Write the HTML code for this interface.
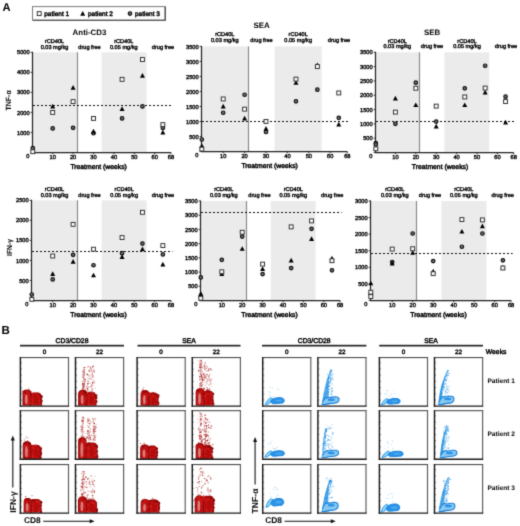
<!DOCTYPE html><html><head><meta charset="utf-8"><style>html,body{margin:0;padding:0;background:#fff;}svg{display:block;}#w{width:520px;height:526px;}text{font-family:"Liberation Sans",sans-serif;text-rendering:geometricPrecision;}</style></head><body><div id="w"><svg width="520" height="526" viewBox="0 0 520 526" font-family="Liberation Sans, sans-serif">
<defs><filter id="sb" x="0" y="0" width="520" height="526" filterUnits="userSpaceOnUse" color-interpolation-filters="sRGB"><feConvolveMatrix order="3" kernelMatrix="0.0196 0.1008 0.0196 0.1008 0.5184 0.1008 0.0196 0.1008 0.0196" divisor="1" edgeMode="duplicate" preserveAlpha="true"/></filter></defs>
<g filter="url(#sb)">
<rect width="520" height="526" fill="#fff"/>
<text x="2.4" y="11.3" font-size="11.2" text-anchor="start" font-weight="bold" fill="#000" >A</text>
<text x="1.5" y="333.8" font-size="11.5" text-anchor="start" font-weight="bold" fill="#000" >B</text>
<rect x="32.5" y="6.6" width="132.5" height="13.6" fill="#fff" stroke="#7a7a7a" stroke-width="1"/>
<path d="M33 20.3H165.3V6.6" fill="none" stroke="#444" stroke-width="1.1"/>
<rect x="37.25" y="11.65" width="3.9" height="3.9" fill="#fff" stroke="#2a2a2a" stroke-width="0.95"/>
<text x="44.2" y="15.9" font-size="6.5" text-anchor="start" fill="#000" stroke="#000" stroke-width="0.42" >patient 1</text>
<path d="M82.7 11L85.2 15.7L80.2 15.7Z" fill="#000"/>
<text x="88" y="15.9" font-size="6.5" text-anchor="start" fill="#000" stroke="#000" stroke-width="0.42" >patient 2</text>
<circle cx="130" cy="13.6" r="1.75" fill="#767676" stroke="#111" stroke-width="1.2"/>
<text x="135" y="15.9" font-size="6.5" text-anchor="start" fill="#000" stroke="#000" stroke-width="0.42" >patient 3</text>
<rect x="33.1" y="52.3" width="44.08" height="100.2" fill="#ebebeb"/>
<rect x="101.66" y="52.3" width="44.88" height="100.2" fill="#ebebeb"/>
<line x1="77.5" y1="52.3" x2="77.5" y2="152.5" stroke="#8a8a8a" stroke-width="1.2"/>
<line x1="33" y1="105.5" x2="172.52" y2="105.5" stroke="#111" stroke-width="1.2" stroke-dasharray="2 2"/>
<line x1="32.5" y1="51.8" x2="32.5" y2="153" stroke="#222" stroke-width="1.25"/>
<line x1="32" y1="152.5" x2="171.02" y2="152.5" stroke="#222" stroke-width="1.25"/>
<line x1="30.7" y1="152.5" x2="32.5" y2="152.5" stroke="#222" stroke-width="0.9"/>
<line x1="30.7" y1="132.46" x2="32.5" y2="132.46" stroke="#222" stroke-width="0.9"/>
<text x="29.7" y="134.56" font-size="5.7" text-anchor="end" fill="#000" stroke="#000" stroke-width="0.37" >1000</text>
<line x1="30.7" y1="112.42" x2="32.5" y2="112.42" stroke="#222" stroke-width="0.9"/>
<text x="29.7" y="114.52" font-size="5.7" text-anchor="end" fill="#000" stroke="#000" stroke-width="0.37" >2000</text>
<line x1="30.7" y1="92.38" x2="32.5" y2="92.38" stroke="#222" stroke-width="0.9"/>
<text x="29.7" y="94.48" font-size="5.7" text-anchor="end" fill="#000" stroke="#000" stroke-width="0.37" >3000</text>
<line x1="30.7" y1="72.34" x2="32.5" y2="72.34" stroke="#222" stroke-width="0.9"/>
<text x="29.7" y="74.44" font-size="5.7" text-anchor="end" fill="#000" stroke="#000" stroke-width="0.37" >4000</text>
<line x1="30.7" y1="52.3" x2="32.5" y2="52.3" stroke="#222" stroke-width="0.9"/>
<text x="29.7" y="54.4" font-size="5.7" text-anchor="end" fill="#000" stroke="#000" stroke-width="0.37" >5000</text>
<text x="29.3" y="157.9" font-size="5.7" text-anchor="end" fill="#000" stroke="#000" stroke-width="0.37" >0</text>
<line x1="52.7" y1="152.5" x2="52.7" y2="154.3" stroke="#222" stroke-width="0.9"/>
<text x="52.7" y="159.2" font-size="5.7" text-anchor="middle" fill="#000" stroke="#000" stroke-width="0.37" >10</text>
<line x1="73.1" y1="152.5" x2="73.1" y2="154.3" stroke="#222" stroke-width="0.9"/>
<text x="73.1" y="159.2" font-size="5.7" text-anchor="middle" fill="#000" stroke="#000" stroke-width="0.37" >20</text>
<line x1="93.5" y1="152.5" x2="93.5" y2="154.3" stroke="#222" stroke-width="0.9"/>
<text x="93.5" y="159.2" font-size="5.7" text-anchor="middle" fill="#000" stroke="#000" stroke-width="0.37" >30</text>
<line x1="113.9" y1="152.5" x2="113.9" y2="154.3" stroke="#222" stroke-width="0.9"/>
<text x="113.9" y="159.2" font-size="5.7" text-anchor="middle" fill="#000" stroke="#000" stroke-width="0.37" >40</text>
<line x1="134.3" y1="152.5" x2="134.3" y2="154.3" stroke="#222" stroke-width="0.9"/>
<text x="134.3" y="159.2" font-size="5.7" text-anchor="middle" fill="#000" stroke="#000" stroke-width="0.37" >50</text>
<line x1="154.7" y1="152.5" x2="154.7" y2="154.3" stroke="#222" stroke-width="0.9"/>
<text x="154.7" y="159.2" font-size="5.7" text-anchor="middle" fill="#000" stroke="#000" stroke-width="0.37" >60</text>
<line x1="171.02" y1="152.5" x2="171.02" y2="154.3" stroke="#222" stroke-width="0.9"/>
<text x="171.02" y="159.2" font-size="5.7" text-anchor="middle" fill="#000" stroke="#000" stroke-width="0.37" >68</text>
<text x="98.6" y="168.5" font-size="6.8" text-anchor="middle" fill="#000" stroke="#000" stroke-width="0.44" >Treatment (weeks)</text>
<text x="54.5" y="42.7" font-size="5.6" text-anchor="middle" fill="#000" stroke="#000" stroke-width="0.36" >rCD40L</text>
<text x="54.5" y="48.8" font-size="5.6" text-anchor="middle" fill="#000" stroke="#000" stroke-width="0.36" >0.03 mg/kg</text>
<text x="89.5" y="48.8" font-size="5.6" text-anchor="middle" fill="#000" stroke="#000" stroke-width="0.36" >drug free</text>
<text x="123.8" y="42.7" font-size="5.6" text-anchor="middle" fill="#000" stroke="#000" stroke-width="0.36" >rCD40L</text>
<text x="123.8" y="48.8" font-size="5.6" text-anchor="middle" fill="#000" stroke="#000" stroke-width="0.36" >0.05 mg/kg</text>
<text x="163" y="48.8" font-size="5.6" text-anchor="middle" fill="#000" stroke="#000" stroke-width="0.36" >drug free</text>
<text x="89.5" y="34.5" font-size="7.9" text-anchor="middle" font-weight="bold" fill="#000" >Anti-CD3</text>
<circle cx="32.8" cy="148.09" r="1.75" fill="#767676" stroke="#111" stroke-width="1.2"/>
<circle cx="52.7" cy="128.45" r="1.75" fill="#767676" stroke="#111" stroke-width="1.2"/>
<circle cx="73.1" cy="127.85" r="1.75" fill="#767676" stroke="#111" stroke-width="1.2"/>
<circle cx="93.5" cy="133.26" r="1.75" fill="#767676" stroke="#111" stroke-width="1.2"/>
<circle cx="122.06" cy="118.43" r="1.75" fill="#767676" stroke="#111" stroke-width="1.2"/>
<circle cx="142.46" cy="106.41" r="1.75" fill="#767676" stroke="#111" stroke-width="1.2"/>
<circle cx="162.86" cy="127.95" r="1.75" fill="#767676" stroke="#111" stroke-width="1.2"/>
<path d="M52.7 103.81L55.2 108.51L50.2 108.51Z" fill="#000"/>
<path d="M73.1 84.97L75.6 89.67L70.6 89.67Z" fill="#000"/>
<path d="M93.5 128.86L96 133.56L91 133.56Z" fill="#000"/>
<path d="M122.06 106.21L124.56 110.91L119.56 110.91Z" fill="#000"/>
<path d="M142.46 72.95L144.96 77.65L139.96 77.65Z" fill="#000"/>
<path d="M162.86 129.86L165.36 134.56L160.36 134.56Z" fill="#000"/>
<rect x="30.85" y="149.75" width="3.9" height="3.9" fill="#fff" stroke="#2a2a2a" stroke-width="0.95"/>
<rect x="50.75" y="110.47" width="3.9" height="3.9" fill="#fff" stroke="#2a2a2a" stroke-width="0.95"/>
<rect x="71.15" y="99.65" width="3.9" height="3.9" fill="#fff" stroke="#2a2a2a" stroke-width="0.95"/>
<rect x="91.55" y="116.48" width="3.9" height="3.9" fill="#fff" stroke="#2a2a2a" stroke-width="0.95"/>
<rect x="120.11" y="77.4" width="3.9" height="3.9" fill="#fff" stroke="#2a2a2a" stroke-width="0.95"/>
<rect x="140.51" y="57.56" width="3.9" height="3.9" fill="#fff" stroke="#2a2a2a" stroke-width="0.95"/>
<rect x="160.91" y="122.69" width="3.9" height="3.9" fill="#fff" stroke="#2a2a2a" stroke-width="0.95"/>
<rect x="202.1" y="46.4" width="46.78" height="105.1" fill="#ebebeb"/>
<rect x="274.56" y="46.4" width="47.08" height="105.1" fill="#ebebeb"/>
<line x1="248.5" y1="46.4" x2="248.5" y2="151.5" stroke="#8a8a8a" stroke-width="1.2"/>
<line x1="202" y1="121.5" x2="348.82" y2="121.5" stroke="#111" stroke-width="1.2" stroke-dasharray="2 2"/>
<line x1="201.5" y1="45.9" x2="201.5" y2="152" stroke="#222" stroke-width="1.25"/>
<line x1="201" y1="151.5" x2="347.32" y2="151.5" stroke="#222" stroke-width="1.25"/>
<line x1="199.7" y1="151.5" x2="201.5" y2="151.5" stroke="#222" stroke-width="0.9"/>
<line x1="199.7" y1="136.49" x2="201.5" y2="136.49" stroke="#222" stroke-width="0.9"/>
<text x="198.7" y="138.59" font-size="5.7" text-anchor="end" fill="#000" stroke="#000" stroke-width="0.37" >500</text>
<line x1="199.7" y1="121.47" x2="201.5" y2="121.47" stroke="#222" stroke-width="0.9"/>
<text x="198.7" y="123.57" font-size="5.7" text-anchor="end" fill="#000" stroke="#000" stroke-width="0.37" >1000</text>
<line x1="199.7" y1="106.46" x2="201.5" y2="106.46" stroke="#222" stroke-width="0.9"/>
<text x="198.7" y="108.56" font-size="5.7" text-anchor="end" fill="#000" stroke="#000" stroke-width="0.37" >1500</text>
<line x1="199.7" y1="91.44" x2="201.5" y2="91.44" stroke="#222" stroke-width="0.9"/>
<text x="198.7" y="93.54" font-size="5.7" text-anchor="end" fill="#000" stroke="#000" stroke-width="0.37" >2000</text>
<line x1="199.7" y1="76.43" x2="201.5" y2="76.43" stroke="#222" stroke-width="0.9"/>
<text x="198.7" y="78.53" font-size="5.7" text-anchor="end" fill="#000" stroke="#000" stroke-width="0.37" >2500</text>
<line x1="199.7" y1="61.41" x2="201.5" y2="61.41" stroke="#222" stroke-width="0.9"/>
<text x="198.7" y="63.51" font-size="5.7" text-anchor="end" fill="#000" stroke="#000" stroke-width="0.37" >3000</text>
<line x1="199.7" y1="46.4" x2="201.5" y2="46.4" stroke="#222" stroke-width="0.9"/>
<text x="198.7" y="48.5" font-size="5.7" text-anchor="end" fill="#000" stroke="#000" stroke-width="0.37" >3500</text>
<text x="198.3" y="156.9" font-size="5.7" text-anchor="end" fill="#000" stroke="#000" stroke-width="0.37" >0</text>
<line x1="223.2" y1="151.5" x2="223.2" y2="153.3" stroke="#222" stroke-width="0.9"/>
<text x="223.2" y="158.2" font-size="5.7" text-anchor="middle" fill="#000" stroke="#000" stroke-width="0.37" >10</text>
<line x1="244.6" y1="151.5" x2="244.6" y2="153.3" stroke="#222" stroke-width="0.9"/>
<text x="244.6" y="158.2" font-size="5.7" text-anchor="middle" fill="#000" stroke="#000" stroke-width="0.37" >20</text>
<line x1="266" y1="151.5" x2="266" y2="153.3" stroke="#222" stroke-width="0.9"/>
<text x="266" y="158.2" font-size="5.7" text-anchor="middle" fill="#000" stroke="#000" stroke-width="0.37" >30</text>
<line x1="287.4" y1="151.5" x2="287.4" y2="153.3" stroke="#222" stroke-width="0.9"/>
<text x="287.4" y="158.2" font-size="5.7" text-anchor="middle" fill="#000" stroke="#000" stroke-width="0.37" >40</text>
<line x1="308.8" y1="151.5" x2="308.8" y2="153.3" stroke="#222" stroke-width="0.9"/>
<text x="308.8" y="158.2" font-size="5.7" text-anchor="middle" fill="#000" stroke="#000" stroke-width="0.37" >50</text>
<line x1="330.2" y1="151.5" x2="330.2" y2="153.3" stroke="#222" stroke-width="0.9"/>
<text x="330.2" y="158.2" font-size="5.7" text-anchor="middle" fill="#000" stroke="#000" stroke-width="0.37" >60</text>
<line x1="347.32" y1="151.5" x2="347.32" y2="153.3" stroke="#222" stroke-width="0.9"/>
<text x="347.32" y="158.2" font-size="5.7" text-anchor="middle" fill="#000" stroke="#000" stroke-width="0.37" >68</text>
<text x="269.6" y="167.5" font-size="6.8" text-anchor="middle" fill="#000" stroke="#000" stroke-width="0.44" >Treatment (weeks)</text>
<text x="224.8" y="35.9" font-size="5.6" text-anchor="middle" fill="#000" stroke="#000" stroke-width="0.36" >rCD40L</text>
<text x="224.8" y="42.3" font-size="5.6" text-anchor="middle" fill="#000" stroke="#000" stroke-width="0.36" >0.03 mg/kg</text>
<text x="261.5" y="42.3" font-size="5.6" text-anchor="middle" fill="#000" stroke="#000" stroke-width="0.36" >drug free</text>
<text x="298.2" y="35.9" font-size="5.6" text-anchor="middle" fill="#000" stroke="#000" stroke-width="0.36" >rCD40L</text>
<text x="298.2" y="42.3" font-size="5.6" text-anchor="middle" fill="#000" stroke="#000" stroke-width="0.36" >0.05 mg/kg</text>
<text x="339" y="42.3" font-size="5.6" text-anchor="middle" fill="#000" stroke="#000" stroke-width="0.36" >drug free</text>
<text x="261.5" y="28.2" font-size="7.9" text-anchor="middle" font-weight="bold" fill="#000" >SEA</text>
<circle cx="201.8" cy="139.49" r="1.75" fill="#767676" stroke="#111" stroke-width="1.2"/>
<circle cx="223.2" cy="112.76" r="1.75" fill="#767676" stroke="#111" stroke-width="1.2"/>
<circle cx="244.6" cy="94.75" r="1.75" fill="#767676" stroke="#111" stroke-width="1.2"/>
<circle cx="266" cy="131.98" r="1.75" fill="#767676" stroke="#111" stroke-width="1.2"/>
<circle cx="295.96" cy="101.35" r="1.75" fill="#767676" stroke="#111" stroke-width="1.2"/>
<circle cx="317.36" cy="89.64" r="1.75" fill="#767676" stroke="#111" stroke-width="1.2"/>
<circle cx="338.76" cy="117.87" r="1.75" fill="#767676" stroke="#111" stroke-width="1.2"/>
<path d="M201.8 143.19L204.3 147.89L199.3 147.89Z" fill="#000"/>
<path d="M223.2 103.86L225.7 108.56L220.7 108.56Z" fill="#000"/>
<path d="M244.6 115.87L247.1 120.57L242.1 120.57Z" fill="#000"/>
<path d="M266 126.08L268.5 130.78L263.5 130.78Z" fill="#000"/>
<path d="M295.96 80.13L298.46 84.83L293.46 84.83Z" fill="#000"/>
<path d="M317.36 62.42L319.86 67.12L314.86 67.12Z" fill="#000"/>
<path d="M338.76 121.87L341.26 126.57L336.26 126.57Z" fill="#000"/>
<rect x="199.85" y="147.15" width="3.9" height="3.9" fill="#fff" stroke="#2a2a2a" stroke-width="0.95"/>
<rect x="221.25" y="97" width="3.9" height="3.9" fill="#fff" stroke="#2a2a2a" stroke-width="0.95"/>
<rect x="242.65" y="107.21" width="3.9" height="3.9" fill="#fff" stroke="#2a2a2a" stroke-width="0.95"/>
<rect x="264.05" y="119.52" width="3.9" height="3.9" fill="#fff" stroke="#2a2a2a" stroke-width="0.95"/>
<rect x="294.01" y="77.18" width="3.9" height="3.9" fill="#fff" stroke="#2a2a2a" stroke-width="0.95"/>
<rect x="315.41" y="64.57" width="3.9" height="3.9" fill="#fff" stroke="#2a2a2a" stroke-width="0.95"/>
<rect x="336.81" y="90.99" width="3.9" height="3.9" fill="#fff" stroke="#2a2a2a" stroke-width="0.95"/>
<rect x="376.1" y="52.3" width="43.78" height="100.2" fill="#ebebeb"/>
<rect x="444.36" y="52.3" width="44.88" height="100.2" fill="#ebebeb"/>
<line x1="419.5" y1="52.3" x2="419.5" y2="152.5" stroke="#8a8a8a" stroke-width="1.2"/>
<line x1="376" y1="121.5" x2="515.22" y2="121.5" stroke="#111" stroke-width="1.2" stroke-dasharray="2 2"/>
<line x1="375.5" y1="51.8" x2="375.5" y2="153" stroke="#222" stroke-width="1.25"/>
<line x1="375" y1="152.5" x2="513.72" y2="152.5" stroke="#222" stroke-width="1.25"/>
<line x1="373.7" y1="152.5" x2="375.5" y2="152.5" stroke="#222" stroke-width="0.9"/>
<line x1="373.7" y1="138.19" x2="375.5" y2="138.19" stroke="#222" stroke-width="0.9"/>
<text x="372.7" y="140.29" font-size="5.7" text-anchor="end" fill="#000" stroke="#000" stroke-width="0.37" >500</text>
<line x1="373.7" y1="123.87" x2="375.5" y2="123.87" stroke="#222" stroke-width="0.9"/>
<text x="372.7" y="125.97" font-size="5.7" text-anchor="end" fill="#000" stroke="#000" stroke-width="0.37" >1000</text>
<line x1="373.7" y1="109.56" x2="375.5" y2="109.56" stroke="#222" stroke-width="0.9"/>
<text x="372.7" y="111.66" font-size="5.7" text-anchor="end" fill="#000" stroke="#000" stroke-width="0.37" >1500</text>
<line x1="373.7" y1="95.24" x2="375.5" y2="95.24" stroke="#222" stroke-width="0.9"/>
<text x="372.7" y="97.34" font-size="5.7" text-anchor="end" fill="#000" stroke="#000" stroke-width="0.37" >2000</text>
<line x1="373.7" y1="80.93" x2="375.5" y2="80.93" stroke="#222" stroke-width="0.9"/>
<text x="372.7" y="83.03" font-size="5.7" text-anchor="end" fill="#000" stroke="#000" stroke-width="0.37" >2500</text>
<line x1="373.7" y1="66.61" x2="375.5" y2="66.61" stroke="#222" stroke-width="0.9"/>
<text x="372.7" y="68.71" font-size="5.7" text-anchor="end" fill="#000" stroke="#000" stroke-width="0.37" >3000</text>
<line x1="373.7" y1="52.3" x2="375.5" y2="52.3" stroke="#222" stroke-width="0.9"/>
<text x="372.7" y="54.4" font-size="5.7" text-anchor="end" fill="#000" stroke="#000" stroke-width="0.37" >3500</text>
<text x="372.3" y="157.9" font-size="5.7" text-anchor="end" fill="#000" stroke="#000" stroke-width="0.37" >0</text>
<line x1="395.4" y1="152.5" x2="395.4" y2="154.3" stroke="#222" stroke-width="0.9"/>
<text x="395.4" y="159.2" font-size="5.7" text-anchor="middle" fill="#000" stroke="#000" stroke-width="0.37" >10</text>
<line x1="415.8" y1="152.5" x2="415.8" y2="154.3" stroke="#222" stroke-width="0.9"/>
<text x="415.8" y="159.2" font-size="5.7" text-anchor="middle" fill="#000" stroke="#000" stroke-width="0.37" >20</text>
<line x1="436.2" y1="152.5" x2="436.2" y2="154.3" stroke="#222" stroke-width="0.9"/>
<text x="436.2" y="159.2" font-size="5.7" text-anchor="middle" fill="#000" stroke="#000" stroke-width="0.37" >30</text>
<line x1="456.6" y1="152.5" x2="456.6" y2="154.3" stroke="#222" stroke-width="0.9"/>
<text x="456.6" y="159.2" font-size="5.7" text-anchor="middle" fill="#000" stroke="#000" stroke-width="0.37" >40</text>
<line x1="477" y1="152.5" x2="477" y2="154.3" stroke="#222" stroke-width="0.9"/>
<text x="477" y="159.2" font-size="5.7" text-anchor="middle" fill="#000" stroke="#000" stroke-width="0.37" >50</text>
<line x1="497.4" y1="152.5" x2="497.4" y2="154.3" stroke="#222" stroke-width="0.9"/>
<text x="497.4" y="159.2" font-size="5.7" text-anchor="middle" fill="#000" stroke="#000" stroke-width="0.37" >60</text>
<line x1="513.72" y1="152.5" x2="513.72" y2="154.3" stroke="#222" stroke-width="0.9"/>
<text x="513.72" y="159.2" font-size="5.7" text-anchor="middle" fill="#000" stroke="#000" stroke-width="0.37" >68</text>
<text x="440" y="168.5" font-size="6.8" text-anchor="middle" fill="#000" stroke="#000" stroke-width="0.44" >Treatment (weeks)</text>
<text x="397.3" y="42.6" font-size="5.6" text-anchor="middle" fill="#000" stroke="#000" stroke-width="0.36" >rCD40L</text>
<text x="397.3" y="48.3" font-size="5.6" text-anchor="middle" fill="#000" stroke="#000" stroke-width="0.36" >0.03 mg/kg</text>
<text x="432" y="48.3" font-size="5.6" text-anchor="middle" fill="#000" stroke="#000" stroke-width="0.36" >drug free</text>
<text x="467" y="42.6" font-size="5.6" text-anchor="middle" fill="#000" stroke="#000" stroke-width="0.36" >rCD40L</text>
<text x="467" y="48.3" font-size="5.6" text-anchor="middle" fill="#000" stroke="#000" stroke-width="0.36" >0.05 mg/kg</text>
<text x="506" y="48.3" font-size="5.6" text-anchor="middle" fill="#000" stroke="#000" stroke-width="0.36" >drug free</text>
<text x="432" y="35" font-size="7.9" text-anchor="middle" font-weight="bold" fill="#000" >SEB</text>
<circle cx="375.8" cy="143.05" r="1.75" fill="#767676" stroke="#111" stroke-width="1.2"/>
<circle cx="375.8" cy="144.48" r="1.75" fill="#767676" stroke="#111" stroke-width="1.2"/>
<circle cx="395.4" cy="123.87" r="1.75" fill="#767676" stroke="#111" stroke-width="1.2"/>
<circle cx="415.8" cy="82.65" r="1.75" fill="#767676" stroke="#111" stroke-width="1.2"/>
<circle cx="436.2" cy="121.58" r="1.75" fill="#767676" stroke="#111" stroke-width="1.2"/>
<circle cx="464.76" cy="88.37" r="1.75" fill="#767676" stroke="#111" stroke-width="1.2"/>
<circle cx="485.16" cy="65.76" r="1.75" fill="#767676" stroke="#111" stroke-width="1.2"/>
<circle cx="505.56" cy="96.67" r="1.75" fill="#767676" stroke="#111" stroke-width="1.2"/>
<path d="M395.4 95.79L397.9 100.49L392.9 100.49Z" fill="#000"/>
<path d="M415.8 102.38L418.3 107.08L413.3 107.08Z" fill="#000"/>
<path d="M436.2 123.85L438.7 128.55L433.7 128.55Z" fill="#000"/>
<path d="M464.76 102.38L467.26 107.08L462.26 107.08Z" fill="#000"/>
<path d="M485.16 89.78L487.66 94.48L482.66 94.48Z" fill="#000"/>
<path d="M505.56 119.84L508.06 124.54L503.06 124.54Z" fill="#000"/>
<rect x="373.85" y="146.83" width="3.9" height="3.9" fill="#fff" stroke="#2a2a2a" stroke-width="0.95"/>
<rect x="393.45" y="110.18" width="3.9" height="3.9" fill="#fff" stroke="#2a2a2a" stroke-width="0.95"/>
<rect x="413.85" y="86.28" width="3.9" height="3.9" fill="#fff" stroke="#2a2a2a" stroke-width="0.95"/>
<rect x="434.25" y="104.17" width="3.9" height="3.9" fill="#fff" stroke="#2a2a2a" stroke-width="0.95"/>
<rect x="462.81" y="95.01" width="3.9" height="3.9" fill="#fff" stroke="#2a2a2a" stroke-width="0.95"/>
<rect x="483.21" y="86.14" width="3.9" height="3.9" fill="#fff" stroke="#2a2a2a" stroke-width="0.95"/>
<rect x="503.61" y="99.59" width="3.9" height="3.9" fill="#fff" stroke="#2a2a2a" stroke-width="0.95"/>
<rect x="32.1" y="200.3" width="45.08" height="100.2" fill="#ebebeb"/>
<rect x="101.66" y="200.3" width="44.88" height="100.2" fill="#ebebeb"/>
<line x1="77.5" y1="200.3" x2="77.5" y2="300.5" stroke="#8a8a8a" stroke-width="1.2"/>
<line x1="32" y1="251.5" x2="172.52" y2="251.5" stroke="#111" stroke-width="1.2" stroke-dasharray="2 2"/>
<line x1="31.5" y1="199.8" x2="31.5" y2="301" stroke="#222" stroke-width="1.25"/>
<line x1="31" y1="300.5" x2="171.02" y2="300.5" stroke="#222" stroke-width="1.25"/>
<line x1="29.7" y1="300.5" x2="31.5" y2="300.5" stroke="#222" stroke-width="0.9"/>
<line x1="29.7" y1="280.46" x2="31.5" y2="280.46" stroke="#222" stroke-width="0.9"/>
<text x="28.7" y="282.56" font-size="5.7" text-anchor="end" fill="#000" stroke="#000" stroke-width="0.37" >500</text>
<line x1="29.7" y1="260.42" x2="31.5" y2="260.42" stroke="#222" stroke-width="0.9"/>
<text x="28.7" y="262.52" font-size="5.7" text-anchor="end" fill="#000" stroke="#000" stroke-width="0.37" >1000</text>
<line x1="29.7" y1="240.38" x2="31.5" y2="240.38" stroke="#222" stroke-width="0.9"/>
<text x="28.7" y="242.48" font-size="5.7" text-anchor="end" fill="#000" stroke="#000" stroke-width="0.37" >1500</text>
<line x1="29.7" y1="220.34" x2="31.5" y2="220.34" stroke="#222" stroke-width="0.9"/>
<text x="28.7" y="222.44" font-size="5.7" text-anchor="end" fill="#000" stroke="#000" stroke-width="0.37" >2000</text>
<line x1="29.7" y1="200.3" x2="31.5" y2="200.3" stroke="#222" stroke-width="0.9"/>
<text x="28.7" y="202.4" font-size="5.7" text-anchor="end" fill="#000" stroke="#000" stroke-width="0.37" >2500</text>
<text x="28.3" y="305.9" font-size="5.7" text-anchor="end" fill="#000" stroke="#000" stroke-width="0.37" >0</text>
<line x1="52.7" y1="300.5" x2="52.7" y2="302.3" stroke="#222" stroke-width="0.9"/>
<text x="52.7" y="307.2" font-size="5.7" text-anchor="middle" fill="#000" stroke="#000" stroke-width="0.37" >10</text>
<line x1="73.1" y1="300.5" x2="73.1" y2="302.3" stroke="#222" stroke-width="0.9"/>
<text x="73.1" y="307.2" font-size="5.7" text-anchor="middle" fill="#000" stroke="#000" stroke-width="0.37" >20</text>
<line x1="93.5" y1="300.5" x2="93.5" y2="302.3" stroke="#222" stroke-width="0.9"/>
<text x="93.5" y="307.2" font-size="5.7" text-anchor="middle" fill="#000" stroke="#000" stroke-width="0.37" >30</text>
<line x1="113.9" y1="300.5" x2="113.9" y2="302.3" stroke="#222" stroke-width="0.9"/>
<text x="113.9" y="307.2" font-size="5.7" text-anchor="middle" fill="#000" stroke="#000" stroke-width="0.37" >40</text>
<line x1="134.3" y1="300.5" x2="134.3" y2="302.3" stroke="#222" stroke-width="0.9"/>
<text x="134.3" y="307.2" font-size="5.7" text-anchor="middle" fill="#000" stroke="#000" stroke-width="0.37" >50</text>
<line x1="154.7" y1="300.5" x2="154.7" y2="302.3" stroke="#222" stroke-width="0.9"/>
<text x="154.7" y="307.2" font-size="5.7" text-anchor="middle" fill="#000" stroke="#000" stroke-width="0.37" >60</text>
<line x1="171.02" y1="300.5" x2="171.02" y2="302.3" stroke="#222" stroke-width="0.9"/>
<text x="171.02" y="307.2" font-size="5.7" text-anchor="middle" fill="#000" stroke="#000" stroke-width="0.37" >68</text>
<text x="98.5" y="316.5" font-size="6.8" text-anchor="middle" fill="#000" stroke="#000" stroke-width="0.44" >Treatment (weeks)</text>
<text x="54.5" y="190.7" font-size="5.6" text-anchor="middle" fill="#000" stroke="#000" stroke-width="0.36" >rCD40L</text>
<text x="54.5" y="196.9" font-size="5.6" text-anchor="middle" fill="#000" stroke="#000" stroke-width="0.36" >0.03 mg/kg</text>
<text x="89.5" y="196.9" font-size="5.6" text-anchor="middle" fill="#000" stroke="#000" stroke-width="0.36" >drug free</text>
<text x="124.2" y="190.7" font-size="5.6" text-anchor="middle" fill="#000" stroke="#000" stroke-width="0.36" >rCD40L</text>
<text x="124.2" y="196.9" font-size="5.6" text-anchor="middle" fill="#000" stroke="#000" stroke-width="0.36" >0.05 mg/kg</text>
<text x="163" y="196.9" font-size="5.6" text-anchor="middle" fill="#000" stroke="#000" stroke-width="0.36" >drug free</text>
<circle cx="31.8" cy="294.49" r="1.75" fill="#767676" stroke="#111" stroke-width="1.2"/>
<circle cx="52.7" cy="279.46" r="1.75" fill="#767676" stroke="#111" stroke-width="1.2"/>
<circle cx="73.1" cy="254.81" r="1.75" fill="#767676" stroke="#111" stroke-width="1.2"/>
<circle cx="93.5" cy="265.23" r="1.75" fill="#767676" stroke="#111" stroke-width="1.2"/>
<circle cx="122.06" cy="253.21" r="1.75" fill="#767676" stroke="#111" stroke-width="1.2"/>
<circle cx="142.46" cy="243.59" r="1.75" fill="#767676" stroke="#111" stroke-width="1.2"/>
<circle cx="162.86" cy="254.41" r="1.75" fill="#767676" stroke="#111" stroke-width="1.2"/>
<path d="M52.7 271.25L55.2 275.95L50.2 275.95Z" fill="#000"/>
<path d="M73.1 259.02L75.6 263.72L70.6 263.72Z" fill="#000"/>
<path d="M93.5 272.65L96 277.35L91 277.35Z" fill="#000"/>
<path d="M122.06 254.21L124.56 258.91L119.56 258.91Z" fill="#000"/>
<path d="M142.46 246.6L144.96 251.3L139.96 251.3Z" fill="#000"/>
<path d="M162.86 261.83L165.36 266.53L160.36 266.53Z" fill="#000"/>
<rect x="29.85" y="297.35" width="3.9" height="3.9" fill="#fff" stroke="#2a2a2a" stroke-width="0.95"/>
<rect x="50.75" y="254.06" width="3.9" height="3.9" fill="#fff" stroke="#2a2a2a" stroke-width="0.95"/>
<rect x="71.15" y="222.4" width="3.9" height="3.9" fill="#fff" stroke="#2a2a2a" stroke-width="0.95"/>
<rect x="91.55" y="247.25" width="3.9" height="3.9" fill="#fff" stroke="#2a2a2a" stroke-width="0.95"/>
<rect x="120.11" y="235.62" width="3.9" height="3.9" fill="#fff" stroke="#2a2a2a" stroke-width="0.95"/>
<rect x="140.51" y="210.37" width="3.9" height="3.9" fill="#fff" stroke="#2a2a2a" stroke-width="0.95"/>
<rect x="160.91" y="243.64" width="3.9" height="3.9" fill="#fff" stroke="#2a2a2a" stroke-width="0.95"/>
<rect x="201.1" y="201" width="45.18" height="99.5" fill="#ebebeb"/>
<rect x="270.76" y="201" width="44.88" height="99.5" fill="#ebebeb"/>
<line x1="246.5" y1="201" x2="246.5" y2="300.5" stroke="#8a8a8a" stroke-width="1.2"/>
<line x1="201" y1="212.5" x2="341.62" y2="212.5" stroke="#111" stroke-width="1.2" stroke-dasharray="2 2"/>
<line x1="200.5" y1="200.5" x2="200.5" y2="301" stroke="#222" stroke-width="1.25"/>
<line x1="200" y1="300.5" x2="340.12" y2="300.5" stroke="#222" stroke-width="1.25"/>
<line x1="198.7" y1="300.5" x2="200.5" y2="300.5" stroke="#222" stroke-width="0.9"/>
<line x1="198.7" y1="286.29" x2="200.5" y2="286.29" stroke="#222" stroke-width="0.9"/>
<text x="197.7" y="288.39" font-size="5.7" text-anchor="end" fill="#000" stroke="#000" stroke-width="0.37" >500</text>
<line x1="198.7" y1="272.07" x2="200.5" y2="272.07" stroke="#222" stroke-width="0.9"/>
<text x="197.7" y="274.17" font-size="5.7" text-anchor="end" fill="#000" stroke="#000" stroke-width="0.37" >1000</text>
<line x1="198.7" y1="257.86" x2="200.5" y2="257.86" stroke="#222" stroke-width="0.9"/>
<text x="197.7" y="259.96" font-size="5.7" text-anchor="end" fill="#000" stroke="#000" stroke-width="0.37" >1500</text>
<line x1="198.7" y1="243.64" x2="200.5" y2="243.64" stroke="#222" stroke-width="0.9"/>
<text x="197.7" y="245.74" font-size="5.7" text-anchor="end" fill="#000" stroke="#000" stroke-width="0.37" >2000</text>
<line x1="198.7" y1="229.43" x2="200.5" y2="229.43" stroke="#222" stroke-width="0.9"/>
<text x="197.7" y="231.53" font-size="5.7" text-anchor="end" fill="#000" stroke="#000" stroke-width="0.37" >2500</text>
<line x1="198.7" y1="215.21" x2="200.5" y2="215.21" stroke="#222" stroke-width="0.9"/>
<text x="197.7" y="217.31" font-size="5.7" text-anchor="end" fill="#000" stroke="#000" stroke-width="0.37" >3000</text>
<line x1="198.7" y1="201" x2="200.5" y2="201" stroke="#222" stroke-width="0.9"/>
<text x="197.7" y="203.1" font-size="5.7" text-anchor="end" fill="#000" stroke="#000" stroke-width="0.37" >3500</text>
<text x="197.3" y="305.9" font-size="5.7" text-anchor="end" fill="#000" stroke="#000" stroke-width="0.37" >0</text>
<line x1="221.8" y1="300.5" x2="221.8" y2="302.3" stroke="#222" stroke-width="0.9"/>
<text x="221.8" y="307.2" font-size="5.7" text-anchor="middle" fill="#000" stroke="#000" stroke-width="0.37" >10</text>
<line x1="242.2" y1="300.5" x2="242.2" y2="302.3" stroke="#222" stroke-width="0.9"/>
<text x="242.2" y="307.2" font-size="5.7" text-anchor="middle" fill="#000" stroke="#000" stroke-width="0.37" >20</text>
<line x1="262.6" y1="300.5" x2="262.6" y2="302.3" stroke="#222" stroke-width="0.9"/>
<text x="262.6" y="307.2" font-size="5.7" text-anchor="middle" fill="#000" stroke="#000" stroke-width="0.37" >30</text>
<line x1="283" y1="300.5" x2="283" y2="302.3" stroke="#222" stroke-width="0.9"/>
<text x="283" y="307.2" font-size="5.7" text-anchor="middle" fill="#000" stroke="#000" stroke-width="0.37" >40</text>
<line x1="303.4" y1="300.5" x2="303.4" y2="302.3" stroke="#222" stroke-width="0.9"/>
<text x="303.4" y="307.2" font-size="5.7" text-anchor="middle" fill="#000" stroke="#000" stroke-width="0.37" >50</text>
<line x1="323.8" y1="300.5" x2="323.8" y2="302.3" stroke="#222" stroke-width="0.9"/>
<text x="323.8" y="307.2" font-size="5.7" text-anchor="middle" fill="#000" stroke="#000" stroke-width="0.37" >60</text>
<line x1="340.12" y1="300.5" x2="340.12" y2="302.3" stroke="#222" stroke-width="0.9"/>
<text x="340.12" y="307.2" font-size="5.7" text-anchor="middle" fill="#000" stroke="#000" stroke-width="0.37" >68</text>
<text x="269.5" y="316.5" font-size="6.8" text-anchor="middle" fill="#000" stroke="#000" stroke-width="0.44" >Treatment (weeks)</text>
<text x="223.8" y="190.8" font-size="5.6" text-anchor="middle" fill="#000" stroke="#000" stroke-width="0.36" >rCD40L</text>
<text x="223.8" y="197" font-size="5.6" text-anchor="middle" fill="#000" stroke="#000" stroke-width="0.36" >0.03 mg/kg</text>
<text x="259.5" y="197" font-size="5.6" text-anchor="middle" fill="#000" stroke="#000" stroke-width="0.36" >drug free</text>
<text x="293.3" y="190.8" font-size="5.6" text-anchor="middle" fill="#000" stroke="#000" stroke-width="0.36" >rCD40L</text>
<text x="293.3" y="197" font-size="5.6" text-anchor="middle" fill="#000" stroke="#000" stroke-width="0.36" >0.05 mg/kg</text>
<text x="332.3" y="197" font-size="5.6" text-anchor="middle" fill="#000" stroke="#000" stroke-width="0.36" >drug free</text>
<circle cx="200.8" cy="277.47" r="1.75" fill="#767676" stroke="#111" stroke-width="1.2"/>
<circle cx="200.8" cy="296.8" r="1.75" fill="#767676" stroke="#111" stroke-width="1.2"/>
<circle cx="221.8" cy="259.85" r="1.75" fill="#767676" stroke="#111" stroke-width="1.2"/>
<circle cx="242.2" cy="236.54" r="1.75" fill="#767676" stroke="#111" stroke-width="1.2"/>
<circle cx="262.6" cy="274.06" r="1.75" fill="#767676" stroke="#111" stroke-width="1.2"/>
<circle cx="291.16" cy="268.09" r="1.75" fill="#767676" stroke="#111" stroke-width="1.2"/>
<circle cx="311.56" cy="228.86" r="1.75" fill="#767676" stroke="#111" stroke-width="1.2"/>
<circle cx="331.96" cy="270.37" r="1.75" fill="#767676" stroke="#111" stroke-width="1.2"/>
<path d="M200.8 291.08L203.3 295.78L198.3 295.78Z" fill="#000"/>
<path d="M221.8 271.18L224.3 275.88L219.3 275.88Z" fill="#000"/>
<path d="M242.2 246.16L244.7 250.86L239.7 250.86Z" fill="#000"/>
<path d="M262.6 266.34L265.1 271.04L260.1 271.04Z" fill="#000"/>
<path d="M291.16 257.82L293.66 262.52L288.66 262.52Z" fill="#000"/>
<path d="M311.56 236.21L314.06 240.91L309.06 240.91Z" fill="#000"/>
<path d="M331.96 255.83L334.46 260.53L329.46 260.53Z" fill="#000"/>
<rect x="198.85" y="296.28" width="3.9" height="3.9" fill="#fff" stroke="#2a2a2a" stroke-width="0.95"/>
<rect x="219.85" y="269.84" width="3.9" height="3.9" fill="#fff" stroke="#2a2a2a" stroke-width="0.95"/>
<rect x="240.25" y="230.32" width="3.9" height="3.9" fill="#fff" stroke="#2a2a2a" stroke-width="0.95"/>
<rect x="260.65" y="262.16" width="3.9" height="3.9" fill="#fff" stroke="#2a2a2a" stroke-width="0.95"/>
<rect x="289.21" y="224.92" width="3.9" height="3.9" fill="#fff" stroke="#2a2a2a" stroke-width="0.95"/>
<rect x="309.61" y="218.95" width="3.9" height="3.9" fill="#fff" stroke="#2a2a2a" stroke-width="0.95"/>
<rect x="330.01" y="258.75" width="3.9" height="3.9" fill="#fff" stroke="#2a2a2a" stroke-width="0.95"/>
<rect x="371.1" y="201" width="45.7" height="99.5" fill="#ebebeb"/>
<rect x="441.4" y="201" width="45.1" height="99.5" fill="#ebebeb"/>
<line x1="416.5" y1="201" x2="416.5" y2="300.5" stroke="#8a8a8a" stroke-width="1.2"/>
<line x1="371" y1="253.5" x2="512.6" y2="253.5" stroke="#111" stroke-width="1.2" stroke-dasharray="2 2"/>
<line x1="370.5" y1="200.5" x2="370.5" y2="301" stroke="#222" stroke-width="1.25"/>
<line x1="370" y1="300.5" x2="511.1" y2="300.5" stroke="#222" stroke-width="1.25"/>
<line x1="368.7" y1="300.5" x2="370.5" y2="300.5" stroke="#222" stroke-width="0.9"/>
<line x1="368.7" y1="283.92" x2="370.5" y2="283.92" stroke="#222" stroke-width="0.9"/>
<text x="367.7" y="286.02" font-size="5.7" text-anchor="end" fill="#000" stroke="#000" stroke-width="0.37" >500</text>
<line x1="368.7" y1="267.33" x2="370.5" y2="267.33" stroke="#222" stroke-width="0.9"/>
<text x="367.7" y="269.43" font-size="5.7" text-anchor="end" fill="#000" stroke="#000" stroke-width="0.37" >1000</text>
<line x1="368.7" y1="250.75" x2="370.5" y2="250.75" stroke="#222" stroke-width="0.9"/>
<text x="367.7" y="252.85" font-size="5.7" text-anchor="end" fill="#000" stroke="#000" stroke-width="0.37" >1500</text>
<line x1="368.7" y1="234.17" x2="370.5" y2="234.17" stroke="#222" stroke-width="0.9"/>
<text x="367.7" y="236.27" font-size="5.7" text-anchor="end" fill="#000" stroke="#000" stroke-width="0.37" >2000</text>
<line x1="368.7" y1="217.58" x2="370.5" y2="217.58" stroke="#222" stroke-width="0.9"/>
<text x="367.7" y="219.68" font-size="5.7" text-anchor="end" fill="#000" stroke="#000" stroke-width="0.37" >2500</text>
<line x1="368.7" y1="201" x2="370.5" y2="201" stroke="#222" stroke-width="0.9"/>
<text x="367.7" y="203.1" font-size="5.7" text-anchor="end" fill="#000" stroke="#000" stroke-width="0.37" >3000</text>
<text x="367.3" y="305.9" font-size="5.7" text-anchor="end" fill="#000" stroke="#000" stroke-width="0.37" >0</text>
<line x1="392.2" y1="300.5" x2="392.2" y2="302.3" stroke="#222" stroke-width="0.9"/>
<text x="392.2" y="307.2" font-size="5.7" text-anchor="middle" fill="#000" stroke="#000" stroke-width="0.37" >10</text>
<line x1="412.7" y1="300.5" x2="412.7" y2="302.3" stroke="#222" stroke-width="0.9"/>
<text x="412.7" y="307.2" font-size="5.7" text-anchor="middle" fill="#000" stroke="#000" stroke-width="0.37" >20</text>
<line x1="433.2" y1="300.5" x2="433.2" y2="302.3" stroke="#222" stroke-width="0.9"/>
<text x="433.2" y="307.2" font-size="5.7" text-anchor="middle" fill="#000" stroke="#000" stroke-width="0.37" >30</text>
<line x1="453.7" y1="300.5" x2="453.7" y2="302.3" stroke="#222" stroke-width="0.9"/>
<text x="453.7" y="307.2" font-size="5.7" text-anchor="middle" fill="#000" stroke="#000" stroke-width="0.37" >40</text>
<line x1="474.2" y1="300.5" x2="474.2" y2="302.3" stroke="#222" stroke-width="0.9"/>
<text x="474.2" y="307.2" font-size="5.7" text-anchor="middle" fill="#000" stroke="#000" stroke-width="0.37" >50</text>
<line x1="494.7" y1="300.5" x2="494.7" y2="302.3" stroke="#222" stroke-width="0.9"/>
<text x="494.7" y="307.2" font-size="5.7" text-anchor="middle" fill="#000" stroke="#000" stroke-width="0.37" >60</text>
<line x1="511.1" y1="300.5" x2="511.1" y2="302.3" stroke="#222" stroke-width="0.9"/>
<text x="511.1" y="307.2" font-size="5.7" text-anchor="middle" fill="#000" stroke="#000" stroke-width="0.37" >68</text>
<text x="438.5" y="316.5" font-size="6.8" text-anchor="middle" fill="#000" stroke="#000" stroke-width="0.44" >Treatment (weeks)</text>
<text x="394.8" y="191" font-size="5.6" text-anchor="middle" fill="#000" stroke="#000" stroke-width="0.36" >rCD40L</text>
<text x="394.8" y="197.2" font-size="5.6" text-anchor="middle" fill="#000" stroke="#000" stroke-width="0.36" >0.03 mg/kg</text>
<text x="430" y="197.2" font-size="5.6" text-anchor="middle" fill="#000" stroke="#000" stroke-width="0.36" >drug free</text>
<text x="463.8" y="191" font-size="5.6" text-anchor="middle" fill="#000" stroke="#000" stroke-width="0.36" >rCD40L</text>
<text x="463.8" y="197.2" font-size="5.6" text-anchor="middle" fill="#000" stroke="#000" stroke-width="0.36" >0.05 mg/kg</text>
<text x="502.7" y="197.2" font-size="5.6" text-anchor="middle" fill="#000" stroke="#000" stroke-width="0.36" >drug free</text>
<circle cx="370.8" cy="294.86" r="1.75" fill="#767676" stroke="#111" stroke-width="1.2"/>
<circle cx="392.2" cy="262.03" r="1.75" fill="#767676" stroke="#111" stroke-width="1.2"/>
<circle cx="412.7" cy="233.5" r="1.75" fill="#767676" stroke="#111" stroke-width="1.2"/>
<circle cx="433.2" cy="261.03" r="1.75" fill="#767676" stroke="#111" stroke-width="1.2"/>
<circle cx="461.9" cy="246.77" r="1.75" fill="#767676" stroke="#111" stroke-width="1.2"/>
<circle cx="482.4" cy="233.5" r="1.75" fill="#767676" stroke="#111" stroke-width="1.2"/>
<circle cx="502.9" cy="260.37" r="1.75" fill="#767676" stroke="#111" stroke-width="1.2"/>
<path d="M370.8 280.65L373.3 285.35L368.3 285.35Z" fill="#000"/>
<path d="M392.2 260.75L394.7 265.45L389.7 265.45Z" fill="#000"/>
<path d="M412.7 250.14L415.2 254.84L410.2 254.84Z" fill="#000"/>
<path d="M433.2 268.71L435.7 273.41L430.7 273.41Z" fill="#000"/>
<path d="M461.9 228.91L464.4 233.61L459.4 233.61Z" fill="#000"/>
<path d="M482.4 223.61L484.9 228.31L479.9 228.31Z" fill="#000"/>
<path d="M502.9 264.73L505.4 269.43L500.4 269.43Z" fill="#000"/>
<rect x="368.85" y="290.26" width="3.9" height="3.9" fill="#fff" stroke="#2a2a2a" stroke-width="0.95"/>
<rect x="368.85" y="294.57" width="3.9" height="3.9" fill="#fff" stroke="#2a2a2a" stroke-width="0.95"/>
<rect x="390.25" y="247.14" width="3.9" height="3.9" fill="#fff" stroke="#2a2a2a" stroke-width="0.95"/>
<rect x="410.75" y="246.81" width="3.9" height="3.9" fill="#fff" stroke="#2a2a2a" stroke-width="0.95"/>
<rect x="431.25" y="271.69" width="3.9" height="3.9" fill="#fff" stroke="#2a2a2a" stroke-width="0.95"/>
<rect x="459.95" y="217.62" width="3.9" height="3.9" fill="#fff" stroke="#2a2a2a" stroke-width="0.95"/>
<rect x="480.45" y="217.96" width="3.9" height="3.9" fill="#fff" stroke="#2a2a2a" stroke-width="0.95"/>
<rect x="500.95" y="266.05" width="3.9" height="3.9" fill="#fff" stroke="#2a2a2a" stroke-width="0.95"/>
<text x="0" y="0" font-size="7.6" text-anchor="middle" font-weight="bold" fill="#000" transform="translate(11.0 100.4) rotate(-90) scale(0.92 1)">TNF-α</text>
<text x="0" y="0" font-size="7.4" text-anchor="middle" font-weight="bold" fill="#000" transform="translate(12.3 247.5) rotate(-90) scale(0.92 1)">IFN-γ</text>
<rect x="20" y="344.8" width="104" height="1.7" fill="#222"/>
<text x="72" y="342.5" font-size="6.8" text-anchor="middle" fill="#000" stroke="#000" stroke-width="0.44" >CD3/CD28</text>
<rect x="137.5" y="344.8" width="103.0" height="1.7" fill="#222"/>
<text x="189" y="342.5" font-size="6.8" text-anchor="middle" fill="#000" stroke="#000" stroke-width="0.44" >SEA</text>
<rect x="262" y="344.8" width="104.39999999999998" height="1.7" fill="#222"/>
<text x="314.2" y="342.5" font-size="6.8" text-anchor="middle" fill="#000" stroke="#000" stroke-width="0.44" >CD3/CD28</text>
<rect x="379.2" y="344.8" width="103.80000000000001" height="1.7" fill="#222"/>
<text x="431.1" y="342.5" font-size="6.8" text-anchor="middle" fill="#000" stroke="#000" stroke-width="0.44" >SEA</text>
<text x="44.4" y="354.3" font-size="6.3" text-anchor="middle" fill="#000" stroke="#000" stroke-width="0.41" >0</text>
<text x="99.5" y="354.3" font-size="6.3" text-anchor="middle" fill="#000" stroke="#000" stroke-width="0.41" >22</text>
<text x="161.1" y="354.3" font-size="6.3" text-anchor="middle" fill="#000" stroke="#000" stroke-width="0.41" >0</text>
<text x="216.3" y="354.3" font-size="6.3" text-anchor="middle" fill="#000" stroke="#000" stroke-width="0.41" >22</text>
<text x="286.7" y="354.3" font-size="6.3" text-anchor="middle" fill="#000" stroke="#000" stroke-width="0.41" >0</text>
<text x="341.9" y="354.3" font-size="6.3" text-anchor="middle" fill="#000" stroke="#000" stroke-width="0.41" >22</text>
<text x="403.4" y="354.3" font-size="6.3" text-anchor="middle" fill="#000" stroke="#000" stroke-width="0.41" >0</text>
<text x="458.5" y="354.3" font-size="6.3" text-anchor="middle" fill="#000" stroke="#000" stroke-width="0.41" >22</text>
<text x="485.8" y="354.3" font-size="6.8" text-anchor="start" fill="#000" stroke="#000" stroke-width="0.44" >Weeks</text>
<text x="487.5" y="383.1" font-size="6.55" text-anchor="start" font-weight="bold" fill="#000" >Patient 1</text>
<text x="487.5" y="436.2" font-size="6.55" text-anchor="start" font-weight="bold" fill="#000" >Patient 2</text>
<text x="487.5" y="490.1" font-size="6.55" text-anchor="start" font-weight="bold" fill="#000" >Patient 3</text>
<clipPath id="c00"><rect x="21.2" y="358" width="46.9" height="47.6"/></clipPath>
<g clip-path="url(#c00)">
<rect x="28.53" y="389.36" width="1.2" height="1.2" fill="#d89a9a"/>
<rect x="21.51" y="388.84" width="1.0" height="1.0" fill="#d89a9a"/>
<rect x="21.73" y="390.84" width="1.0" height="1.0" fill="#c04848"/>
<rect x="30.62" y="391.33" width="1.2" height="1.2" fill="#b02525"/>
<rect x="28.41" y="388.45" width="1.0" height="1.0" fill="#c04848"/>
<rect x="17.26" y="391.57" width="1.2" height="1.2" fill="#b02525"/>
<path d="M29.5 405.8 L29.5 397.2 Q29.5 393 33.7 393 L37.1 393 Q41.3 393 41.3 397.2 L41.3 405.8 Z" fill="#c81414" stroke="#8e0909" stroke-width="1.1"/>
<path d="M23 405.8 L23 393.85 Q23 390 26.85 390 L26.85 390 Q30.7 390 30.7 393.85 L30.7 405.8 Z" fill="#c81414" stroke="#8e0909" stroke-width="1.1"/>
<circle cx="29.14" cy="391.44" r="0.95" fill="#c81414"/>
<circle cx="34.11" cy="394.17" r="1.23" fill="#c81414"/>
<circle cx="31.14" cy="394.32" r="0.92" fill="#a80c0c"/>
<circle cx="39.51" cy="394.83" r="0.57" fill="#a80c0c"/>
<circle cx="37.9" cy="393.48" r="1.03" fill="#c81414"/>
<circle cx="37.96" cy="394.07" r="0.77" fill="#a80c0c"/>
<circle cx="38.71" cy="394.17" r="0.65" fill="#8e0909"/>
<circle cx="37.52" cy="393.86" r="0.61" fill="#8e0909"/>
<circle cx="24.72" cy="391.45" r="0.76" fill="#c81414"/>
<circle cx="25.23" cy="391.32" r="0.94" fill="#a80c0c"/>
<circle cx="29.19" cy="391.36" r="1.24" fill="#a80c0c"/>
<circle cx="32.99" cy="393.53" r="0.73" fill="#c81414"/>
<circle cx="28.91" cy="391.15" r="0.69" fill="#8e0909"/>
<circle cx="23.88" cy="392" r="1.29" fill="#8e0909"/>
<circle cx="24.89" cy="391.64" r="1.11" fill="#8e0909"/>
<circle cx="38.21" cy="394.29" r="1.22" fill="#a80c0c"/>
<circle cx="35.4" cy="393.82" r="1.17" fill="#a80c0c"/>
<circle cx="37.67" cy="394.15" r="1.18" fill="#a80c0c"/>
<circle cx="37.91" cy="393.7" r="0.84" fill="#c81414"/>
<circle cx="34.99" cy="394.13" r="1.3" fill="#c81414"/>
<circle cx="24.76" cy="391.41" r="0.99" fill="#a80c0c"/>
<circle cx="29.23" cy="391.24" r="0.65" fill="#c81414"/>
<circle cx="25.37" cy="391.33" r="0.68" fill="#c81414"/>
<circle cx="30.84" cy="395.15" r="0.55" fill="#a80c0c"/>
<circle cx="41.79" cy="397.36" r="0.94" fill="#8e0909"/>
<circle cx="41.66" cy="405.11" r="0.55" fill="#8e0909"/>
<circle cx="41.41" cy="396.34" r="1.08" fill="#8e0909"/>
<circle cx="41.35" cy="396.29" r="1.08" fill="#8e0909"/>
<circle cx="41.66" cy="396.25" r="0.64" fill="#8e0909"/>
<circle cx="41.73" cy="405.48" r="0.84" fill="#8e0909"/>
<circle cx="41.34" cy="402.85" r="0.98" fill="#8e0909"/>
<circle cx="41.67" cy="400.88" r="1.09" fill="#8e0909"/>
<circle cx="41.34" cy="395.76" r="0.71" fill="#8e0909"/>
<circle cx="41.34" cy="399.71" r="0.83" fill="#8e0909"/>
<rect x="33.92" y="402.25" width="0.9" height="0.9" fill="#8a0808"/>
<rect x="26.65" y="396.31" width="0.9" height="0.9" fill="#8a0808"/>
<rect x="38.34" y="404.84" width="0.9" height="0.9" fill="#a80c0c"/>
<rect x="35.77" y="396.4" width="0.9" height="0.9" fill="#9a0a0a"/>
<rect x="37.43" y="395.87" width="0.9" height="0.9" fill="#a80c0c"/>
<rect x="29.26" y="394.71" width="0.9" height="0.9" fill="#8a0808"/>
<rect x="35.18" y="394.16" width="0.9" height="0.9" fill="#8a0808"/>
<rect x="39.47" y="404.32" width="0.9" height="0.9" fill="#e03030"/>
<rect x="34.88" y="398.59" width="0.9" height="0.9" fill="#e03030"/>
<rect x="25.81" y="401.22" width="0.9" height="0.9" fill="#8a0808"/>
<rect x="36.57" y="397.96" width="0.9" height="0.9" fill="#9a0a0a"/>
<rect x="32.96" y="395.59" width="0.9" height="0.9" fill="#8a0808"/>
<rect x="29.45" y="395.26" width="0.9" height="0.9" fill="#e03030"/>
<rect x="33.8" y="404.52" width="0.9" height="0.9" fill="#a80c0c"/>
<rect x="36.1" y="398.58" width="0.9" height="0.9" fill="#8a0808"/>
<rect x="38.17" y="394.95" width="0.9" height="0.9" fill="#a80c0c"/>
<rect x="35.78" y="395.89" width="0.9" height="0.9" fill="#a80c0c"/>
<rect x="34.66" y="398.47" width="0.9" height="0.9" fill="#8a0808"/>
<rect x="23.58" y="403.9" width="0.9" height="0.9" fill="#8a0808"/>
<rect x="37.13" y="402.37" width="0.9" height="0.9" fill="#a80c0c"/>
<rect x="31.15" y="397.06" width="0.9" height="0.9" fill="#a80c0c"/>
<rect x="31.17" y="404.44" width="0.9" height="0.9" fill="#9a0a0a"/>
<rect x="39.17" y="399.84" width="0.9" height="0.9" fill="#e03030"/>
<rect x="38.33" y="394.59" width="0.9" height="0.9" fill="#8a0808"/>
<rect x="26.44" y="405.79" width="0.9" height="0.9" fill="#9a0a0a"/>
<rect x="38.33" y="395.54" width="0.9" height="0.9" fill="#9a0a0a"/>
<rect x="30.35" y="402.01" width="0.9" height="0.9" fill="#e03030"/>
<rect x="23.06" y="391.21" width="0.9" height="0.9" fill="#9a0a0a"/>
<rect x="40.94" y="401.97" width="0.9" height="0.9" fill="#9a0a0a"/>
<rect x="26.49" y="400" width="0.9" height="0.9" fill="#a80c0c"/>
<rect x="38.99" y="397.3" width="0.9" height="0.9" fill="#a80c0c"/>
<rect x="24.83" y="403.64" width="0.9" height="0.9" fill="#8a0808"/>
<rect x="34.49" y="394.26" width="0.9" height="0.9" fill="#8a0808"/>
<rect x="37.64" y="395.37" width="0.9" height="0.9" fill="#e03030"/>
<rect x="25.44" y="398.71" width="0.9" height="0.9" fill="#e03030"/>
<rect x="25.11" y="393.29" width="0.9" height="0.9" fill="#9a0a0a"/>
<rect x="23.77" y="394.04" width="0.9" height="0.9" fill="#e03030"/>
<rect x="33.22" y="405.17" width="0.9" height="0.9" fill="#9a0a0a"/>
<rect x="38.49" y="405.34" width="0.9" height="0.9" fill="#8a0808"/>
<rect x="36.04" y="404.65" width="0.9" height="0.9" fill="#8a0808"/>
<rect x="29.82" y="398.96" width="0.9" height="0.9" fill="#a80c0c"/>
<rect x="29.87" y="395.31" width="0.9" height="0.9" fill="#a80c0c"/>
<rect x="25.76" y="395.93" width="0.9" height="0.9" fill="#e03030"/>
<rect x="36.15" y="397.99" width="0.9" height="0.9" fill="#9a0a0a"/>
<rect x="23.75" y="393.43" width="0.9" height="0.9" fill="#e03030"/>
<rect x="29.6" y="405.64" width="0.9" height="0.9" fill="#a80c0c"/>
<rect x="28.37" y="398.08" width="0.9" height="0.9" fill="#a80c0c"/>
<rect x="40.09" y="397.63" width="0.9" height="0.9" fill="#9a0a0a"/>
<rect x="28.54" y="403.37" width="0.9" height="0.9" fill="#e03030"/>
<rect x="30.59" y="395.17" width="0.9" height="0.9" fill="#8a0808"/>
<rect x="31.67" y="403.92" width="0.9" height="0.9" fill="#e03030"/>
<rect x="25.28" y="392.72" width="0.9" height="0.9" fill="#8a0808"/>
<rect x="30.81" y="397.56" width="0.9" height="0.9" fill="#a80c0c"/>
<rect x="39.83" y="401.4" width="0.9" height="0.9" fill="#8a0808"/>
<rect x="37.75" y="405.7" width="0.9" height="0.9" fill="#9a0a0a"/>
<rect x="24.2" y="392.25" width="0.9" height="0.9" fill="#a80c0c"/>
<rect x="24.12" y="391.12" width="0.9" height="0.9" fill="#8a0808"/>
<rect x="33.18" y="397.42" width="0.9" height="0.9" fill="#8a0808"/>
<rect x="37.43" y="402.43" width="0.9" height="0.9" fill="#a80c0c"/>
<rect x="30.74" y="398.35" width="0.9" height="0.9" fill="#e03030"/>
<rect x="33.71" y="395.97" width="0.9" height="0.9" fill="#a80c0c"/>
<rect x="29.56" y="391.95" width="0.9" height="0.9" fill="#9a0a0a"/>
<rect x="39.53" y="399.33" width="0.9" height="0.9" fill="#a80c0c"/>
<rect x="25.18" y="396.89" width="0.9" height="0.9" fill="#a80c0c"/>
<rect x="34.73" y="405.77" width="0.9" height="0.9" fill="#a80c0c"/>
<rect x="34.41" y="395.23" width="0.9" height="0.9" fill="#8a0808"/>
<rect x="29.92" y="399.09" width="0.9" height="0.9" fill="#a80c0c"/>
<rect x="24.92" y="399.82" width="0.9" height="0.9" fill="#8a0808"/>
<rect x="25.72" y="397.01" width="0.9" height="0.9" fill="#8a0808"/>
<rect x="39.06" y="399.85" width="0.9" height="0.9" fill="#e03030"/>
<ellipse cx="26.29" cy="399.4" rx="1.4" ry="4.9" fill="#d88a86" opacity="0.9"/>
<ellipse cx="36.3" cy="400.4" rx="2.4" ry="3.9" fill="#b30c0c"/>
</g>
<line x1="19.7" y1="357.6" x2="69.1" y2="357.6" stroke="#3a3a3a" stroke-width="1"/>
<line x1="68.5" y1="357.2" x2="68.5" y2="406.2" stroke="#5a5a5a" stroke-width="1.15"/>
<line x1="20.4" y1="357.2" x2="20.4" y2="406.8" stroke="#151515" stroke-width="1.45"/>
<line x1="19.7" y1="406.1" x2="69.1" y2="406.1" stroke="#1a1a1a" stroke-width="1.35"/>
<line x1="20.9" y1="400" x2="21.9" y2="400" stroke="#333" stroke-width="0.6"/>
<line x1="20.9" y1="393.8" x2="21.9" y2="393.8" stroke="#333" stroke-width="0.6"/>
<line x1="20.9" y1="387.6" x2="21.9" y2="387.6" stroke="#333" stroke-width="0.6"/>
<line x1="20.9" y1="381.4" x2="21.9" y2="381.4" stroke="#333" stroke-width="0.6"/>
<line x1="20.9" y1="375.2" x2="21.9" y2="375.2" stroke="#333" stroke-width="0.6"/>
<line x1="20.9" y1="369" x2="21.9" y2="369" stroke="#333" stroke-width="0.6"/>
<line x1="20.9" y1="362.8" x2="21.9" y2="362.8" stroke="#333" stroke-width="0.6"/>
<clipPath id="c01"><rect x="76.3" y="358" width="46.9" height="47.6"/></clipPath>
<g clip-path="url(#c01)">
<rect x="84.07" y="373.69" width="0.9" height="0.9" fill="#d89a9a"/>
<rect x="84.17" y="381.51" width="1.0" height="1.0" fill="#e8c0c0"/>
<rect x="82.69" y="391.04" width="1.0" height="1.0" fill="#a01818"/>
<rect x="82.44" y="383.2" width="1.2" height="1.2" fill="#a01818"/>
<rect x="82.4" y="388.25" width="1.0" height="1.0" fill="#b02525"/>
<rect x="83.62" y="392.06" width="1.2" height="1.2" fill="#a01818"/>
<rect x="81.93" y="384.55" width="1.0" height="1.0" fill="#c86868"/>
<rect x="82.93" y="374.85" width="0.9" height="0.9" fill="#d8a8a8"/>
<rect x="83.42" y="379.91" width="0.9" height="0.9" fill="#e0b0b0"/>
<rect x="81.89" y="376.32" width="1.0" height="1.0" fill="#e8c0c0"/>
<rect x="83.86" y="368.91" width="0.9" height="0.9" fill="#b02525"/>
<rect x="83.02" y="377.71" width="0.9" height="0.9" fill="#d89a9a"/>
<rect x="83.25" y="367.07" width="1.0" height="1.0" fill="#d8a8a8"/>
<rect x="82.03" y="381.17" width="1.0" height="1.0" fill="#c86868"/>
<rect x="82.96" y="381.4" width="1.0" height="1.0" fill="#d8a8a8"/>
<rect x="84.88" y="378.88" width="1.0" height="1.0" fill="#a01818"/>
<rect x="83.35" y="383.69" width="1.0" height="1.0" fill="#c04848"/>
<rect x="84.37" y="380.02" width="0.9" height="0.9" fill="#e0b0b0"/>
<rect x="82.64" y="373.24" width="1.0" height="1.0" fill="#d8a8a8"/>
<rect x="83.57" y="384.83" width="1.0" height="1.0" fill="#a01818"/>
<rect x="84.2" y="366.75" width="1.2" height="1.2" fill="#cc8080"/>
<rect x="83.55" y="389.53" width="0.9" height="0.9" fill="#d8a8a8"/>
<rect x="84.32" y="380.28" width="0.9" height="0.9" fill="#d8a8a8"/>
<rect x="83.18" y="383.95" width="1.2" height="1.2" fill="#e0b0b0"/>
<rect x="82.5" y="376.84" width="1.0" height="1.0" fill="#a01818"/>
<rect x="84.35" y="373.08" width="0.9" height="0.9" fill="#d8a8a8"/>
<rect x="82.54" y="383.38" width="1.0" height="1.0" fill="#a01818"/>
<rect x="83.21" y="370.39" width="0.9" height="0.9" fill="#d8a8a8"/>
<rect x="83.88" y="372.16" width="1.0" height="1.0" fill="#cc8080"/>
<rect x="83.08" y="392.39" width="1.2" height="1.2" fill="#d8a8a8"/>
<rect x="83.42" y="378.57" width="1.2" height="1.2" fill="#c86868"/>
<rect x="82.78" y="389.39" width="0.9" height="0.9" fill="#c04848"/>
<rect x="83.62" y="372.07" width="0.9" height="0.9" fill="#d89a9a"/>
<rect x="82.28" y="371.28" width="0.9" height="0.9" fill="#b02525"/>
<rect x="83.75" y="373.99" width="0.9" height="0.9" fill="#d89a9a"/>
<rect x="82.81" y="387.33" width="1.0" height="1.0" fill="#c04848"/>
<rect x="83.21" y="387.65" width="1.2" height="1.2" fill="#c04848"/>
<rect x="83.65" y="387.23" width="1.0" height="1.0" fill="#d89a9a"/>
<rect x="83.09" y="390.66" width="1.0" height="1.0" fill="#d89a9a"/>
<rect x="82.63" y="385.51" width="1.0" height="1.0" fill="#c86868"/>
<rect x="84.3" y="381.1" width="1.2" height="1.2" fill="#c86868"/>
<rect x="84.11" y="383.23" width="0.9" height="0.9" fill="#a01818"/>
<rect x="83.64" y="375.06" width="1.0" height="1.0" fill="#c04848"/>
<rect x="83.34" y="375.49" width="1.2" height="1.2" fill="#cc8080"/>
<rect x="84.11" y="377.67" width="1.0" height="1.0" fill="#d8a8a8"/>
<rect x="81.87" y="388.38" width="1.0" height="1.0" fill="#a01818"/>
<rect x="82.81" y="376.82" width="0.9" height="0.9" fill="#cc8080"/>
<rect x="82.34" y="374.5" width="0.9" height="0.9" fill="#c04848"/>
<rect x="83.66" y="370.75" width="1.0" height="1.0" fill="#d89a9a"/>
<rect x="82.94" y="374.3" width="1.2" height="1.2" fill="#cc8080"/>
<rect x="83.3" y="370.11" width="1.2" height="1.2" fill="#a01818"/>
<rect x="83.38" y="371.97" width="0.9" height="0.9" fill="#e8c0c0"/>
<rect x="83.87" y="373.19" width="0.9" height="0.9" fill="#d8a8a8"/>
<rect x="82.23" y="384.64" width="0.9" height="0.9" fill="#e0b0b0"/>
<rect x="83.55" y="383.2" width="1.0" height="1.0" fill="#c86868"/>
<rect x="84.16" y="390.84" width="1.0" height="1.0" fill="#cc8080"/>
<rect x="83.19" y="378.21" width="1.0" height="1.0" fill="#cc8080"/>
<rect x="83.3" y="392.23" width="1.0" height="1.0" fill="#c86868"/>
<rect x="83.59" y="390.25" width="0.9" height="0.9" fill="#cc8080"/>
<rect x="82.58" y="387.38" width="1.0" height="1.0" fill="#b02525"/>
<rect x="83.8" y="369.99" width="1.0" height="1.0" fill="#d8a8a8"/>
<rect x="83.07" y="373.56" width="0.9" height="0.9" fill="#d8a8a8"/>
<rect x="83.46" y="390.3" width="1.2" height="1.2" fill="#c04848"/>
<rect x="83.37" y="388.61" width="1.2" height="1.2" fill="#e0b0b0"/>
<rect x="82.84" y="385.63" width="1.0" height="1.0" fill="#b02525"/>
<rect x="83.28" y="388.11" width="0.9" height="0.9" fill="#e8c0c0"/>
<rect x="82.4" y="386.08" width="0.9" height="0.9" fill="#cc8080"/>
<rect x="82.8" y="384.58" width="0.9" height="0.9" fill="#c04848"/>
<rect x="82.85" y="373.14" width="0.9" height="0.9" fill="#cc8080"/>
<rect x="84" y="379.4" width="1.2" height="1.2" fill="#c86868"/>
<rect x="83.71" y="369.73" width="0.9" height="0.9" fill="#d8a8a8"/>
<rect x="83.53" y="382.53" width="0.9" height="0.9" fill="#d89a9a"/>
<rect x="83.56" y="392.29" width="0.9" height="0.9" fill="#a01818"/>
<rect x="82.2" y="383.71" width="0.9" height="0.9" fill="#a01818"/>
<rect x="83.42" y="383.51" width="1.0" height="1.0" fill="#b02525"/>
<rect x="85.08" y="389.59" width="0.9" height="0.9" fill="#c86868"/>
<rect x="83.29" y="369.09" width="1.2" height="1.2" fill="#cc8080"/>
<rect x="83.02" y="369.14" width="1.2" height="1.2" fill="#d89a9a"/>
<rect x="83.29" y="390.92" width="0.9" height="0.9" fill="#e0b0b0"/>
<rect x="83.98" y="392.11" width="1.2" height="1.2" fill="#d89a9a"/>
<rect x="82.76" y="386.26" width="0.9" height="0.9" fill="#b02525"/>
<rect x="82.93" y="369.01" width="0.9" height="0.9" fill="#e8c0c0"/>
<rect x="83.3" y="373.26" width="1.2" height="1.2" fill="#d8a8a8"/>
<rect x="84.35" y="382.23" width="1.0" height="1.0" fill="#e0b0b0"/>
<rect x="83.47" y="388.91" width="0.9" height="0.9" fill="#e0b0b0"/>
<rect x="83.67" y="371.96" width="1.0" height="1.0" fill="#b02525"/>
<rect x="83.96" y="385.63" width="1.0" height="1.0" fill="#c86868"/>
<rect x="83.72" y="367.29" width="1.0" height="1.0" fill="#a01818"/>
<rect x="83.71" y="379.17" width="0.9" height="0.9" fill="#d89a9a"/>
<rect x="84.28" y="385.74" width="1.2" height="1.2" fill="#d8a8a8"/>
<rect x="86.38" y="387.71" width="0.9" height="0.9" fill="#a01818"/>
<rect x="87.03" y="383.7" width="1.2" height="1.2" fill="#d89a9a"/>
<rect x="89.11" y="392.18" width="1.0" height="1.0" fill="#a01818"/>
<rect x="86.37" y="373.39" width="1.0" height="1.0" fill="#e0b0b0"/>
<rect x="85.47" y="390.85" width="0.9" height="0.9" fill="#e0b0b0"/>
<rect x="88.26" y="380.7" width="0.9" height="0.9" fill="#c04848"/>
<rect x="88.37" y="371.13" width="1.0" height="1.0" fill="#e0b0b0"/>
<rect x="84.37" y="390.74" width="1.2" height="1.2" fill="#d8a8a8"/>
<rect x="87.11" y="390.04" width="1.0" height="1.0" fill="#a01818"/>
<rect x="90.25" y="371.14" width="1.2" height="1.2" fill="#d8a8a8"/>
<rect x="88.61" y="386.39" width="0.9" height="0.9" fill="#d8a8a8"/>
<rect x="87.73" y="391.78" width="1.0" height="1.0" fill="#c86868"/>
<rect x="88.12" y="382.47" width="1.2" height="1.2" fill="#cc8080"/>
<rect x="86.01" y="387.59" width="1.2" height="1.2" fill="#e8c0c0"/>
<rect x="86.65" y="385.37" width="1.0" height="1.0" fill="#d89a9a"/>
<rect x="88.15" y="392.14" width="1.2" height="1.2" fill="#cc8080"/>
<rect x="89.63" y="378.63" width="0.9" height="0.9" fill="#c04848"/>
<rect x="88.02" y="387.37" width="1.0" height="1.0" fill="#d89a9a"/>
<rect x="87.12" y="391.07" width="0.9" height="0.9" fill="#e8c0c0"/>
<rect x="87.51" y="389.26" width="1.2" height="1.2" fill="#e0b0b0"/>
<rect x="89.91" y="367.56" width="0.9" height="0.9" fill="#c86868"/>
<rect x="86.12" y="386.03" width="0.9" height="0.9" fill="#e8c0c0"/>
<rect x="87.55" y="377.7" width="1.2" height="1.2" fill="#d89a9a"/>
<rect x="86.74" y="388.31" width="1.2" height="1.2" fill="#b02525"/>
<rect x="87.1" y="380.63" width="1.0" height="1.0" fill="#c86868"/>
<rect x="86.89" y="386.39" width="1.2" height="1.2" fill="#d89a9a"/>
<rect x="86.51" y="373.84" width="0.9" height="0.9" fill="#b02525"/>
<rect x="89.15" y="368.67" width="1.2" height="1.2" fill="#d8a8a8"/>
<rect x="87.3" y="383.02" width="1.0" height="1.0" fill="#a01818"/>
<rect x="88.29" y="375.55" width="1.0" height="1.0" fill="#e0b0b0"/>
<rect x="87.08" y="374.05" width="1.2" height="1.2" fill="#a01818"/>
<rect x="87.73" y="365.84" width="1.2" height="1.2" fill="#d89a9a"/>
<rect x="89.38" y="391.18" width="1.2" height="1.2" fill="#c04848"/>
<rect x="88.96" y="370.46" width="1.0" height="1.0" fill="#b02525"/>
<rect x="88.33" y="370.17" width="1.0" height="1.0" fill="#cc8080"/>
<rect x="87.08" y="389.54" width="1.0" height="1.0" fill="#e0b0b0"/>
<rect x="89.64" y="366.57" width="1.0" height="1.0" fill="#b02525"/>
<rect x="89.67" y="378.02" width="0.9" height="0.9" fill="#cc8080"/>
<rect x="87.28" y="384.32" width="0.9" height="0.9" fill="#d8a8a8"/>
<rect x="86.98" y="366.56" width="1.0" height="1.0" fill="#d8a8a8"/>
<rect x="92.04" y="366.11" width="1.0" height="1.0" fill="#c86868"/>
<rect x="92.16" y="388.61" width="0.9" height="0.9" fill="#d89a9a"/>
<rect x="91.38" y="378.46" width="1.2" height="1.2" fill="#d89a9a"/>
<rect x="92.05" y="382.48" width="1.2" height="1.2" fill="#c04848"/>
<rect x="91.52" y="390.44" width="1.2" height="1.2" fill="#c86868"/>
<rect x="93.28" y="369.25" width="1.0" height="1.0" fill="#c86868"/>
<rect x="93.26" y="392.14" width="1.2" height="1.2" fill="#a01818"/>
<rect x="89.89" y="386.45" width="0.9" height="0.9" fill="#c04848"/>
<rect x="90.74" y="386.08" width="1.2" height="1.2" fill="#d8a8a8"/>
<rect x="92.3" y="384.9" width="1.0" height="1.0" fill="#d8a8a8"/>
<rect x="93.6" y="382.39" width="1.2" height="1.2" fill="#d89a9a"/>
<rect x="92.31" y="383.76" width="0.9" height="0.9" fill="#e8c0c0"/>
<rect x="91.6" y="388.67" width="1.0" height="1.0" fill="#a01818"/>
<rect x="91.36" y="376.97" width="0.9" height="0.9" fill="#d8a8a8"/>
<rect x="93.63" y="370.7" width="1.2" height="1.2" fill="#cc8080"/>
<rect x="92.19" y="374.61" width="1.2" height="1.2" fill="#d89a9a"/>
<rect x="93.1" y="380.07" width="1.2" height="1.2" fill="#e0b0b0"/>
<rect x="93.76" y="392.38" width="1.2" height="1.2" fill="#cc8080"/>
<rect x="91.21" y="369.83" width="1.0" height="1.0" fill="#b02525"/>
<rect x="92.85" y="365.62" width="1.2" height="1.2" fill="#c86868"/>
<rect x="93.27" y="392.19" width="1.2" height="1.2" fill="#c04848"/>
<rect x="92.1" y="372.5" width="1.0" height="1.0" fill="#cc8080"/>
<rect x="93.47" y="371.33" width="1.0" height="1.0" fill="#a01818"/>
<rect x="90.61" y="368.14" width="1.2" height="1.2" fill="#cc8080"/>
<rect x="91.64" y="370.75" width="0.9" height="0.9" fill="#e8c0c0"/>
<rect x="92.11" y="381.9" width="1.0" height="1.0" fill="#a01818"/>
<rect x="90.32" y="383.13" width="0.9" height="0.9" fill="#e0b0b0"/>
<rect x="92.17" y="376.32" width="0.9" height="0.9" fill="#a01818"/>
<rect x="89.4" y="375.28" width="1.2" height="1.2" fill="#cc8080"/>
<rect x="92.17" y="375.33" width="0.9" height="0.9" fill="#d89a9a"/>
<rect x="91.43" y="385.5" width="0.9" height="0.9" fill="#b02525"/>
<rect x="92.14" y="375.01" width="1.2" height="1.2" fill="#d8a8a8"/>
<rect x="91.33" y="373.83" width="1.0" height="1.0" fill="#c04848"/>
<rect x="93.36" y="376.43" width="1.0" height="1.0" fill="#d8a8a8"/>
<rect x="91.08" y="383.95" width="0.9" height="0.9" fill="#cc8080"/>
<rect x="93.85" y="381.43" width="1.2" height="1.2" fill="#d89a9a"/>
<rect x="91.89" y="366.43" width="1.2" height="1.2" fill="#c86868"/>
<rect x="93.05" y="392.05" width="1.0" height="1.0" fill="#cc8080"/>
<rect x="94.81" y="387.63" width="0.9" height="0.9" fill="#d89a9a"/>
<rect x="91.08" y="391.38" width="1.2" height="1.2" fill="#c04848"/>
<path d="M85.6 405.8 L85.6 397 Q85.6 392.8 89.8 392.8 L91.7 392.8 Q95.9 392.8 95.9 397 L95.9 405.8 Z" fill="#c81414" stroke="#8e0909" stroke-width="1.1"/>
<path d="M78.7 405.8 L78.7 394.45 Q78.7 390.4 82.75 390.4 L82.75 390.4 Q86.8 390.4 86.8 394.45 L86.8 405.8 Z" fill="#c81414" stroke="#8e0909" stroke-width="1.1"/>
<circle cx="86.36" cy="393.6" r="1.23" fill="#a80c0c"/>
<circle cx="94.69" cy="394.59" r="0.87" fill="#8e0909"/>
<circle cx="93.84" cy="394.03" r="0.85" fill="#c81414"/>
<circle cx="82.99" cy="391.38" r="1.07" fill="#c81414"/>
<circle cx="80.13" cy="392.02" r="0.68" fill="#8e0909"/>
<circle cx="94.86" cy="395.28" r="0.54" fill="#8e0909"/>
<circle cx="93.76" cy="393.77" r="0.67" fill="#a80c0c"/>
<circle cx="87.77" cy="394.43" r="1.08" fill="#c81414"/>
<circle cx="84.68" cy="391.39" r="1.17" fill="#a80c0c"/>
<circle cx="81.87" cy="391.08" r="0.68" fill="#c81414"/>
<circle cx="85.27" cy="391.87" r="0.63" fill="#c81414"/>
<circle cx="86.68" cy="394.76" r="0.96" fill="#a80c0c"/>
<circle cx="83.28" cy="390.92" r="0.9" fill="#8e0909"/>
<circle cx="95.51" cy="396.26" r="0.54" fill="#c81414"/>
<circle cx="84.3" cy="391.57" r="0.81" fill="#8e0909"/>
<circle cx="85.64" cy="392.62" r="1.2" fill="#8e0909"/>
<circle cx="92.18" cy="393.54" r="0.52" fill="#a80c0c"/>
<circle cx="88.01" cy="393.81" r="0.95" fill="#8e0909"/>
<circle cx="86.68" cy="395.31" r="1.17" fill="#8e0909"/>
<circle cx="87.91" cy="393.75" r="0.92" fill="#c81414"/>
<circle cx="91.96" cy="393.36" r="0.85" fill="#c81414"/>
<circle cx="89.58" cy="393.76" r="1.1" fill="#8e0909"/>
<circle cx="90.01" cy="393.7" r="0.81" fill="#c81414"/>
<circle cx="89.65" cy="393.25" r="0.69" fill="#a80c0c"/>
<circle cx="96.16" cy="396.73" r="0.99" fill="#8e0909"/>
<circle cx="96.48" cy="401.82" r="1.13" fill="#8e0909"/>
<circle cx="96.22" cy="400.82" r="1" fill="#8e0909"/>
<circle cx="96.45" cy="400.7" r="0.55" fill="#8e0909"/>
<circle cx="96.27" cy="397.74" r="1.18" fill="#8e0909"/>
<circle cx="96.01" cy="395.6" r="0.57" fill="#8e0909"/>
<circle cx="96.02" cy="395.45" r="0.8" fill="#8e0909"/>
<circle cx="96.28" cy="395.29" r="1.14" fill="#8e0909"/>
<circle cx="96.2" cy="400.44" r="0.57" fill="#8e0909"/>
<circle cx="95.98" cy="398.24" r="0.52" fill="#8e0909"/>
<rect x="90.13" y="404.54" width="0.9" height="0.9" fill="#8a0808"/>
<rect x="79.12" y="398.95" width="0.9" height="0.9" fill="#9a0a0a"/>
<rect x="83" y="396.09" width="0.9" height="0.9" fill="#e03030"/>
<rect x="79.29" y="396.93" width="0.9" height="0.9" fill="#e03030"/>
<rect x="84.09" y="393.27" width="0.9" height="0.9" fill="#8a0808"/>
<rect x="92.58" y="404.07" width="0.9" height="0.9" fill="#e03030"/>
<rect x="80.32" y="403.52" width="0.9" height="0.9" fill="#a80c0c"/>
<rect x="84.38" y="396.28" width="0.9" height="0.9" fill="#8a0808"/>
<rect x="95.15" y="400.81" width="0.9" height="0.9" fill="#9a0a0a"/>
<rect x="80.93" y="403.13" width="0.9" height="0.9" fill="#9a0a0a"/>
<rect x="94.13" y="403.78" width="0.9" height="0.9" fill="#e03030"/>
<rect x="91.48" y="396.2" width="0.9" height="0.9" fill="#8a0808"/>
<rect x="87.66" y="394.97" width="0.9" height="0.9" fill="#e03030"/>
<rect x="80.87" y="392.33" width="0.9" height="0.9" fill="#e03030"/>
<rect x="92.72" y="401.61" width="0.9" height="0.9" fill="#e03030"/>
<rect x="85.88" y="395.99" width="0.9" height="0.9" fill="#e03030"/>
<rect x="84.29" y="402.18" width="0.9" height="0.9" fill="#9a0a0a"/>
<rect x="87.75" y="395.59" width="0.9" height="0.9" fill="#e03030"/>
<rect x="92.2" y="400.68" width="0.9" height="0.9" fill="#8a0808"/>
<rect x="95.55" y="399.56" width="0.9" height="0.9" fill="#e03030"/>
<rect x="94.66" y="405.44" width="0.9" height="0.9" fill="#9a0a0a"/>
<rect x="94.56" y="403.42" width="0.9" height="0.9" fill="#a80c0c"/>
<rect x="79.54" y="398.49" width="0.9" height="0.9" fill="#e03030"/>
<rect x="92.18" y="402.23" width="0.9" height="0.9" fill="#e03030"/>
<rect x="84.92" y="404.97" width="0.9" height="0.9" fill="#e03030"/>
<rect x="85.62" y="398.09" width="0.9" height="0.9" fill="#e03030"/>
<rect x="87.85" y="395.81" width="0.9" height="0.9" fill="#a80c0c"/>
<rect x="83" y="394.58" width="0.9" height="0.9" fill="#a80c0c"/>
<rect x="94.3" y="396.02" width="0.9" height="0.9" fill="#8a0808"/>
<rect x="94.85" y="401.24" width="0.9" height="0.9" fill="#9a0a0a"/>
<rect x="95.53" y="401.98" width="0.9" height="0.9" fill="#9a0a0a"/>
<rect x="82.21" y="392.36" width="0.9" height="0.9" fill="#9a0a0a"/>
<rect x="93.41" y="403.33" width="0.9" height="0.9" fill="#a80c0c"/>
<rect x="89.76" y="395.88" width="0.9" height="0.9" fill="#8a0808"/>
<rect x="79.08" y="396.7" width="0.9" height="0.9" fill="#8a0808"/>
<rect x="90.92" y="397.21" width="0.9" height="0.9" fill="#a80c0c"/>
<rect x="88.99" y="404.19" width="0.9" height="0.9" fill="#a80c0c"/>
<rect x="86.02" y="401.13" width="0.9" height="0.9" fill="#a80c0c"/>
<rect x="92.43" y="402.51" width="0.9" height="0.9" fill="#e03030"/>
<rect x="85.71" y="391.52" width="0.9" height="0.9" fill="#8a0808"/>
<rect x="87.55" y="399.64" width="0.9" height="0.9" fill="#8a0808"/>
<rect x="89.29" y="399.92" width="0.9" height="0.9" fill="#8a0808"/>
<rect x="79.39" y="403.66" width="0.9" height="0.9" fill="#8a0808"/>
<rect x="78.81" y="405.23" width="0.9" height="0.9" fill="#9a0a0a"/>
<rect x="88" y="403.66" width="0.9" height="0.9" fill="#e03030"/>
<rect x="95.4" y="400.32" width="0.9" height="0.9" fill="#e03030"/>
<rect x="87.74" y="400.3" width="0.9" height="0.9" fill="#8a0808"/>
<rect x="89.07" y="400.77" width="0.9" height="0.9" fill="#8a0808"/>
<rect x="83.89" y="398.69" width="0.9" height="0.9" fill="#a80c0c"/>
<rect x="88.16" y="405.52" width="0.9" height="0.9" fill="#a80c0c"/>
<rect x="83.05" y="391.54" width="0.9" height="0.9" fill="#8a0808"/>
<rect x="91.36" y="400.59" width="0.9" height="0.9" fill="#e03030"/>
<rect x="85.94" y="395.45" width="0.9" height="0.9" fill="#9a0a0a"/>
<rect x="94.16" y="404.9" width="0.9" height="0.9" fill="#9a0a0a"/>
<rect x="85.29" y="398.09" width="0.9" height="0.9" fill="#e03030"/>
<rect x="89.64" y="404.03" width="0.9" height="0.9" fill="#e03030"/>
<rect x="85.38" y="402.97" width="0.9" height="0.9" fill="#8a0808"/>
<rect x="84.8" y="397.38" width="0.9" height="0.9" fill="#9a0a0a"/>
<rect x="95.81" y="403.57" width="0.9" height="0.9" fill="#e03030"/>
<rect x="93.46" y="400.87" width="0.9" height="0.9" fill="#e03030"/>
<rect x="95.03" y="398.75" width="0.9" height="0.9" fill="#e03030"/>
<rect x="91.42" y="402.1" width="0.9" height="0.9" fill="#8a0808"/>
<rect x="84.48" y="404.56" width="0.9" height="0.9" fill="#a80c0c"/>
<rect x="91.01" y="399.7" width="0.9" height="0.9" fill="#8a0808"/>
<rect x="91.02" y="394.9" width="0.9" height="0.9" fill="#a80c0c"/>
<rect x="82.25" y="393.55" width="0.9" height="0.9" fill="#9a0a0a"/>
<rect x="80.48" y="393.64" width="0.9" height="0.9" fill="#9a0a0a"/>
<rect x="85.57" y="401.82" width="0.9" height="0.9" fill="#9a0a0a"/>
<rect x="80.23" y="400.21" width="0.9" height="0.9" fill="#9a0a0a"/>
<rect x="88.15" y="400.21" width="0.9" height="0.9" fill="#e03030"/>
<ellipse cx="82.17" cy="399.6" rx="1.4" ry="4.7" fill="#d88a86" opacity="0.9"/>
<ellipse cx="91.65" cy="400.3" rx="2.4" ry="4" fill="#b30c0c"/>
</g>
<line x1="74.8" y1="357.6" x2="124.2" y2="357.6" stroke="#3a3a3a" stroke-width="1"/>
<line x1="123.6" y1="357.2" x2="123.6" y2="406.2" stroke="#5a5a5a" stroke-width="1.15"/>
<line x1="75.5" y1="357.2" x2="75.5" y2="406.8" stroke="#151515" stroke-width="1.45"/>
<line x1="74.8" y1="406.1" x2="124.2" y2="406.1" stroke="#1a1a1a" stroke-width="1.35"/>
<line x1="76" y1="400" x2="77" y2="400" stroke="#333" stroke-width="0.6"/>
<line x1="76" y1="393.8" x2="77" y2="393.8" stroke="#333" stroke-width="0.6"/>
<line x1="76" y1="387.6" x2="77" y2="387.6" stroke="#333" stroke-width="0.6"/>
<line x1="76" y1="381.4" x2="77" y2="381.4" stroke="#333" stroke-width="0.6"/>
<line x1="76" y1="375.2" x2="77" y2="375.2" stroke="#333" stroke-width="0.6"/>
<line x1="76" y1="369" x2="77" y2="369" stroke="#333" stroke-width="0.6"/>
<line x1="76" y1="362.8" x2="77" y2="362.8" stroke="#333" stroke-width="0.6"/>
<clipPath id="c02"><rect x="137.9" y="358" width="46.9" height="47.6"/></clipPath>
<g clip-path="url(#c02)">
<rect x="149.08" y="392.4" width="1.0" height="1.0" fill="#b02525"/>
<rect x="143.07" y="386.69" width="1.0" height="1.0" fill="#d89a9a"/>
<rect x="142.25" y="388.84" width="1.0" height="1.0" fill="#c04848"/>
<rect x="142.71" y="388.38" width="1.0" height="1.0" fill="#d8a8a8"/>
<rect x="142.31" y="391.17" width="0.9" height="0.9" fill="#a01818"/>
<rect x="143.81" y="390.51" width="1.0" height="1.0" fill="#e0b0b0"/>
<path d="M147.6 405.8 L147.6 397.2 Q147.6 393 151.8 393 L153.8 393 Q158 393 158 397.2 L158 405.8 Z" fill="#c81414" stroke="#8e0909" stroke-width="1.1"/>
<path d="M141.1 405.8 L141.1 394.45 Q141.1 390.6 144.95 390.6 L144.95 390.6 Q148.8 390.6 148.8 394.45 L148.8 405.8 Z" fill="#c81414" stroke="#8e0909" stroke-width="1.1"/>
<circle cx="148.3" cy="393.09" r="1.21" fill="#8e0909"/>
<circle cx="145.25" cy="391.27" r="0.52" fill="#8e0909"/>
<circle cx="149.72" cy="394.36" r="0.79" fill="#a80c0c"/>
<circle cx="144.36" cy="391.68" r="1.21" fill="#a80c0c"/>
<circle cx="149.96" cy="394.11" r="1.23" fill="#a80c0c"/>
<circle cx="147.17" cy="392.47" r="1.28" fill="#8e0909"/>
<circle cx="156.97" cy="395.43" r="0.82" fill="#a80c0c"/>
<circle cx="150.04" cy="394.52" r="0.89" fill="#a80c0c"/>
<circle cx="149.8" cy="394.44" r="1.14" fill="#c81414"/>
<circle cx="156.07" cy="394.52" r="0.87" fill="#a80c0c"/>
<circle cx="153.2" cy="393.58" r="0.89" fill="#c81414"/>
<circle cx="154.68" cy="394.19" r="1.17" fill="#a80c0c"/>
<circle cx="145.77" cy="391.34" r="1.23" fill="#a80c0c"/>
<circle cx="154.95" cy="393.97" r="0.95" fill="#a80c0c"/>
<circle cx="150.98" cy="393.65" r="0.75" fill="#a80c0c"/>
<circle cx="147.38" cy="392.57" r="1.05" fill="#c81414"/>
<circle cx="153.23" cy="393.55" r="1.23" fill="#a80c0c"/>
<circle cx="143.13" cy="391.5" r="0.96" fill="#a80c0c"/>
<circle cx="145.09" cy="391.09" r="1.2" fill="#a80c0c"/>
<circle cx="143.62" cy="391.9" r="0.71" fill="#8e0909"/>
<circle cx="148.29" cy="392.97" r="1.07" fill="#c81414"/>
<circle cx="147.27" cy="391.8" r="0.7" fill="#8e0909"/>
<circle cx="156.96" cy="395.42" r="0.52" fill="#8e0909"/>
<circle cx="147.48" cy="392.7" r="0.6" fill="#a80c0c"/>
<circle cx="158.41" cy="396.98" r="0.77" fill="#8e0909"/>
<circle cx="158.59" cy="395.47" r="0.61" fill="#8e0909"/>
<circle cx="158.21" cy="395.39" r="0.93" fill="#8e0909"/>
<circle cx="158.07" cy="403.02" r="0.74" fill="#8e0909"/>
<circle cx="158.27" cy="395.33" r="1.04" fill="#8e0909"/>
<circle cx="158.54" cy="402.99" r="1.03" fill="#8e0909"/>
<circle cx="158.42" cy="404.31" r="0.83" fill="#8e0909"/>
<circle cx="158.4" cy="397.44" r="0.72" fill="#8e0909"/>
<circle cx="158.27" cy="396.1" r="1.11" fill="#8e0909"/>
<circle cx="158.35" cy="396.38" r="0.78" fill="#8e0909"/>
<rect x="149.8" y="395.7" width="0.9" height="0.9" fill="#e03030"/>
<rect x="145.48" y="400.21" width="0.9" height="0.9" fill="#8a0808"/>
<rect x="152.14" y="402.25" width="0.9" height="0.9" fill="#a80c0c"/>
<rect x="152.43" y="396.99" width="0.9" height="0.9" fill="#a80c0c"/>
<rect x="143.82" y="392.96" width="0.9" height="0.9" fill="#a80c0c"/>
<rect x="149.69" y="405.6" width="0.9" height="0.9" fill="#9a0a0a"/>
<rect x="157.91" y="396.74" width="0.9" height="0.9" fill="#8a0808"/>
<rect x="142.34" y="392.74" width="0.9" height="0.9" fill="#a80c0c"/>
<rect x="151.65" y="403.44" width="0.9" height="0.9" fill="#e03030"/>
<rect x="145.44" y="397.61" width="0.9" height="0.9" fill="#9a0a0a"/>
<rect x="143.65" y="397.06" width="0.9" height="0.9" fill="#a80c0c"/>
<rect x="142.98" y="401.88" width="0.9" height="0.9" fill="#a80c0c"/>
<rect x="142.82" y="391.88" width="0.9" height="0.9" fill="#a80c0c"/>
<rect x="142.88" y="391.95" width="0.9" height="0.9" fill="#8a0808"/>
<rect x="148.77" y="400.32" width="0.9" height="0.9" fill="#8a0808"/>
<rect x="144.69" y="404.47" width="0.9" height="0.9" fill="#a80c0c"/>
<rect x="153.42" y="399.12" width="0.9" height="0.9" fill="#9a0a0a"/>
<rect x="150.92" y="394.6" width="0.9" height="0.9" fill="#8a0808"/>
<rect x="156.8" y="400.86" width="0.9" height="0.9" fill="#9a0a0a"/>
<rect x="152.31" y="399.66" width="0.9" height="0.9" fill="#9a0a0a"/>
<rect x="149.87" y="404.87" width="0.9" height="0.9" fill="#e03030"/>
<rect x="145.99" y="405.57" width="0.9" height="0.9" fill="#e03030"/>
<rect x="146.31" y="404.02" width="0.9" height="0.9" fill="#8a0808"/>
<rect x="142.81" y="395.94" width="0.9" height="0.9" fill="#9a0a0a"/>
<rect x="154.82" y="394.71" width="0.9" height="0.9" fill="#8a0808"/>
<rect x="148.93" y="404.5" width="0.9" height="0.9" fill="#9a0a0a"/>
<rect x="141.19" y="391.94" width="0.9" height="0.9" fill="#e03030"/>
<rect x="156.91" y="394.9" width="0.9" height="0.9" fill="#8a0808"/>
<rect x="144.35" y="399.72" width="0.9" height="0.9" fill="#8a0808"/>
<rect x="153.2" y="395.65" width="0.9" height="0.9" fill="#e03030"/>
<rect x="147.78" y="393.33" width="0.9" height="0.9" fill="#9a0a0a"/>
<rect x="143.18" y="400.35" width="0.9" height="0.9" fill="#e03030"/>
<rect x="151.93" y="405.32" width="0.9" height="0.9" fill="#9a0a0a"/>
<rect x="141.52" y="400.96" width="0.9" height="0.9" fill="#9a0a0a"/>
<rect x="153.33" y="399.88" width="0.9" height="0.9" fill="#e03030"/>
<rect x="157.32" y="395.67" width="0.9" height="0.9" fill="#e03030"/>
<rect x="145.65" y="399.07" width="0.9" height="0.9" fill="#8a0808"/>
<rect x="153.26" y="402.59" width="0.9" height="0.9" fill="#8a0808"/>
<rect x="156.85" y="403.86" width="0.9" height="0.9" fill="#e03030"/>
<rect x="147.77" y="393.82" width="0.9" height="0.9" fill="#e03030"/>
<rect x="150.37" y="402.21" width="0.9" height="0.9" fill="#9a0a0a"/>
<rect x="151" y="403.65" width="0.9" height="0.9" fill="#9a0a0a"/>
<rect x="142.3" y="394.1" width="0.9" height="0.9" fill="#a80c0c"/>
<rect x="154.73" y="404.6" width="0.9" height="0.9" fill="#9a0a0a"/>
<rect x="156.5" y="402.04" width="0.9" height="0.9" fill="#9a0a0a"/>
<rect x="143.27" y="395.81" width="0.9" height="0.9" fill="#a80c0c"/>
<rect x="153.07" y="404.44" width="0.9" height="0.9" fill="#e03030"/>
<rect x="148.52" y="400.18" width="0.9" height="0.9" fill="#9a0a0a"/>
<rect x="143.74" y="405.61" width="0.9" height="0.9" fill="#8a0808"/>
<rect x="142.73" y="398.93" width="0.9" height="0.9" fill="#e03030"/>
<rect x="143.97" y="393.84" width="0.9" height="0.9" fill="#a80c0c"/>
<rect x="147.93" y="405.73" width="0.9" height="0.9" fill="#a80c0c"/>
<rect x="148.99" y="402.48" width="0.9" height="0.9" fill="#8a0808"/>
<rect x="156" y="396.13" width="0.9" height="0.9" fill="#9a0a0a"/>
<rect x="149.25" y="398.78" width="0.9" height="0.9" fill="#8a0808"/>
<rect x="153.02" y="399.58" width="0.9" height="0.9" fill="#e03030"/>
<rect x="153.15" y="404.76" width="0.9" height="0.9" fill="#9a0a0a"/>
<rect x="153.97" y="404.05" width="0.9" height="0.9" fill="#a80c0c"/>
<rect x="150.11" y="396.22" width="0.9" height="0.9" fill="#8a0808"/>
<rect x="157.62" y="401.49" width="0.9" height="0.9" fill="#9a0a0a"/>
<rect x="146.39" y="399.03" width="0.9" height="0.9" fill="#8a0808"/>
<rect x="152.09" y="403.63" width="0.9" height="0.9" fill="#9a0a0a"/>
<rect x="147.91" y="394.67" width="0.9" height="0.9" fill="#8a0808"/>
<rect x="156.4" y="404.44" width="0.9" height="0.9" fill="#9a0a0a"/>
<rect x="147.69" y="399.52" width="0.9" height="0.9" fill="#a80c0c"/>
<rect x="145.74" y="404.68" width="0.9" height="0.9" fill="#a80c0c"/>
<rect x="149.38" y="401.22" width="0.9" height="0.9" fill="#9a0a0a"/>
<rect x="151.45" y="399.13" width="0.9" height="0.9" fill="#e03030"/>
<rect x="149.78" y="396.05" width="0.9" height="0.9" fill="#a80c0c"/>
<rect x="157.53" y="402.97" width="0.9" height="0.9" fill="#e03030"/>
<ellipse cx="144.38" cy="399.7" rx="1.4" ry="4.6" fill="#d88a86" opacity="0.9"/>
<ellipse cx="153.7" cy="400.4" rx="2.4" ry="3.9" fill="#b30c0c"/>
</g>
<line x1="136.4" y1="357.6" x2="185.8" y2="357.6" stroke="#3a3a3a" stroke-width="1"/>
<line x1="185.2" y1="357.2" x2="185.2" y2="406.2" stroke="#5a5a5a" stroke-width="1.15"/>
<line x1="137.1" y1="357.2" x2="137.1" y2="406.8" stroke="#151515" stroke-width="1.45"/>
<line x1="136.4" y1="406.1" x2="185.8" y2="406.1" stroke="#1a1a1a" stroke-width="1.35"/>
<line x1="137.6" y1="400" x2="138.6" y2="400" stroke="#333" stroke-width="0.6"/>
<line x1="137.6" y1="393.8" x2="138.6" y2="393.8" stroke="#333" stroke-width="0.6"/>
<line x1="137.6" y1="387.6" x2="138.6" y2="387.6" stroke="#333" stroke-width="0.6"/>
<line x1="137.6" y1="381.4" x2="138.6" y2="381.4" stroke="#333" stroke-width="0.6"/>
<line x1="137.6" y1="375.2" x2="138.6" y2="375.2" stroke="#333" stroke-width="0.6"/>
<line x1="137.6" y1="369" x2="138.6" y2="369" stroke="#333" stroke-width="0.6"/>
<line x1="137.6" y1="362.8" x2="138.6" y2="362.8" stroke="#333" stroke-width="0.6"/>
<clipPath id="c03"><rect x="193.1" y="358" width="46.9" height="47.6"/></clipPath>
<g clip-path="url(#c03)">
<rect x="200.38" y="381.61" width="1.2" height="1.2" fill="#e8c0c0"/>
<rect x="201.3" y="374.73" width="1.0" height="1.0" fill="#a01818"/>
<rect x="200.27" y="359.37" width="1.2" height="1.2" fill="#e8c0c0"/>
<rect x="200.88" y="365.5" width="1.0" height="1.0" fill="#e8c0c0"/>
<rect x="200.01" y="372.85" width="1.0" height="1.0" fill="#d8a8a8"/>
<rect x="199.95" y="369.03" width="0.9" height="0.9" fill="#b02525"/>
<rect x="200.36" y="383.67" width="1.0" height="1.0" fill="#a01818"/>
<rect x="199.23" y="378.35" width="1.2" height="1.2" fill="#cc8080"/>
<rect x="200.5" y="369.51" width="0.9" height="0.9" fill="#e8c0c0"/>
<rect x="199.48" y="363.9" width="0.9" height="0.9" fill="#b02525"/>
<rect x="200.67" y="360.55" width="1.2" height="1.2" fill="#cc8080"/>
<rect x="200.72" y="364.79" width="1.2" height="1.2" fill="#cc8080"/>
<rect x="200.82" y="376.32" width="1.2" height="1.2" fill="#cc8080"/>
<rect x="199.4" y="385.62" width="1.2" height="1.2" fill="#e0b0b0"/>
<rect x="200.47" y="384.29" width="1.2" height="1.2" fill="#c04848"/>
<rect x="200.2" y="364.59" width="1.2" height="1.2" fill="#d8a8a8"/>
<rect x="199.15" y="386.19" width="1.0" height="1.0" fill="#d89a9a"/>
<rect x="199.77" y="388.37" width="1.2" height="1.2" fill="#e8c0c0"/>
<rect x="200.64" y="366.85" width="0.9" height="0.9" fill="#cc8080"/>
<rect x="200.28" y="390.46" width="1.0" height="1.0" fill="#cc8080"/>
<rect x="200.47" y="373.56" width="1.0" height="1.0" fill="#a01818"/>
<rect x="200.13" y="369.86" width="1.2" height="1.2" fill="#e0b0b0"/>
<rect x="201.95" y="377.28" width="1.0" height="1.0" fill="#a01818"/>
<rect x="198.77" y="390.63" width="1.2" height="1.2" fill="#b02525"/>
<rect x="198.4" y="360.32" width="1.2" height="1.2" fill="#d89a9a"/>
<rect x="199.87" y="384.76" width="1.0" height="1.0" fill="#a01818"/>
<rect x="199.51" y="363.22" width="1.0" height="1.0" fill="#cc8080"/>
<rect x="202.16" y="378.75" width="1.0" height="1.0" fill="#d8a8a8"/>
<rect x="199.63" y="375.47" width="1.0" height="1.0" fill="#d8a8a8"/>
<rect x="199.45" y="379.69" width="1.0" height="1.0" fill="#c86868"/>
<rect x="199.73" y="383.62" width="0.9" height="0.9" fill="#e0b0b0"/>
<rect x="200.54" y="367.3" width="0.9" height="0.9" fill="#e0b0b0"/>
<rect x="199.54" y="388.16" width="1.0" height="1.0" fill="#e0b0b0"/>
<rect x="201.05" y="382.13" width="1.2" height="1.2" fill="#e0b0b0"/>
<rect x="199.95" y="390.43" width="1.2" height="1.2" fill="#a01818"/>
<rect x="199.04" y="390.44" width="1.0" height="1.0" fill="#e0b0b0"/>
<rect x="199.83" y="374.02" width="1.0" height="1.0" fill="#c04848"/>
<rect x="199.81" y="386.87" width="1.2" height="1.2" fill="#e0b0b0"/>
<rect x="200.18" y="388.82" width="1.2" height="1.2" fill="#a01818"/>
<rect x="201.7" y="371.12" width="1.0" height="1.0" fill="#c04848"/>
<rect x="199.13" y="384.59" width="0.9" height="0.9" fill="#e0b0b0"/>
<rect x="200.3" y="371.32" width="0.9" height="0.9" fill="#b02525"/>
<rect x="198.73" y="371.43" width="1.0" height="1.0" fill="#c86868"/>
<rect x="199.15" y="366.5" width="0.9" height="0.9" fill="#c04848"/>
<rect x="199.7" y="363.66" width="1.0" height="1.0" fill="#e8c0c0"/>
<rect x="201.29" y="385.82" width="0.9" height="0.9" fill="#b02525"/>
<rect x="199.79" y="366.61" width="1.0" height="1.0" fill="#c04848"/>
<rect x="200.2" y="382.52" width="1.2" height="1.2" fill="#b02525"/>
<rect x="200.06" y="383.94" width="1.0" height="1.0" fill="#d89a9a"/>
<rect x="200.65" y="382.33" width="1.0" height="1.0" fill="#cc8080"/>
<rect x="199.58" y="362.29" width="0.9" height="0.9" fill="#c04848"/>
<rect x="200.7" y="390.66" width="1.0" height="1.0" fill="#d8a8a8"/>
<rect x="198.12" y="369.91" width="1.2" height="1.2" fill="#a01818"/>
<rect x="199.46" y="378.87" width="1.0" height="1.0" fill="#d8a8a8"/>
<rect x="198.68" y="364.55" width="0.9" height="0.9" fill="#d89a9a"/>
<rect x="199.84" y="366.49" width="0.9" height="0.9" fill="#a01818"/>
<rect x="201.31" y="362.17" width="1.2" height="1.2" fill="#cc8080"/>
<rect x="199.6" y="389.97" width="1.2" height="1.2" fill="#e8c0c0"/>
<rect x="200.99" y="385.43" width="1.2" height="1.2" fill="#a01818"/>
<rect x="200.95" y="376.22" width="1.2" height="1.2" fill="#a01818"/>
<rect x="200.61" y="360.3" width="1.0" height="1.0" fill="#d8a8a8"/>
<rect x="200.57" y="366.44" width="1.0" height="1.0" fill="#a01818"/>
<rect x="200.37" y="363.56" width="0.9" height="0.9" fill="#b02525"/>
<rect x="200.7" y="385.42" width="0.9" height="0.9" fill="#d89a9a"/>
<rect x="200.34" y="373.07" width="0.9" height="0.9" fill="#cc8080"/>
<rect x="200.21" y="368.48" width="1.0" height="1.0" fill="#c86868"/>
<rect x="199.59" y="389.94" width="0.9" height="0.9" fill="#e0b0b0"/>
<rect x="199.65" y="364.73" width="0.9" height="0.9" fill="#c04848"/>
<rect x="200.51" y="360.19" width="1.2" height="1.2" fill="#b02525"/>
<rect x="200.51" y="377.39" width="0.9" height="0.9" fill="#e0b0b0"/>
<rect x="200.01" y="372.42" width="1.0" height="1.0" fill="#d89a9a"/>
<rect x="200.98" y="384.71" width="1.0" height="1.0" fill="#e0b0b0"/>
<rect x="201.03" y="369.95" width="0.9" height="0.9" fill="#cc8080"/>
<rect x="201.01" y="375.21" width="1.0" height="1.0" fill="#a01818"/>
<rect x="199.18" y="376.07" width="1.2" height="1.2" fill="#a01818"/>
<rect x="200.58" y="363.6" width="1.0" height="1.0" fill="#a01818"/>
<rect x="199.36" y="383.27" width="1.0" height="1.0" fill="#cc8080"/>
<rect x="199.33" y="390.49" width="1.2" height="1.2" fill="#c86868"/>
<rect x="200.17" y="366.75" width="1.0" height="1.0" fill="#c86868"/>
<rect x="201.36" y="388.23" width="1.0" height="1.0" fill="#a01818"/>
<rect x="199.1" y="367.21" width="0.9" height="0.9" fill="#d89a9a"/>
<rect x="201.51" y="378.63" width="1.2" height="1.2" fill="#b02525"/>
<rect x="199.42" y="367.15" width="1.2" height="1.2" fill="#b02525"/>
<rect x="198.88" y="383.17" width="0.9" height="0.9" fill="#d8a8a8"/>
<rect x="200.78" y="378.33" width="1.0" height="1.0" fill="#c86868"/>
<rect x="201.89" y="390.12" width="1.2" height="1.2" fill="#b02525"/>
<rect x="206.61" y="387.38" width="1.0" height="1.0" fill="#a01818"/>
<rect x="205.91" y="367.73" width="0.9" height="0.9" fill="#b02525"/>
<rect x="205.35" y="367.91" width="1.2" height="1.2" fill="#d89a9a"/>
<rect x="202.24" y="384.39" width="0.9" height="0.9" fill="#b02525"/>
<rect x="206.03" y="377.84" width="0.9" height="0.9" fill="#c86868"/>
<rect x="204.05" y="377.06" width="1.2" height="1.2" fill="#b02525"/>
<rect x="205.33" y="376.77" width="0.9" height="0.9" fill="#b02525"/>
<rect x="204.6" y="362.26" width="1.0" height="1.0" fill="#c86868"/>
<rect x="202.23" y="381.81" width="1.2" height="1.2" fill="#e0b0b0"/>
<rect x="202.43" y="381.73" width="1.2" height="1.2" fill="#e0b0b0"/>
<rect x="203.56" y="378.71" width="1.2" height="1.2" fill="#cc8080"/>
<rect x="204.41" y="363.37" width="1.2" height="1.2" fill="#cc8080"/>
<rect x="202.3" y="364.88" width="0.9" height="0.9" fill="#e8c0c0"/>
<rect x="203.28" y="374.29" width="0.9" height="0.9" fill="#c04848"/>
<rect x="206.15" y="365.14" width="1.0" height="1.0" fill="#d8a8a8"/>
<rect x="205.51" y="376.07" width="0.9" height="0.9" fill="#c04848"/>
<rect x="203.99" y="376.1" width="0.9" height="0.9" fill="#e0b0b0"/>
<rect x="205.09" y="367.39" width="1.0" height="1.0" fill="#d8a8a8"/>
<rect x="202.7" y="375.8" width="0.9" height="0.9" fill="#d89a9a"/>
<rect x="201.5" y="384.18" width="1.0" height="1.0" fill="#d89a9a"/>
<rect x="204.43" y="376.59" width="1.0" height="1.0" fill="#c86868"/>
<rect x="203.15" y="379.24" width="1.0" height="1.0" fill="#c04848"/>
<rect x="205.81" y="375.68" width="1.2" height="1.2" fill="#e8c0c0"/>
<rect x="204.01" y="367.96" width="0.9" height="0.9" fill="#d8a8a8"/>
<rect x="201.72" y="367.21" width="1.2" height="1.2" fill="#cc8080"/>
<rect x="204.38" y="366.34" width="1.0" height="1.0" fill="#a01818"/>
<rect x="206.78" y="374.12" width="0.9" height="0.9" fill="#b02525"/>
<rect x="202.42" y="367.31" width="0.9" height="0.9" fill="#c86868"/>
<rect x="204.23" y="374.96" width="1.0" height="1.0" fill="#a01818"/>
<rect x="203.29" y="387.6" width="1.0" height="1.0" fill="#a01818"/>
<rect x="204.37" y="369.17" width="0.9" height="0.9" fill="#b02525"/>
<rect x="204.7" y="385.3" width="0.9" height="0.9" fill="#d89a9a"/>
<rect x="202.87" y="373.25" width="0.9" height="0.9" fill="#a01818"/>
<rect x="205.65" y="383.44" width="1.0" height="1.0" fill="#cc8080"/>
<rect x="203.07" y="376.12" width="1.0" height="1.0" fill="#e8c0c0"/>
<rect x="204.19" y="388.57" width="0.9" height="0.9" fill="#e0b0b0"/>
<rect x="204.54" y="380.7" width="1.2" height="1.2" fill="#e8c0c0"/>
<rect x="203.7" y="365.41" width="1.2" height="1.2" fill="#b02525"/>
<rect x="205.45" y="370.06" width="1.0" height="1.0" fill="#e8c0c0"/>
<rect x="203.58" y="373.65" width="0.9" height="0.9" fill="#d89a9a"/>
<rect x="204.2" y="373.33" width="1.2" height="1.2" fill="#d8a8a8"/>
<rect x="200.28" y="388.83" width="1.2" height="1.2" fill="#e8c0c0"/>
<rect x="202.67" y="373.15" width="1.2" height="1.2" fill="#c04848"/>
<rect x="206.01" y="374.2" width="0.9" height="0.9" fill="#c04848"/>
<rect x="201.78" y="380.07" width="1.2" height="1.2" fill="#b02525"/>
<rect x="206.55" y="388.23" width="1.2" height="1.2" fill="#e0b0b0"/>
<rect x="203.73" y="377.05" width="1.0" height="1.0" fill="#c04848"/>
<rect x="202.11" y="379.24" width="1.2" height="1.2" fill="#c04848"/>
<rect x="206.26" y="370.66" width="1.2" height="1.2" fill="#d8a8a8"/>
<rect x="209.59" y="373.89" width="0.9" height="0.9" fill="#e0b0b0"/>
<rect x="208.45" y="370.04" width="1.0" height="1.0" fill="#a01818"/>
<rect x="210.07" y="380.28" width="1.2" height="1.2" fill="#c86868"/>
<rect x="208.77" y="384.51" width="1.0" height="1.0" fill="#cc8080"/>
<rect x="207.21" y="379.32" width="1.0" height="1.0" fill="#b02525"/>
<rect x="203.66" y="388.38" width="1.2" height="1.2" fill="#b02525"/>
<rect x="208.66" y="389.1" width="0.9" height="0.9" fill="#b02525"/>
<rect x="207.98" y="375.84" width="1.2" height="1.2" fill="#cc8080"/>
<rect x="206.76" y="388.82" width="1.0" height="1.0" fill="#c04848"/>
<rect x="209.16" y="388.02" width="0.9" height="0.9" fill="#c04848"/>
<rect x="206.8" y="370.16" width="1.0" height="1.0" fill="#e0b0b0"/>
<rect x="211.26" y="369.49" width="1.0" height="1.0" fill="#cc8080"/>
<rect x="209.11" y="379.03" width="1.2" height="1.2" fill="#d89a9a"/>
<rect x="206.76" y="374.82" width="0.9" height="0.9" fill="#e8c0c0"/>
<rect x="208.63" y="377.73" width="0.9" height="0.9" fill="#a01818"/>
<rect x="208.88" y="380.61" width="1.2" height="1.2" fill="#d8a8a8"/>
<rect x="206.41" y="381.41" width="1.2" height="1.2" fill="#c86868"/>
<rect x="209.25" y="368.44" width="0.9" height="0.9" fill="#e8c0c0"/>
<rect x="211.27" y="378.67" width="0.9" height="0.9" fill="#c04848"/>
<rect x="207.97" y="368.52" width="1.0" height="1.0" fill="#a01818"/>
<rect x="208.73" y="377.27" width="0.9" height="0.9" fill="#d8a8a8"/>
<rect x="208.31" y="384.35" width="1.0" height="1.0" fill="#e0b0b0"/>
<rect x="208.6" y="375.16" width="0.9" height="0.9" fill="#c04848"/>
<rect x="209.88" y="368.42" width="1.2" height="1.2" fill="#b02525"/>
<rect x="207.02" y="366.38" width="0.9" height="0.9" fill="#c86868"/>
<rect x="209.64" y="373.4" width="1.0" height="1.0" fill="#e8c0c0"/>
<rect x="207.37" y="389.16" width="1.0" height="1.0" fill="#a01818"/>
<rect x="209.49" y="388.2" width="1.0" height="1.0" fill="#e8c0c0"/>
<rect x="209.07" y="375.03" width="1.0" height="1.0" fill="#d8a8a8"/>
<rect x="209.05" y="390.48" width="1.2" height="1.2" fill="#e8c0c0"/>
<rect x="210.28" y="382.87" width="1.0" height="1.0" fill="#c04848"/>
<rect x="210.53" y="383.7" width="1.0" height="1.0" fill="#e0b0b0"/>
<rect x="207.19" y="379.64" width="0.9" height="0.9" fill="#cc8080"/>
<rect x="211.26" y="386.18" width="0.9" height="0.9" fill="#e0b0b0"/>
<rect x="208.09" y="370.55" width="0.9" height="0.9" fill="#d8a8a8"/>
<path d="M202.8 405.8 L202.8 395.2 Q202.8 391 207 391 L208.7 391 Q212.9 391 212.9 395.2 L212.9 405.8 Z" fill="#c81414" stroke="#8e0909" stroke-width="1.1"/>
<path d="M196.2 405.8 L196.2 392.6 Q196.2 388.7 200.1 388.7 L200.1 388.7 Q204 388.7 204 392.6 L204 405.8 Z" fill="#c81414" stroke="#8e0909" stroke-width="1.1"/>
<circle cx="199.06" cy="389.71" r="0.52" fill="#a80c0c"/>
<circle cx="199.21" cy="389.29" r="0.52" fill="#8e0909"/>
<circle cx="203.63" cy="393.77" r="0.65" fill="#c81414"/>
<circle cx="203.71" cy="393.55" r="0.83" fill="#8e0909"/>
<circle cx="200.35" cy="389.5" r="0.53" fill="#8e0909"/>
<circle cx="200.39" cy="389.26" r="0.81" fill="#c81414"/>
<circle cx="206.52" cy="391.53" r="0.78" fill="#8e0909"/>
<circle cx="209.5" cy="392.26" r="0.73" fill="#c81414"/>
<circle cx="209.21" cy="391.82" r="1.27" fill="#a80c0c"/>
<circle cx="200.78" cy="389.66" r="1.15" fill="#c81414"/>
<circle cx="201.6" cy="389.75" r="0.55" fill="#8e0909"/>
<circle cx="206.04" cy="391.54" r="0.5" fill="#8e0909"/>
<circle cx="196.81" cy="391.3" r="0.9" fill="#8e0909"/>
<circle cx="207.03" cy="391.56" r="1.22" fill="#c81414"/>
<circle cx="201.97" cy="389.86" r="0.88" fill="#a80c0c"/>
<circle cx="197.05" cy="391.05" r="0.74" fill="#c81414"/>
<circle cx="197.91" cy="390.45" r="0.73" fill="#8e0909"/>
<circle cx="204.67" cy="392.53" r="0.94" fill="#c81414"/>
<circle cx="199.31" cy="389.77" r="1.09" fill="#a80c0c"/>
<circle cx="202.28" cy="390.41" r="0.65" fill="#c81414"/>
<circle cx="200.19" cy="389.49" r="1.12" fill="#c81414"/>
<circle cx="209.72" cy="392.13" r="0.91" fill="#a80c0c"/>
<circle cx="207.72" cy="391.43" r="1.26" fill="#8e0909"/>
<circle cx="207.94" cy="391.77" r="0.52" fill="#a80c0c"/>
<circle cx="212.96" cy="401.67" r="0.67" fill="#8e0909"/>
<circle cx="213.29" cy="403.8" r="1.11" fill="#8e0909"/>
<circle cx="213.17" cy="404.16" r="1.13" fill="#8e0909"/>
<circle cx="213.1" cy="402.38" r="0.76" fill="#8e0909"/>
<circle cx="213.14" cy="393.92" r="1.17" fill="#8e0909"/>
<circle cx="213.24" cy="394.34" r="0.58" fill="#8e0909"/>
<circle cx="213.29" cy="394.04" r="0.67" fill="#8e0909"/>
<circle cx="212.99" cy="393.62" r="0.95" fill="#8e0909"/>
<circle cx="212.91" cy="400.5" r="0.66" fill="#8e0909"/>
<circle cx="213.03" cy="405.38" r="0.89" fill="#8e0909"/>
<rect x="203.21" y="402.28" width="0.9" height="0.9" fill="#e03030"/>
<rect x="209.37" y="399.39" width="0.9" height="0.9" fill="#a80c0c"/>
<rect x="204.01" y="400.59" width="0.9" height="0.9" fill="#9a0a0a"/>
<rect x="209.99" y="393.55" width="0.9" height="0.9" fill="#9a0a0a"/>
<rect x="210.54" y="393.4" width="0.9" height="0.9" fill="#e03030"/>
<rect x="197.63" y="397.19" width="0.9" height="0.9" fill="#a80c0c"/>
<rect x="209.99" y="401.39" width="0.9" height="0.9" fill="#9a0a0a"/>
<rect x="206.92" y="402.51" width="0.9" height="0.9" fill="#e03030"/>
<rect x="202.93" y="400.34" width="0.9" height="0.9" fill="#9a0a0a"/>
<rect x="201.07" y="404.92" width="0.9" height="0.9" fill="#8a0808"/>
<rect x="209.81" y="394.84" width="0.9" height="0.9" fill="#9a0a0a"/>
<rect x="203.95" y="402.05" width="0.9" height="0.9" fill="#9a0a0a"/>
<rect x="201.9" y="392.79" width="0.9" height="0.9" fill="#9a0a0a"/>
<rect x="211.63" y="401.47" width="0.9" height="0.9" fill="#e03030"/>
<rect x="203.26" y="400.14" width="0.9" height="0.9" fill="#a80c0c"/>
<rect x="200.37" y="403.19" width="0.9" height="0.9" fill="#9a0a0a"/>
<rect x="201.8" y="396.64" width="0.9" height="0.9" fill="#9a0a0a"/>
<rect x="200.39" y="394.9" width="0.9" height="0.9" fill="#a80c0c"/>
<rect x="208.33" y="404.07" width="0.9" height="0.9" fill="#8a0808"/>
<rect x="211.75" y="399.39" width="0.9" height="0.9" fill="#8a0808"/>
<rect x="202.34" y="392.78" width="0.9" height="0.9" fill="#8a0808"/>
<rect x="204.29" y="402.67" width="0.9" height="0.9" fill="#8a0808"/>
<rect x="204.04" y="400.11" width="0.9" height="0.9" fill="#9a0a0a"/>
<rect x="201.08" y="404.74" width="0.9" height="0.9" fill="#a80c0c"/>
<rect x="211.1" y="392.39" width="0.9" height="0.9" fill="#a80c0c"/>
<rect x="201.11" y="398.06" width="0.9" height="0.9" fill="#8a0808"/>
<rect x="196.88" y="401.7" width="0.9" height="0.9" fill="#e03030"/>
<rect x="204.41" y="392.52" width="0.9" height="0.9" fill="#8a0808"/>
<rect x="208.59" y="402.31" width="0.9" height="0.9" fill="#e03030"/>
<rect x="198.59" y="396.85" width="0.9" height="0.9" fill="#8a0808"/>
<rect x="203.61" y="394.84" width="0.9" height="0.9" fill="#8a0808"/>
<rect x="208.94" y="401.67" width="0.9" height="0.9" fill="#8a0808"/>
<rect x="212.56" y="404.09" width="0.9" height="0.9" fill="#e03030"/>
<rect x="211.95" y="397.95" width="0.9" height="0.9" fill="#8a0808"/>
<rect x="204.12" y="405.78" width="0.9" height="0.9" fill="#a80c0c"/>
<rect x="202.21" y="403.43" width="0.9" height="0.9" fill="#e03030"/>
<rect x="196.69" y="395.71" width="0.9" height="0.9" fill="#e03030"/>
<rect x="209.68" y="396.1" width="0.9" height="0.9" fill="#a80c0c"/>
<rect x="211.73" y="399.17" width="0.9" height="0.9" fill="#9a0a0a"/>
<rect x="198.4" y="398.25" width="0.9" height="0.9" fill="#9a0a0a"/>
<rect x="198.97" y="390.51" width="0.9" height="0.9" fill="#a80c0c"/>
<rect x="212.63" y="402.95" width="0.9" height="0.9" fill="#e03030"/>
<rect x="212.55" y="402.84" width="0.9" height="0.9" fill="#9a0a0a"/>
<rect x="204.39" y="395.29" width="0.9" height="0.9" fill="#e03030"/>
<rect x="203.42" y="395.15" width="0.9" height="0.9" fill="#9a0a0a"/>
<rect x="206.28" y="403.19" width="0.9" height="0.9" fill="#8a0808"/>
<rect x="201.4" y="393.68" width="0.9" height="0.9" fill="#8a0808"/>
<rect x="203.18" y="393.89" width="0.9" height="0.9" fill="#9a0a0a"/>
<rect x="196.69" y="390.3" width="0.9" height="0.9" fill="#a80c0c"/>
<rect x="211.44" y="403.16" width="0.9" height="0.9" fill="#a80c0c"/>
<rect x="212.12" y="402.26" width="0.9" height="0.9" fill="#8a0808"/>
<rect x="204.7" y="403.47" width="0.9" height="0.9" fill="#a80c0c"/>
<rect x="200.87" y="392.42" width="0.9" height="0.9" fill="#9a0a0a"/>
<rect x="204.31" y="392.83" width="0.9" height="0.9" fill="#8a0808"/>
<rect x="204.01" y="401.18" width="0.9" height="0.9" fill="#8a0808"/>
<rect x="202.4" y="399.88" width="0.9" height="0.9" fill="#e03030"/>
<rect x="199.26" y="400.71" width="0.9" height="0.9" fill="#9a0a0a"/>
<rect x="203.02" y="395.37" width="0.9" height="0.9" fill="#8a0808"/>
<rect x="200.85" y="393.81" width="0.9" height="0.9" fill="#e03030"/>
<rect x="212.22" y="394.14" width="0.9" height="0.9" fill="#e03030"/>
<rect x="198.53" y="390.31" width="0.9" height="0.9" fill="#8a0808"/>
<rect x="210.41" y="403.42" width="0.9" height="0.9" fill="#e03030"/>
<rect x="196.71" y="398.95" width="0.9" height="0.9" fill="#9a0a0a"/>
<rect x="204.34" y="395.86" width="0.9" height="0.9" fill="#e03030"/>
<rect x="197.91" y="400.47" width="0.9" height="0.9" fill="#e03030"/>
<rect x="196.76" y="397.54" width="0.9" height="0.9" fill="#8a0808"/>
<rect x="199.46" y="404.52" width="0.9" height="0.9" fill="#a80c0c"/>
<rect x="207.12" y="404.99" width="0.9" height="0.9" fill="#8a0808"/>
<rect x="201.48" y="394.06" width="0.9" height="0.9" fill="#9a0a0a"/>
<rect x="211.96" y="396.38" width="0.9" height="0.9" fill="#8a0808"/>
<ellipse cx="199.53" cy="398.75" rx="1.4" ry="5.55" fill="#d88a86" opacity="0.9"/>
<ellipse cx="208.75" cy="399.4" rx="2.4" ry="4.9" fill="#b30c0c"/>
</g>
<line x1="191.6" y1="357.6" x2="241" y2="357.6" stroke="#3a3a3a" stroke-width="1"/>
<line x1="240.4" y1="357.2" x2="240.4" y2="406.2" stroke="#5a5a5a" stroke-width="1.15"/>
<line x1="192.3" y1="357.2" x2="192.3" y2="406.8" stroke="#151515" stroke-width="1.45"/>
<line x1="191.6" y1="406.1" x2="241" y2="406.1" stroke="#1a1a1a" stroke-width="1.35"/>
<line x1="192.8" y1="400" x2="193.8" y2="400" stroke="#333" stroke-width="0.6"/>
<line x1="192.8" y1="393.8" x2="193.8" y2="393.8" stroke="#333" stroke-width="0.6"/>
<line x1="192.8" y1="387.6" x2="193.8" y2="387.6" stroke="#333" stroke-width="0.6"/>
<line x1="192.8" y1="381.4" x2="193.8" y2="381.4" stroke="#333" stroke-width="0.6"/>
<line x1="192.8" y1="375.2" x2="193.8" y2="375.2" stroke="#333" stroke-width="0.6"/>
<line x1="192.8" y1="369" x2="193.8" y2="369" stroke="#333" stroke-width="0.6"/>
<line x1="192.8" y1="362.8" x2="193.8" y2="362.8" stroke="#333" stroke-width="0.6"/>
<clipPath id="c04"><rect x="263.5" y="358" width="46.9" height="47.6"/></clipPath>
<g clip-path="url(#c04)">
<rect x="270.13" y="395.87" width="0.8" height="0.8" fill="#b0d8f4"/>
<rect x="273.05" y="395.93" width="0.8" height="0.8" fill="#8ccaf2"/>
<rect x="272.12" y="387.41" width="0.8" height="0.8" fill="#8ccaf2"/>
<rect x="269.96" y="392.27" width="0.8" height="0.8" fill="#b0d8f4"/>
<rect x="276.66" y="388.68" width="0.8" height="0.8" fill="#b0d8f4"/>
<rect x="269.87" y="387.27" width="0.8" height="0.8" fill="#6ab4ea"/>
<rect x="276.98" y="389.04" width="0.8" height="0.8" fill="#8ccaf2"/>
<rect x="269.28" y="394.64" width="0.8" height="0.8" fill="#6ab4ea"/>
<rect x="278.83" y="388.38" width="0.8" height="0.8" fill="#b0d8f4"/>
<rect x="268.34" y="391.48" width="0.8" height="0.8" fill="#6ab4ea"/>
<path d="M265.3 404.8 C266.3 400.75 270.18 396.7 272.18 398.32 C273.18 400.75 268.3 404.8 265.3 404.8 Z" fill="#8ad4f6" stroke="#2a98e8" stroke-width="1.0"/>
<path d="M270.68 401.15 C272.18 397.51 281.4 396.7 283.4 398.73 C284.9 400.35 284.4 403.59 280.4 403.18 C275.18 403.59 271.18 404.8 270.68 401.15 Z" fill="#2a92e8" stroke="#1a84dc" stroke-width="1.0"/>
<ellipse cx="278.79" cy="400.59" rx="3.42" ry="1.13" fill="#4aa8ee"/>
</g>
<line x1="262" y1="357.6" x2="311.4" y2="357.6" stroke="#3a3a3a" stroke-width="1"/>
<line x1="310.8" y1="357.2" x2="310.8" y2="406.2" stroke="#5a5a5a" stroke-width="1.15"/>
<line x1="262.7" y1="357.2" x2="262.7" y2="406.8" stroke="#151515" stroke-width="1.45"/>
<line x1="262" y1="406.1" x2="311.4" y2="406.1" stroke="#1a1a1a" stroke-width="1.35"/>
<line x1="263.2" y1="400" x2="264.2" y2="400" stroke="#333" stroke-width="0.6"/>
<line x1="263.2" y1="393.8" x2="264.2" y2="393.8" stroke="#333" stroke-width="0.6"/>
<line x1="263.2" y1="387.6" x2="264.2" y2="387.6" stroke="#333" stroke-width="0.6"/>
<line x1="263.2" y1="381.4" x2="264.2" y2="381.4" stroke="#333" stroke-width="0.6"/>
<line x1="263.2" y1="375.2" x2="264.2" y2="375.2" stroke="#333" stroke-width="0.6"/>
<line x1="263.2" y1="369" x2="264.2" y2="369" stroke="#333" stroke-width="0.6"/>
<line x1="263.2" y1="362.8" x2="264.2" y2="362.8" stroke="#333" stroke-width="0.6"/>
<clipPath id="c05"><rect x="318.7" y="358" width="46.9" height="47.6"/></clipPath>
<g clip-path="url(#c05)">
<rect x="329.97" y="380.43" width="0.8" height="0.8" fill="#8ccaf2"/>
<rect x="331.28" y="379.5" width="0.8" height="0.8" fill="#5aaee8"/>
<rect x="330.13" y="376.02" width="0.8" height="0.8" fill="#8ccaf2"/>
<rect x="328.45" y="376.94" width="0.8" height="0.8" fill="#3090dd"/>
<rect x="329.49" y="384.87" width="0.8" height="0.8" fill="#8ccaf2"/>
<rect x="330.62" y="389.01" width="0.8" height="0.8" fill="#5aaee8"/>
<rect x="331.74" y="379.78" width="0.8" height="0.8" fill="#5aaee8"/>
<rect x="330.81" y="396.18" width="0.8" height="0.8" fill="#3090dd"/>
<rect x="326.97" y="397.19" width="0.8" height="0.8" fill="#8ccaf2"/>
<rect x="327.47" y="393.4" width="0.8" height="0.8" fill="#5aaee8"/>
<rect x="331.48" y="391.78" width="0.8" height="0.8" fill="#5aaee8"/>
<rect x="329.46" y="382.15" width="0.8" height="0.8" fill="#5aaee8"/>
<rect x="327.3" y="374.1" width="0.8" height="0.8" fill="#5aaee8"/>
<rect x="332.05" y="376.23" width="0.8" height="0.8" fill="#b8ddf6"/>
<rect x="326.33" y="388.85" width="0.8" height="0.8" fill="#5aaee8"/>
<rect x="327.8" y="390.81" width="0.8" height="0.8" fill="#8ccaf2"/>
<rect x="329.81" y="381.35" width="0.8" height="0.8" fill="#8ccaf2"/>
<rect x="328.08" y="378.33" width="0.8" height="0.8" fill="#3090dd"/>
<rect x="330.41" y="394.04" width="0.8" height="0.8" fill="#3090dd"/>
<rect x="330.46" y="396.43" width="0.8" height="0.8" fill="#8ccaf2"/>
<rect x="331.94" y="390.21" width="0.8" height="0.8" fill="#3090dd"/>
<rect x="326.31" y="379.18" width="0.8" height="0.8" fill="#b8ddf6"/>
<rect x="328.48" y="377.7" width="0.8" height="0.8" fill="#3090dd"/>
<rect x="326.48" y="394.12" width="0.8" height="0.8" fill="#5aaee8"/>
<rect x="326.92" y="392.74" width="0.8" height="0.8" fill="#3090dd"/>
<rect x="328.28" y="390.28" width="0.8" height="0.8" fill="#b8ddf6"/>
<rect x="330.89" y="395.54" width="0.8" height="0.8" fill="#b8ddf6"/>
<rect x="331.4" y="396.75" width="0.8" height="0.8" fill="#8ccaf2"/>
<rect x="327.46" y="386.43" width="0.8" height="0.8" fill="#b8ddf6"/>
<rect x="331.75" y="390.62" width="0.8" height="0.8" fill="#8ccaf2"/>
<rect x="328.09" y="391.16" width="0.8" height="0.8" fill="#5aaee8"/>
<rect x="331.03" y="383.5" width="0.8" height="0.8" fill="#b8ddf6"/>
<rect x="332.23" y="394.51" width="0.8" height="0.8" fill="#8ccaf2"/>
<rect x="326.69" y="384.18" width="0.8" height="0.8" fill="#3090dd"/>
<rect x="326.39" y="380.46" width="0.8" height="0.8" fill="#b8ddf6"/>
<rect x="331.2" y="387.85" width="0.8" height="0.8" fill="#3090dd"/>
<rect x="327.08" y="373.8" width="0.8" height="0.8" fill="#8ccaf2"/>
<rect x="331.05" y="390.76" width="0.8" height="0.8" fill="#5aaee8"/>
<rect x="326.99" y="380.7" width="0.8" height="0.8" fill="#5aaee8"/>
<rect x="330.01" y="379.17" width="0.8" height="0.8" fill="#8ccaf2"/>
<rect x="327.22" y="389.85" width="0.8" height="0.8" fill="#8ccaf2"/>
<rect x="331.31" y="391.66" width="0.8" height="0.8" fill="#3090dd"/>
<rect x="331.78" y="383.67" width="0.8" height="0.8" fill="#5aaee8"/>
<rect x="332.1" y="387.91" width="0.8" height="0.8" fill="#3090dd"/>
<rect x="330.37" y="391.14" width="0.8" height="0.8" fill="#b8ddf6"/>
<rect x="327.96" y="389.12" width="0.8" height="0.8" fill="#5aaee8"/>
<rect x="326.88" y="378.23" width="0.8" height="0.8" fill="#5aaee8"/>
<rect x="329.99" y="386.77" width="0.8" height="0.8" fill="#b8ddf6"/>
<rect x="327.29" y="386.96" width="0.8" height="0.8" fill="#b8ddf6"/>
<rect x="326.58" y="378.97" width="0.8" height="0.8" fill="#b8ddf6"/>
<rect x="330.4" y="382.52" width="0.8" height="0.8" fill="#b8ddf6"/>
<rect x="328.4" y="381.44" width="0.8" height="0.8" fill="#b8ddf6"/>
<rect x="331.25" y="392.33" width="0.8" height="0.8" fill="#b8ddf6"/>
<rect x="331.99" y="390.62" width="0.8" height="0.8" fill="#5aaee8"/>
<rect x="329.71" y="397.09" width="0.8" height="0.8" fill="#b8ddf6"/>
<rect x="328.17" y="392.13" width="0.8" height="0.8" fill="#b8ddf6"/>
<rect x="331.14" y="382.96" width="0.8" height="0.8" fill="#b8ddf6"/>
<rect x="328.3" y="383.04" width="0.8" height="0.8" fill="#3090dd"/>
<rect x="328.32" y="377.65" width="0.8" height="0.8" fill="#3090dd"/>
<rect x="332.11" y="374.45" width="0.8" height="0.8" fill="#5aaee8"/>
<rect x="328.26" y="383.74" width="0.9" height="0.9" fill="#7cc0f0"/>
<rect x="328.04" y="392.37" width="0.9" height="0.9" fill="#2894e4"/>
<rect x="327.75" y="377.63" width="0.9" height="0.9" fill="#7cc0f0"/>
<rect x="325.52" y="391.64" width="0.9" height="0.9" fill="#4aa4e8"/>
<rect x="328.81" y="377.6" width="0.9" height="0.9" fill="#7cc0f0"/>
<rect x="326.92" y="380.64" width="0.9" height="0.9" fill="#1a80d8"/>
<rect x="324.66" y="394.78" width="0.9" height="0.9" fill="#2894e4"/>
<rect x="331.49" y="369.69" width="0.9" height="0.9" fill="#1a80d8"/>
<rect x="323.78" y="396.88" width="0.9" height="0.9" fill="#1a80d8"/>
<rect x="326.21" y="385.3" width="0.9" height="0.9" fill="#2894e4"/>
<rect x="327.16" y="387.61" width="0.9" height="0.9" fill="#2894e4"/>
<rect x="329.27" y="381.74" width="0.9" height="0.9" fill="#1a80d8"/>
<rect x="328.94" y="377.68" width="0.9" height="0.9" fill="#4aa4e8"/>
<rect x="329.99" y="373.49" width="0.9" height="0.9" fill="#2894e4"/>
<rect x="332.71" y="378.59" width="0.9" height="0.9" fill="#4aa4e8"/>
<rect x="323.99" y="399.82" width="0.9" height="0.9" fill="#4aa4e8"/>
<rect x="330.24" y="370.7" width="0.9" height="0.9" fill="#1a80d8"/>
<rect x="327.25" y="387.48" width="0.9" height="0.9" fill="#4aa4e8"/>
<rect x="326.71" y="385.82" width="0.9" height="0.9" fill="#7cc0f0"/>
<rect x="330.89" y="370.52" width="0.9" height="0.9" fill="#1a80d8"/>
<rect x="329.56" y="381.14" width="0.9" height="0.9" fill="#2894e4"/>
<rect x="329.09" y="388.79" width="0.9" height="0.9" fill="#4aa4e8"/>
<rect x="327.17" y="382.53" width="0.9" height="0.9" fill="#7cc0f0"/>
<rect x="325.92" y="387.13" width="0.9" height="0.9" fill="#1a80d8"/>
<rect x="329.55" y="384.94" width="0.9" height="0.9" fill="#7cc0f0"/>
<rect x="330.28" y="370.41" width="0.9" height="0.9" fill="#1a80d8"/>
<rect x="326.84" y="381.56" width="0.9" height="0.9" fill="#7cc0f0"/>
<rect x="330.68" y="393.56" width="0.9" height="0.9" fill="#2894e4"/>
<rect x="327.1" y="391.04" width="0.9" height="0.9" fill="#4aa4e8"/>
<rect x="323" y="397.79" width="0.9" height="0.9" fill="#2894e4"/>
<rect x="324.31" y="398.67" width="0.9" height="0.9" fill="#4aa4e8"/>
<rect x="323.4" y="402.28" width="0.9" height="0.9" fill="#1a80d8"/>
<rect x="330.73" y="374.36" width="0.9" height="0.9" fill="#4aa4e8"/>
<rect x="323.73" y="393.85" width="0.9" height="0.9" fill="#7cc0f0"/>
<rect x="328.24" y="375.71" width="0.9" height="0.9" fill="#1a80d8"/>
<rect x="329.26" y="377.57" width="0.9" height="0.9" fill="#4aa4e8"/>
<rect x="326.15" y="391.99" width="0.9" height="0.9" fill="#2894e4"/>
<rect x="323.06" y="403.46" width="0.9" height="0.9" fill="#1a80d8"/>
<rect x="326.22" y="391.71" width="0.9" height="0.9" fill="#4aa4e8"/>
<rect x="328.09" y="377.27" width="0.9" height="0.9" fill="#2894e4"/>
<rect x="328.04" y="385.92" width="0.9" height="0.9" fill="#1a80d8"/>
<rect x="324.31" y="402.45" width="0.9" height="0.9" fill="#4aa4e8"/>
<rect x="326.5" y="382.95" width="0.9" height="0.9" fill="#1a80d8"/>
<rect x="322.57" y="403.54" width="0.9" height="0.9" fill="#7cc0f0"/>
<rect x="328.66" y="381.58" width="0.9" height="0.9" fill="#7cc0f0"/>
<rect x="332.53" y="373.41" width="0.9" height="0.9" fill="#7cc0f0"/>
<rect x="327.07" y="385.54" width="0.9" height="0.9" fill="#4aa4e8"/>
<rect x="329.08" y="385.9" width="0.9" height="0.9" fill="#2894e4"/>
<rect x="328.48" y="391.6" width="0.9" height="0.9" fill="#4aa4e8"/>
<rect x="326.99" y="379.87" width="0.9" height="0.9" fill="#7cc0f0"/>
<rect x="330.45" y="371.87" width="0.9" height="0.9" fill="#7cc0f0"/>
<rect x="331.06" y="370.07" width="0.9" height="0.9" fill="#1a80d8"/>
<rect x="325.73" y="387.26" width="0.9" height="0.9" fill="#1a80d8"/>
<rect x="323.86" y="392.95" width="0.9" height="0.9" fill="#2894e4"/>
<rect x="328.52" y="375.41" width="0.9" height="0.9" fill="#7cc0f0"/>
<rect x="330.45" y="369.91" width="0.9" height="0.9" fill="#7cc0f0"/>
<rect x="331.36" y="378.2" width="0.9" height="0.9" fill="#1a80d8"/>
<rect x="327.98" y="380.95" width="0.9" height="0.9" fill="#2894e4"/>
<rect x="328.69" y="377.85" width="0.9" height="0.9" fill="#7cc0f0"/>
<rect x="324.22" y="397.53" width="0.9" height="0.9" fill="#1a80d8"/>
<rect x="326.79" y="387.66" width="0.9" height="0.9" fill="#2894e4"/>
<rect x="329.03" y="382.87" width="0.9" height="0.9" fill="#7cc0f0"/>
<rect x="328.33" y="376.83" width="0.9" height="0.9" fill="#2894e4"/>
<rect x="330.39" y="376.92" width="0.9" height="0.9" fill="#1a80d8"/>
<rect x="323.93" y="403.79" width="0.9" height="0.9" fill="#7cc0f0"/>
<rect x="327.62" y="385.07" width="0.9" height="0.9" fill="#4aa4e8"/>
<rect x="330.26" y="371.75" width="0.9" height="0.9" fill="#4aa4e8"/>
<rect x="330.35" y="371.88" width="0.9" height="0.9" fill="#1a80d8"/>
<rect x="325.48" y="393.1" width="0.9" height="0.9" fill="#4aa4e8"/>
<rect x="326.34" y="384.15" width="0.9" height="0.9" fill="#1a80d8"/>
<rect x="329.74" y="374.92" width="0.9" height="0.9" fill="#7cc0f0"/>
<rect x="324.98" y="396.34" width="0.9" height="0.9" fill="#2894e4"/>
<rect x="329.89" y="379.66" width="0.9" height="0.9" fill="#2894e4"/>
<rect x="330.19" y="373.27" width="0.9" height="0.9" fill="#7cc0f0"/>
<rect x="325.5" y="394.03" width="0.9" height="0.9" fill="#4aa4e8"/>
<rect x="324.21" y="399.27" width="0.9" height="0.9" fill="#2894e4"/>
<rect x="329.62" y="383.31" width="0.9" height="0.9" fill="#7cc0f0"/>
<rect x="330.07" y="378.83" width="0.9" height="0.9" fill="#1a80d8"/>
<rect x="331.67" y="376.7" width="0.9" height="0.9" fill="#7cc0f0"/>
<rect x="330.49" y="374.54" width="0.9" height="0.9" fill="#1a80d8"/>
<polygon points="321.7,404.4 322.17,401.21 322.69,398.06 323.25,394.97 323.87,391.92 324.53,388.92 325.24,385.97 326,383.07 326.8,380.22 327.65,377.42 328.56,374.66 329.5,371.96 330.5,369.3 331,369.3 330.29,371.96 329.77,374.66 329.36,377.42 329.06,380.22 328.84,383.07 328.71,385.97 328.66,388.92 328.69,391.92 328.79,394.97 328.96,398.06 329.21,401.21 329.52,404.4" fill="#2894e4" opacity="0.75"/>
<path d="M322.2 404.6 C323.2 397.7 326.7 396.7 329.7 397.7 C336.1 396.2 339.1 396.7 339.1 399.7 C339.1 402.9 334.1 403.4 330.7 403.4 C326.7 403.9 324.7 404.9 322.2 404.6 Z" fill="#86c8f2" stroke="#1a80d8" stroke-width="1.1"/>
<ellipse cx="331.2" cy="399.7" rx="3.6" ry="1.3" fill="#2a92e8"/>
<path d="M320.9 405 L325.2 400.4" stroke="#8fd0f6" stroke-width="1"/>
</g>
<line x1="317.2" y1="357.6" x2="366.6" y2="357.6" stroke="#3a3a3a" stroke-width="1"/>
<line x1="366" y1="357.2" x2="366" y2="406.2" stroke="#5a5a5a" stroke-width="1.15"/>
<line x1="317.9" y1="357.2" x2="317.9" y2="406.8" stroke="#151515" stroke-width="1.45"/>
<line x1="317.2" y1="406.1" x2="366.6" y2="406.1" stroke="#1a1a1a" stroke-width="1.35"/>
<line x1="318.4" y1="400" x2="319.4" y2="400" stroke="#333" stroke-width="0.6"/>
<line x1="318.4" y1="393.8" x2="319.4" y2="393.8" stroke="#333" stroke-width="0.6"/>
<line x1="318.4" y1="387.6" x2="319.4" y2="387.6" stroke="#333" stroke-width="0.6"/>
<line x1="318.4" y1="381.4" x2="319.4" y2="381.4" stroke="#333" stroke-width="0.6"/>
<line x1="318.4" y1="375.2" x2="319.4" y2="375.2" stroke="#333" stroke-width="0.6"/>
<line x1="318.4" y1="369" x2="319.4" y2="369" stroke="#333" stroke-width="0.6"/>
<line x1="318.4" y1="362.8" x2="319.4" y2="362.8" stroke="#333" stroke-width="0.6"/>
<clipPath id="c06"><rect x="380.2" y="358" width="46.9" height="47.6"/></clipPath>
<g clip-path="url(#c06)">
<rect x="392.82" y="389.65" width="0.8" height="0.8" fill="#b0d8f4"/>
<rect x="392.45" y="397.03" width="0.8" height="0.8" fill="#8ccaf2"/>
<rect x="391.25" y="393.88" width="0.8" height="0.8" fill="#6ab4ea"/>
<rect x="387.78" y="390.34" width="0.8" height="0.8" fill="#b0d8f4"/>
<rect x="389.17" y="396.22" width="0.8" height="0.8" fill="#b0d8f4"/>
<rect x="394.23" y="393.14" width="0.8" height="0.8" fill="#8ccaf2"/>
<rect x="385.62" y="392.98" width="0.8" height="0.8" fill="#6ab4ea"/>
<rect x="386.49" y="389.9" width="0.8" height="0.8" fill="#6ab4ea"/>
<rect x="384.36" y="394.33" width="0.8" height="0.8" fill="#8ccaf2"/>
<rect x="387.65" y="394.48" width="0.8" height="0.8" fill="#b0d8f4"/>
<path d="M381.3 405.1 C382.3 401.35 386.14 397.6 388.14 399.1 C389.14 401.35 384.3 405.1 381.3 405.1 Z" fill="#8ad4f6" stroke="#2a98e8" stroke-width="1.0"/>
<path d="M386.64 401.72 C388.14 398.35 397.3 397.6 399.3 399.47 C400.8 400.97 400.3 403.97 396.3 403.6 C391.14 403.97 387.14 405.1 386.64 401.72 Z" fill="#2a92e8" stroke="#1a84dc" stroke-width="1.0"/>
<ellipse cx="394.72" cy="401.2" rx="3.4" ry="1.05" fill="#4aa8ee"/>
</g>
<line x1="378.7" y1="357.6" x2="428.1" y2="357.6" stroke="#3a3a3a" stroke-width="1"/>
<line x1="427.5" y1="357.2" x2="427.5" y2="406.2" stroke="#5a5a5a" stroke-width="1.15"/>
<line x1="379.4" y1="357.2" x2="379.4" y2="406.8" stroke="#151515" stroke-width="1.45"/>
<line x1="378.7" y1="406.1" x2="428.1" y2="406.1" stroke="#1a1a1a" stroke-width="1.35"/>
<line x1="379.9" y1="400" x2="380.9" y2="400" stroke="#333" stroke-width="0.6"/>
<line x1="379.9" y1="393.8" x2="380.9" y2="393.8" stroke="#333" stroke-width="0.6"/>
<line x1="379.9" y1="387.6" x2="380.9" y2="387.6" stroke="#333" stroke-width="0.6"/>
<line x1="379.9" y1="381.4" x2="380.9" y2="381.4" stroke="#333" stroke-width="0.6"/>
<line x1="379.9" y1="375.2" x2="380.9" y2="375.2" stroke="#333" stroke-width="0.6"/>
<line x1="379.9" y1="369" x2="380.9" y2="369" stroke="#333" stroke-width="0.6"/>
<line x1="379.9" y1="362.8" x2="380.9" y2="362.8" stroke="#333" stroke-width="0.6"/>
<clipPath id="c07"><rect x="435.3" y="358" width="46.9" height="47.6"/></clipPath>
<g clip-path="url(#c07)">
<rect x="444.76" y="395.13" width="0.8" height="0.8" fill="#8ccaf2"/>
<rect x="443.24" y="387.74" width="0.8" height="0.8" fill="#b8ddf6"/>
<rect x="446.33" y="379.35" width="0.8" height="0.8" fill="#5aaee8"/>
<rect x="443.03" y="389.86" width="0.8" height="0.8" fill="#8ccaf2"/>
<rect x="444.26" y="387.42" width="0.8" height="0.8" fill="#8ccaf2"/>
<rect x="447.8" y="395.57" width="0.8" height="0.8" fill="#5aaee8"/>
<rect x="446.62" y="386.73" width="0.8" height="0.8" fill="#8ccaf2"/>
<rect x="446.29" y="390.61" width="0.8" height="0.8" fill="#5aaee8"/>
<rect x="443.08" y="380.55" width="0.8" height="0.8" fill="#b8ddf6"/>
<rect x="445.34" y="387.64" width="0.8" height="0.8" fill="#b8ddf6"/>
<rect x="446.19" y="384.57" width="0.8" height="0.8" fill="#8ccaf2"/>
<rect x="446.32" y="385.52" width="0.8" height="0.8" fill="#b8ddf6"/>
<rect x="443.39" y="383.89" width="0.8" height="0.8" fill="#8ccaf2"/>
<rect x="446.55" y="388.57" width="0.8" height="0.8" fill="#3090dd"/>
<rect x="447.5" y="389.21" width="0.8" height="0.8" fill="#3090dd"/>
<rect x="444.99" y="393.44" width="0.8" height="0.8" fill="#5aaee8"/>
<rect x="447.03" y="393.52" width="0.8" height="0.8" fill="#b8ddf6"/>
<rect x="445.98" y="380.16" width="0.8" height="0.8" fill="#3090dd"/>
<rect x="444.54" y="377.67" width="0.8" height="0.8" fill="#8ccaf2"/>
<rect x="445.9" y="394.9" width="0.8" height="0.8" fill="#b8ddf6"/>
<rect x="443.72" y="388.72" width="0.8" height="0.8" fill="#8ccaf2"/>
<rect x="448.62" y="396.27" width="0.8" height="0.8" fill="#b8ddf6"/>
<rect x="444.86" y="391.52" width="0.8" height="0.8" fill="#3090dd"/>
<rect x="446.31" y="389.4" width="0.8" height="0.8" fill="#8ccaf2"/>
<rect x="448.52" y="389.03" width="0.8" height="0.8" fill="#8ccaf2"/>
<rect x="443.17" y="384.13" width="0.8" height="0.8" fill="#3090dd"/>
<rect x="444.52" y="390.82" width="0.8" height="0.8" fill="#b8ddf6"/>
<rect x="442.94" y="389.29" width="0.8" height="0.8" fill="#5aaee8"/>
<rect x="446.5" y="388.63" width="0.8" height="0.8" fill="#5aaee8"/>
<rect x="447.45" y="395.48" width="0.8" height="0.8" fill="#5aaee8"/>
<rect x="445.21" y="379.18" width="0.8" height="0.8" fill="#3090dd"/>
<rect x="443.29" y="389.55" width="0.8" height="0.8" fill="#b8ddf6"/>
<rect x="448.14" y="381.45" width="0.8" height="0.8" fill="#b8ddf6"/>
<rect x="447.07" y="377.52" width="0.8" height="0.8" fill="#3090dd"/>
<rect x="448.59" y="395.13" width="0.8" height="0.8" fill="#5aaee8"/>
<rect x="443.72" y="385.09" width="0.8" height="0.8" fill="#8ccaf2"/>
<rect x="445.73" y="386.6" width="0.8" height="0.8" fill="#b8ddf6"/>
<rect x="444.51" y="395.22" width="0.8" height="0.8" fill="#b8ddf6"/>
<rect x="446.49" y="392.13" width="0.8" height="0.8" fill="#5aaee8"/>
<rect x="446.98" y="388.17" width="0.8" height="0.8" fill="#8ccaf2"/>
<rect x="445.56" y="380.26" width="0.8" height="0.8" fill="#3090dd"/>
<rect x="445.21" y="390.66" width="0.8" height="0.8" fill="#3090dd"/>
<rect x="446.64" y="396.49" width="0.8" height="0.8" fill="#8ccaf2"/>
<rect x="448.76" y="389.72" width="0.8" height="0.8" fill="#8ccaf2"/>
<rect x="444.86" y="396.62" width="0.8" height="0.8" fill="#8ccaf2"/>
<rect x="446.23" y="387.72" width="0.8" height="0.8" fill="#b8ddf6"/>
<rect x="446.51" y="396.37" width="0.8" height="0.8" fill="#5aaee8"/>
<rect x="446.52" y="395.17" width="0.8" height="0.8" fill="#b8ddf6"/>
<rect x="448.58" y="386.32" width="0.8" height="0.8" fill="#3090dd"/>
<rect x="443.54" y="380.77" width="0.8" height="0.8" fill="#3090dd"/>
<rect x="445.71" y="392.26" width="0.8" height="0.8" fill="#5aaee8"/>
<rect x="443.42" y="391.67" width="0.8" height="0.8" fill="#b8ddf6"/>
<rect x="445.7" y="384.34" width="0.8" height="0.8" fill="#8ccaf2"/>
<rect x="444.04" y="378.35" width="0.8" height="0.8" fill="#b8ddf6"/>
<rect x="443.69" y="387.58" width="0.8" height="0.8" fill="#8ccaf2"/>
<rect x="447.39" y="392.52" width="0.8" height="0.8" fill="#8ccaf2"/>
<rect x="447.01" y="393.21" width="0.8" height="0.8" fill="#b8ddf6"/>
<rect x="448.29" y="391.41" width="0.8" height="0.8" fill="#5aaee8"/>
<rect x="446.02" y="382.38" width="0.8" height="0.8" fill="#b8ddf6"/>
<rect x="446.65" y="386.08" width="0.8" height="0.8" fill="#5aaee8"/>
<rect x="445.79" y="375.48" width="0.9" height="0.9" fill="#1a80d8"/>
<rect x="441.84" y="395.68" width="0.9" height="0.9" fill="#7cc0f0"/>
<rect x="440.74" y="389.97" width="0.9" height="0.9" fill="#4aa4e8"/>
<rect x="441.4" y="385.98" width="0.9" height="0.9" fill="#1a80d8"/>
<rect x="445.05" y="378.92" width="0.9" height="0.9" fill="#4aa4e8"/>
<rect x="447.22" y="371.17" width="0.9" height="0.9" fill="#4aa4e8"/>
<rect x="440.15" y="400.51" width="0.9" height="0.9" fill="#4aa4e8"/>
<rect x="440.45" y="395.51" width="0.9" height="0.9" fill="#2894e4"/>
<rect x="443.07" y="385.73" width="0.9" height="0.9" fill="#2894e4"/>
<rect x="447.02" y="374.64" width="0.9" height="0.9" fill="#2894e4"/>
<rect x="446.67" y="372.46" width="0.9" height="0.9" fill="#7cc0f0"/>
<rect x="447.74" y="373.05" width="0.9" height="0.9" fill="#7cc0f0"/>
<rect x="445.85" y="375.99" width="0.9" height="0.9" fill="#7cc0f0"/>
<rect x="443.81" y="386.28" width="0.9" height="0.9" fill="#2894e4"/>
<rect x="444.31" y="377.93" width="0.9" height="0.9" fill="#1a80d8"/>
<rect x="443.18" y="382.11" width="0.9" height="0.9" fill="#7cc0f0"/>
<rect x="446.33" y="375.47" width="0.9" height="0.9" fill="#7cc0f0"/>
<rect x="445.33" y="380.01" width="0.9" height="0.9" fill="#4aa4e8"/>
<rect x="439.35" y="397.4" width="0.9" height="0.9" fill="#2894e4"/>
<rect x="441.94" y="384.18" width="0.9" height="0.9" fill="#1a80d8"/>
<rect x="443.14" y="387.27" width="0.9" height="0.9" fill="#1a80d8"/>
<rect x="440.62" y="402.89" width="0.9" height="0.9" fill="#1a80d8"/>
<rect x="440.01" y="392.21" width="0.9" height="0.9" fill="#4aa4e8"/>
<rect x="444.09" y="383.6" width="0.9" height="0.9" fill="#1a80d8"/>
<rect x="438.77" y="401.36" width="0.9" height="0.9" fill="#7cc0f0"/>
<rect x="447.71" y="374.86" width="0.9" height="0.9" fill="#1a80d8"/>
<rect x="442.2" y="384.01" width="0.9" height="0.9" fill="#7cc0f0"/>
<rect x="444.64" y="376.36" width="0.9" height="0.9" fill="#2894e4"/>
<rect x="445" y="376.38" width="0.9" height="0.9" fill="#2894e4"/>
<rect x="442.83" y="383.21" width="0.9" height="0.9" fill="#4aa4e8"/>
<rect x="445.06" y="379.23" width="0.9" height="0.9" fill="#2894e4"/>
<rect x="446.2" y="373.22" width="0.9" height="0.9" fill="#2894e4"/>
<rect x="440.07" y="393.84" width="0.9" height="0.9" fill="#7cc0f0"/>
<rect x="444.82" y="383.04" width="0.9" height="0.9" fill="#2894e4"/>
<rect x="442.56" y="386.95" width="0.9" height="0.9" fill="#1a80d8"/>
<rect x="444.67" y="378.91" width="0.9" height="0.9" fill="#7cc0f0"/>
<rect x="442.34" y="384.78" width="0.9" height="0.9" fill="#1a80d8"/>
<rect x="445.21" y="378.71" width="0.9" height="0.9" fill="#4aa4e8"/>
<rect x="447.02" y="372.08" width="0.9" height="0.9" fill="#7cc0f0"/>
<rect x="439.62" y="398.15" width="0.9" height="0.9" fill="#2894e4"/>
<rect x="441.65" y="388.69" width="0.9" height="0.9" fill="#7cc0f0"/>
<rect x="440.88" y="400.83" width="0.9" height="0.9" fill="#4aa4e8"/>
<rect x="445.26" y="376.14" width="0.9" height="0.9" fill="#4aa4e8"/>
<rect x="439.53" y="397.91" width="0.9" height="0.9" fill="#1a80d8"/>
<rect x="447.54" y="370.81" width="0.9" height="0.9" fill="#7cc0f0"/>
<rect x="448.53" y="373.17" width="0.9" height="0.9" fill="#1a80d8"/>
<rect x="447.7" y="370.18" width="0.9" height="0.9" fill="#7cc0f0"/>
<rect x="447.93" y="370.07" width="0.9" height="0.9" fill="#7cc0f0"/>
<rect x="440.71" y="390.55" width="0.9" height="0.9" fill="#4aa4e8"/>
<rect x="439.72" y="403.31" width="0.9" height="0.9" fill="#7cc0f0"/>
<rect x="442.52" y="387.04" width="0.9" height="0.9" fill="#4aa4e8"/>
<rect x="441.87" y="384.65" width="0.9" height="0.9" fill="#2894e4"/>
<rect x="439.85" y="399.14" width="0.9" height="0.9" fill="#2894e4"/>
<rect x="439.24" y="400.35" width="0.9" height="0.9" fill="#4aa4e8"/>
<rect x="438.69" y="402.34" width="0.9" height="0.9" fill="#1a80d8"/>
<rect x="446.06" y="375.08" width="0.9" height="0.9" fill="#4aa4e8"/>
<rect x="442.71" y="388.22" width="0.9" height="0.9" fill="#7cc0f0"/>
<rect x="444.07" y="378.67" width="0.9" height="0.9" fill="#2894e4"/>
<rect x="440.11" y="392.71" width="0.9" height="0.9" fill="#2894e4"/>
<rect x="440.75" y="393.09" width="0.9" height="0.9" fill="#2894e4"/>
<rect x="443.15" y="380.72" width="0.9" height="0.9" fill="#1a80d8"/>
<rect x="439.23" y="401.11" width="0.9" height="0.9" fill="#2894e4"/>
<rect x="442.27" y="386.6" width="0.9" height="0.9" fill="#4aa4e8"/>
<rect x="444.4" y="381.12" width="0.9" height="0.9" fill="#2894e4"/>
<rect x="441.9" y="384.17" width="0.9" height="0.9" fill="#1a80d8"/>
<rect x="440.48" y="393.35" width="0.9" height="0.9" fill="#1a80d8"/>
<rect x="439.83" y="395.61" width="0.9" height="0.9" fill="#1a80d8"/>
<rect x="441.21" y="392.32" width="0.9" height="0.9" fill="#1a80d8"/>
<rect x="441.56" y="393.03" width="0.9" height="0.9" fill="#2894e4"/>
<rect x="443.3" y="403.52" width="0.9" height="0.9" fill="#1a80d8"/>
<rect x="441.77" y="384.58" width="0.9" height="0.9" fill="#7cc0f0"/>
<rect x="444.75" y="380.03" width="0.9" height="0.9" fill="#7cc0f0"/>
<rect x="447.39" y="370.73" width="0.9" height="0.9" fill="#1a80d8"/>
<rect x="441.35" y="390.43" width="0.9" height="0.9" fill="#1a80d8"/>
<rect x="441.06" y="388.26" width="0.9" height="0.9" fill="#1a80d8"/>
<rect x="438.8" y="403.57" width="0.9" height="0.9" fill="#4aa4e8"/>
<rect x="443.27" y="387.37" width="0.9" height="0.9" fill="#7cc0f0"/>
<rect x="446.35" y="373.59" width="0.9" height="0.9" fill="#4aa4e8"/>
<rect x="442.73" y="381.85" width="0.9" height="0.9" fill="#1a80d8"/>
<rect x="439.5" y="397.33" width="0.9" height="0.9" fill="#7cc0f0"/>
<polygon points="438.3,404.4 438.55,401.26 438.9,398.17 439.35,395.13 439.88,392.13 440.52,389.19 441.25,386.29 442.07,383.44 442.98,380.63 444,377.88 445.1,375.17 446.3,372.51 447.6,369.9 448.1,369.9 446.94,372.51 445.93,375.17 445.05,377.88 444.29,380.63 443.64,383.44 443.11,386.29 442.68,389.19 442.37,392.13 442.16,395.13 442.05,398.17 442.05,401.26 442.16,404.4" fill="#2894e4" opacity="0.9"/>
<path d="M438.8 404.6 C439.8 397 443.3 396 446.3 397 C451 395.5 454 396 454 399 C454 402.9 449 403.4 447.3 403.4 C443.3 403.9 441.3 404.9 438.8 404.6 Z" fill="#86c8f2" stroke="#1a80d8" stroke-width="1.1"/>
<ellipse cx="447.8" cy="399" rx="3.6" ry="1.3" fill="#2a92e8"/>
<path d="M437.5 405 L441.8 400.4" stroke="#8fd0f6" stroke-width="1"/>
</g>
<line x1="433.8" y1="357.6" x2="483.2" y2="357.6" stroke="#3a3a3a" stroke-width="1"/>
<line x1="482.6" y1="357.2" x2="482.6" y2="406.2" stroke="#5a5a5a" stroke-width="1.15"/>
<line x1="434.5" y1="357.2" x2="434.5" y2="406.8" stroke="#151515" stroke-width="1.45"/>
<line x1="433.8" y1="406.1" x2="483.2" y2="406.1" stroke="#1a1a1a" stroke-width="1.35"/>
<line x1="435" y1="400" x2="436" y2="400" stroke="#333" stroke-width="0.6"/>
<line x1="435" y1="393.8" x2="436" y2="393.8" stroke="#333" stroke-width="0.6"/>
<line x1="435" y1="387.6" x2="436" y2="387.6" stroke="#333" stroke-width="0.6"/>
<line x1="435" y1="381.4" x2="436" y2="381.4" stroke="#333" stroke-width="0.6"/>
<line x1="435" y1="375.2" x2="436" y2="375.2" stroke="#333" stroke-width="0.6"/>
<line x1="435" y1="369" x2="436" y2="369" stroke="#333" stroke-width="0.6"/>
<line x1="435" y1="362.8" x2="436" y2="362.8" stroke="#333" stroke-width="0.6"/>
<clipPath id="c10"><rect x="21.2" y="411.1" width="46.9" height="47.6"/></clipPath>
<g clip-path="url(#c10)">
<rect x="23.84" y="439.52" width="1.0" height="1.0" fill="#c86868"/>
<rect x="25.32" y="437.23" width="1.2" height="1.2" fill="#d89a9a"/>
<rect x="27" y="440.31" width="0.9" height="0.9" fill="#b02525"/>
<rect x="25.96" y="435.8" width="0.9" height="0.9" fill="#e0b0b0"/>
<rect x="25.26" y="441.47" width="1.0" height="1.0" fill="#cc8080"/>
<rect x="27.49" y="437.1" width="1.0" height="1.0" fill="#d89a9a"/>
<path d="M29.6 458.9 L29.6 449.5 Q29.6 445.3 33.8 445.3 L36.3 445.3 Q40.5 445.3 40.5 449.5 L40.5 458.9 Z" fill="#c81414" stroke="#8e0909" stroke-width="1.1"/>
<path d="M23.2 458.9 L23.2 445.6 Q23.2 441.8 27 441.8 L27 441.8 Q30.8 441.8 30.8 445.6 L30.8 458.9 Z" fill="#c81414" stroke="#8e0909" stroke-width="1.1"/>
<circle cx="26.42" cy="442.54" r="0.74" fill="#c81414"/>
<circle cx="36.32" cy="446.48" r="1.29" fill="#a80c0c"/>
<circle cx="29.77" cy="443.58" r="0.97" fill="#8e0909"/>
<circle cx="39.21" cy="447.17" r="0.74" fill="#8e0909"/>
<circle cx="28.75" cy="442.98" r="0.94" fill="#8e0909"/>
<circle cx="34.4" cy="446.1" r="0.76" fill="#8e0909"/>
<circle cx="39.7" cy="447.45" r="0.69" fill="#c81414"/>
<circle cx="37.16" cy="446.22" r="1.03" fill="#8e0909"/>
<circle cx="26" cy="442.63" r="0.95" fill="#a80c0c"/>
<circle cx="26" cy="442.95" r="1.27" fill="#c81414"/>
<circle cx="26.28" cy="443.03" r="1.15" fill="#c81414"/>
<circle cx="39.71" cy="447.99" r="0.86" fill="#8e0909"/>
<circle cx="33.81" cy="445.8" r="0.64" fill="#c81414"/>
<circle cx="28.55" cy="443.29" r="1.03" fill="#8e0909"/>
<circle cx="36.48" cy="445.98" r="0.88" fill="#c81414"/>
<circle cx="27.24" cy="442.24" r="0.94" fill="#c81414"/>
<circle cx="27.55" cy="442.56" r="0.71" fill="#8e0909"/>
<circle cx="30.02" cy="444.24" r="1.2" fill="#8e0909"/>
<circle cx="35.8" cy="445.92" r="1.29" fill="#c81414"/>
<circle cx="33.56" cy="446.1" r="0.55" fill="#c81414"/>
<circle cx="38.5" cy="446.75" r="0.61" fill="#c81414"/>
<circle cx="32.5" cy="446.04" r="0.89" fill="#c81414"/>
<circle cx="25.15" cy="443.35" r="1.28" fill="#8e0909"/>
<circle cx="30.82" cy="447.22" r="0.55" fill="#8e0909"/>
<circle cx="40.77" cy="448.56" r="1.19" fill="#8e0909"/>
<circle cx="40.78" cy="452.93" r="0.81" fill="#8e0909"/>
<circle cx="40.77" cy="453.11" r="1.01" fill="#8e0909"/>
<circle cx="40.92" cy="457.72" r="0.8" fill="#8e0909"/>
<circle cx="41.05" cy="454.83" r="0.61" fill="#8e0909"/>
<circle cx="40.87" cy="450.05" r="0.98" fill="#8e0909"/>
<circle cx="40.85" cy="454.75" r="1.08" fill="#8e0909"/>
<circle cx="40.98" cy="452.86" r="1.17" fill="#8e0909"/>
<circle cx="41.02" cy="452.35" r="1" fill="#8e0909"/>
<circle cx="40.53" cy="457.61" r="1.14" fill="#8e0909"/>
<rect x="36.47" y="458.43" width="0.9" height="0.9" fill="#e03030"/>
<rect x="26.01" y="450.48" width="0.9" height="0.9" fill="#e03030"/>
<rect x="33.5" y="457.89" width="0.9" height="0.9" fill="#a80c0c"/>
<rect x="40.26" y="448.6" width="0.9" height="0.9" fill="#a80c0c"/>
<rect x="30.58" y="458.73" width="0.9" height="0.9" fill="#e03030"/>
<rect x="38.55" y="452.14" width="0.9" height="0.9" fill="#8a0808"/>
<rect x="30.94" y="455.67" width="0.9" height="0.9" fill="#a80c0c"/>
<rect x="27.8" y="448.67" width="0.9" height="0.9" fill="#9a0a0a"/>
<rect x="26.83" y="452.62" width="0.9" height="0.9" fill="#8a0808"/>
<rect x="38.27" y="454.52" width="0.9" height="0.9" fill="#9a0a0a"/>
<rect x="36.56" y="456.34" width="0.9" height="0.9" fill="#9a0a0a"/>
<rect x="29.22" y="448.6" width="0.9" height="0.9" fill="#8a0808"/>
<rect x="36.34" y="454.22" width="0.9" height="0.9" fill="#e03030"/>
<rect x="31.27" y="450" width="0.9" height="0.9" fill="#8a0808"/>
<rect x="31.98" y="449.62" width="0.9" height="0.9" fill="#8a0808"/>
<rect x="34.26" y="450.7" width="0.9" height="0.9" fill="#e03030"/>
<rect x="31.55" y="451.93" width="0.9" height="0.9" fill="#8a0808"/>
<rect x="33.36" y="447.36" width="0.9" height="0.9" fill="#e03030"/>
<rect x="37.06" y="451.41" width="0.9" height="0.9" fill="#a80c0c"/>
<rect x="39.89" y="458.8" width="0.9" height="0.9" fill="#9a0a0a"/>
<rect x="33.5" y="455.54" width="0.9" height="0.9" fill="#e03030"/>
<rect x="23.48" y="448.08" width="0.9" height="0.9" fill="#e03030"/>
<rect x="24.48" y="449.18" width="0.9" height="0.9" fill="#e03030"/>
<rect x="28.08" y="445.8" width="0.9" height="0.9" fill="#a80c0c"/>
<rect x="28.52" y="451.75" width="0.9" height="0.9" fill="#9a0a0a"/>
<rect x="27" y="454.79" width="0.9" height="0.9" fill="#8a0808"/>
<rect x="26.52" y="452.01" width="0.9" height="0.9" fill="#8a0808"/>
<rect x="39.03" y="456.44" width="0.9" height="0.9" fill="#9a0a0a"/>
<rect x="29.99" y="448.26" width="0.9" height="0.9" fill="#a80c0c"/>
<rect x="32.24" y="456.5" width="0.9" height="0.9" fill="#e03030"/>
<rect x="38.26" y="454.59" width="0.9" height="0.9" fill="#9a0a0a"/>
<rect x="23.83" y="448.69" width="0.9" height="0.9" fill="#8a0808"/>
<rect x="28.81" y="453.08" width="0.9" height="0.9" fill="#a80c0c"/>
<rect x="25.23" y="455.51" width="0.9" height="0.9" fill="#e03030"/>
<rect x="40.5" y="446.69" width="0.9" height="0.9" fill="#e03030"/>
<rect x="24.73" y="449.87" width="0.9" height="0.9" fill="#e03030"/>
<rect x="24.23" y="457.68" width="0.9" height="0.9" fill="#8a0808"/>
<rect x="35.42" y="453.98" width="0.9" height="0.9" fill="#8a0808"/>
<rect x="40.26" y="448.51" width="0.9" height="0.9" fill="#8a0808"/>
<rect x="37.43" y="450.63" width="0.9" height="0.9" fill="#8a0808"/>
<rect x="29.92" y="444.36" width="0.9" height="0.9" fill="#a80c0c"/>
<rect x="23.92" y="456.65" width="0.9" height="0.9" fill="#a80c0c"/>
<rect x="33.06" y="458.58" width="0.9" height="0.9" fill="#e03030"/>
<rect x="32.87" y="458.4" width="0.9" height="0.9" fill="#9a0a0a"/>
<rect x="26.06" y="458.2" width="0.9" height="0.9" fill="#a80c0c"/>
<rect x="24.06" y="445.65" width="0.9" height="0.9" fill="#e03030"/>
<rect x="37.66" y="450.11" width="0.9" height="0.9" fill="#9a0a0a"/>
<rect x="30.05" y="455.09" width="0.9" height="0.9" fill="#9a0a0a"/>
<rect x="29.17" y="445.94" width="0.9" height="0.9" fill="#a80c0c"/>
<rect x="26.11" y="455.82" width="0.9" height="0.9" fill="#8a0808"/>
<rect x="39.48" y="450.44" width="0.9" height="0.9" fill="#9a0a0a"/>
<rect x="26.19" y="456.96" width="0.9" height="0.9" fill="#8a0808"/>
<rect x="25.85" y="453.13" width="0.9" height="0.9" fill="#8a0808"/>
<rect x="39.97" y="451.3" width="0.9" height="0.9" fill="#9a0a0a"/>
<rect x="27.27" y="449.6" width="0.9" height="0.9" fill="#e03030"/>
<rect x="35.71" y="453.02" width="0.9" height="0.9" fill="#9a0a0a"/>
<rect x="29.18" y="457.41" width="0.9" height="0.9" fill="#8a0808"/>
<rect x="33.72" y="453.01" width="0.9" height="0.9" fill="#9a0a0a"/>
<rect x="34.71" y="458.44" width="0.9" height="0.9" fill="#8a0808"/>
<rect x="35.2" y="447.52" width="0.9" height="0.9" fill="#8a0808"/>
<rect x="24.93" y="457.39" width="0.9" height="0.9" fill="#a80c0c"/>
<rect x="28.17" y="443.92" width="0.9" height="0.9" fill="#a80c0c"/>
<rect x="33.97" y="453.33" width="0.9" height="0.9" fill="#9a0a0a"/>
<rect x="24.5" y="455.86" width="0.9" height="0.9" fill="#9a0a0a"/>
<rect x="34.5" y="451.72" width="0.9" height="0.9" fill="#a80c0c"/>
<rect x="35.78" y="450.82" width="0.9" height="0.9" fill="#8a0808"/>
<rect x="40.27" y="448.46" width="0.9" height="0.9" fill="#a80c0c"/>
<rect x="25.4" y="458.24" width="0.9" height="0.9" fill="#a80c0c"/>
<rect x="27.47" y="446.77" width="0.9" height="0.9" fill="#8a0808"/>
<rect x="38.32" y="455.89" width="0.9" height="0.9" fill="#a80c0c"/>
<ellipse cx="26.44" cy="451.85" rx="1.4" ry="5.55" fill="#d88a86" opacity="0.9"/>
<ellipse cx="35.95" cy="453.1" rx="2.4" ry="4.3" fill="#b30c0c"/>
</g>
<line x1="19.7" y1="410.7" x2="69.1" y2="410.7" stroke="#3a3a3a" stroke-width="1"/>
<line x1="68.5" y1="410.3" x2="68.5" y2="459.3" stroke="#5a5a5a" stroke-width="1.15"/>
<line x1="20.4" y1="410.3" x2="20.4" y2="459.9" stroke="#151515" stroke-width="1.45"/>
<line x1="19.7" y1="459.2" x2="69.1" y2="459.2" stroke="#1a1a1a" stroke-width="1.35"/>
<line x1="20.9" y1="453.1" x2="21.9" y2="453.1" stroke="#333" stroke-width="0.6"/>
<line x1="20.9" y1="446.9" x2="21.9" y2="446.9" stroke="#333" stroke-width="0.6"/>
<line x1="20.9" y1="440.7" x2="21.9" y2="440.7" stroke="#333" stroke-width="0.6"/>
<line x1="20.9" y1="434.5" x2="21.9" y2="434.5" stroke="#333" stroke-width="0.6"/>
<line x1="20.9" y1="428.3" x2="21.9" y2="428.3" stroke="#333" stroke-width="0.6"/>
<line x1="20.9" y1="422.1" x2="21.9" y2="422.1" stroke="#333" stroke-width="0.6"/>
<line x1="20.9" y1="415.9" x2="21.9" y2="415.9" stroke="#333" stroke-width="0.6"/>
<clipPath id="c11"><rect x="76.3" y="411.1" width="46.9" height="47.6"/></clipPath>
<g clip-path="url(#c11)">
<rect x="80.9" y="418.5" width="1.0" height="1.0" fill="#e8c0c0"/>
<rect x="82.34" y="429.73" width="0.9" height="0.9" fill="#c86868"/>
<rect x="82.34" y="427.03" width="0.9" height="0.9" fill="#c04848"/>
<rect x="81.04" y="431.22" width="0.9" height="0.9" fill="#c04848"/>
<rect x="80.16" y="426.49" width="1.0" height="1.0" fill="#cc8080"/>
<rect x="81.54" y="425.98" width="1.2" height="1.2" fill="#c04848"/>
<rect x="83.1" y="439.11" width="0.9" height="0.9" fill="#c86868"/>
<rect x="82.1" y="427.4" width="1.0" height="1.0" fill="#e8c0c0"/>
<rect x="80.39" y="429.44" width="1.0" height="1.0" fill="#d89a9a"/>
<rect x="82.63" y="439.77" width="1.0" height="1.0" fill="#b02525"/>
<rect x="81.48" y="428.64" width="1.2" height="1.2" fill="#b02525"/>
<rect x="81.24" y="435.56" width="1.2" height="1.2" fill="#c86868"/>
<rect x="81.92" y="422.95" width="0.9" height="0.9" fill="#cc8080"/>
<rect x="82.33" y="420.72" width="0.9" height="0.9" fill="#cc8080"/>
<rect x="83.68" y="439.8" width="0.9" height="0.9" fill="#c86868"/>
<rect x="81.55" y="430.66" width="1.0" height="1.0" fill="#cc8080"/>
<rect x="83.14" y="422.62" width="1.0" height="1.0" fill="#d89a9a"/>
<rect x="82.56" y="438.69" width="0.9" height="0.9" fill="#e0b0b0"/>
<rect x="83.48" y="438.17" width="1.2" height="1.2" fill="#c86868"/>
<rect x="81.66" y="438.46" width="1.0" height="1.0" fill="#a01818"/>
<rect x="82.16" y="428.43" width="1.2" height="1.2" fill="#e8c0c0"/>
<rect x="81.46" y="436.84" width="1.0" height="1.0" fill="#c04848"/>
<rect x="81.72" y="431.84" width="0.9" height="0.9" fill="#c86868"/>
<rect x="81.65" y="435.23" width="0.9" height="0.9" fill="#d89a9a"/>
<rect x="82.22" y="420.5" width="0.9" height="0.9" fill="#b02525"/>
<rect x="82.87" y="416.61" width="1.0" height="1.0" fill="#c86868"/>
<rect x="81.92" y="433.95" width="1.0" height="1.0" fill="#d89a9a"/>
<rect x="83.55" y="438.9" width="0.9" height="0.9" fill="#b02525"/>
<rect x="81.42" y="427.36" width="1.2" height="1.2" fill="#e0b0b0"/>
<rect x="81.67" y="431.06" width="1.2" height="1.2" fill="#e8c0c0"/>
<rect x="82.58" y="426.68" width="0.9" height="0.9" fill="#d89a9a"/>
<rect x="82.67" y="421.52" width="1.2" height="1.2" fill="#c86868"/>
<rect x="82.55" y="418.04" width="1.2" height="1.2" fill="#c86868"/>
<rect x="83.37" y="417.76" width="1.2" height="1.2" fill="#e8c0c0"/>
<rect x="82.25" y="438.33" width="1.0" height="1.0" fill="#d8a8a8"/>
<rect x="82.13" y="435.89" width="1.0" height="1.0" fill="#cc8080"/>
<rect x="80.28" y="430.14" width="0.9" height="0.9" fill="#d8a8a8"/>
<rect x="82.93" y="418.36" width="0.9" height="0.9" fill="#b02525"/>
<rect x="82.16" y="420.55" width="1.0" height="1.0" fill="#b02525"/>
<rect x="83.14" y="436.41" width="1.2" height="1.2" fill="#c86868"/>
<rect x="82.71" y="431.24" width="0.9" height="0.9" fill="#a01818"/>
<rect x="82.07" y="437.12" width="1.2" height="1.2" fill="#e0b0b0"/>
<rect x="81.57" y="433.2" width="1.0" height="1.0" fill="#e8c0c0"/>
<rect x="81.79" y="425.9" width="1.2" height="1.2" fill="#d8a8a8"/>
<rect x="83.14" y="418.52" width="1.0" height="1.0" fill="#e8c0c0"/>
<rect x="81.61" y="424.73" width="0.9" height="0.9" fill="#a01818"/>
<rect x="81.71" y="438.99" width="1.0" height="1.0" fill="#d89a9a"/>
<rect x="81.79" y="437.85" width="0.9" height="0.9" fill="#b02525"/>
<rect x="81.18" y="439.32" width="1.0" height="1.0" fill="#c04848"/>
<rect x="82.25" y="433.43" width="0.9" height="0.9" fill="#e8c0c0"/>
<rect x="82.64" y="422.28" width="1.2" height="1.2" fill="#e8c0c0"/>
<rect x="81.32" y="439.68" width="1.0" height="1.0" fill="#cc8080"/>
<rect x="80.93" y="438.8" width="1.0" height="1.0" fill="#b02525"/>
<rect x="81.39" y="419.78" width="1.0" height="1.0" fill="#e0b0b0"/>
<rect x="83.27" y="430.95" width="1.2" height="1.2" fill="#e8c0c0"/>
<rect x="81.44" y="438.74" width="0.9" height="0.9" fill="#d8a8a8"/>
<rect x="81.86" y="439.6" width="1.0" height="1.0" fill="#b02525"/>
<rect x="82.36" y="422.58" width="1.0" height="1.0" fill="#e8c0c0"/>
<rect x="82.69" y="437.73" width="1.2" height="1.2" fill="#c86868"/>
<rect x="81.48" y="437.24" width="1.2" height="1.2" fill="#e0b0b0"/>
<rect x="82.96" y="435.82" width="1.2" height="1.2" fill="#cc8080"/>
<rect x="81.55" y="435.63" width="0.9" height="0.9" fill="#cc8080"/>
<rect x="82.65" y="427.83" width="0.9" height="0.9" fill="#e0b0b0"/>
<rect x="81.39" y="437.86" width="1.0" height="1.0" fill="#e8c0c0"/>
<rect x="82.91" y="424.45" width="0.9" height="0.9" fill="#d89a9a"/>
<rect x="80.51" y="438.26" width="1.0" height="1.0" fill="#e8c0c0"/>
<rect x="83.52" y="432.73" width="1.0" height="1.0" fill="#d8a8a8"/>
<rect x="81.24" y="425.5" width="1.0" height="1.0" fill="#e8c0c0"/>
<rect x="82.2" y="419.97" width="1.2" height="1.2" fill="#a01818"/>
<rect x="82.1" y="424.52" width="1.0" height="1.0" fill="#e0b0b0"/>
<rect x="81.31" y="426.32" width="1.0" height="1.0" fill="#cc8080"/>
<rect x="81.06" y="436.85" width="0.9" height="0.9" fill="#d89a9a"/>
<rect x="82.29" y="416.77" width="1.0" height="1.0" fill="#b02525"/>
<rect x="80.42" y="438.33" width="1.2" height="1.2" fill="#d8a8a8"/>
<rect x="81.45" y="438.83" width="0.9" height="0.9" fill="#c86868"/>
<rect x="81.34" y="421.36" width="0.9" height="0.9" fill="#d89a9a"/>
<rect x="81.66" y="429.05" width="0.9" height="0.9" fill="#a01818"/>
<rect x="80.53" y="436.13" width="1.2" height="1.2" fill="#e0b0b0"/>
<rect x="81.65" y="427.02" width="1.0" height="1.0" fill="#c04848"/>
<rect x="80.97" y="420.66" width="0.9" height="0.9" fill="#c86868"/>
<rect x="86.18" y="432.91" width="1.0" height="1.0" fill="#e8c0c0"/>
<rect x="89.96" y="436.85" width="1.0" height="1.0" fill="#a01818"/>
<rect x="86.7" y="430.28" width="1.0" height="1.0" fill="#e0b0b0"/>
<rect x="87.92" y="434.25" width="0.9" height="0.9" fill="#c86868"/>
<rect x="88.08" y="426.88" width="0.9" height="0.9" fill="#b02525"/>
<rect x="86.14" y="435.98" width="0.9" height="0.9" fill="#cc8080"/>
<rect x="90.1" y="423.02" width="1.0" height="1.0" fill="#e0b0b0"/>
<rect x="88.27" y="419.8" width="1.0" height="1.0" fill="#a01818"/>
<rect x="88.14" y="433.91" width="1.0" height="1.0" fill="#cc8080"/>
<rect x="88.49" y="430.64" width="0.9" height="0.9" fill="#a01818"/>
<rect x="88.67" y="422.78" width="1.2" height="1.2" fill="#c04848"/>
<rect x="88.06" y="434.07" width="1.0" height="1.0" fill="#c04848"/>
<rect x="89.43" y="424.78" width="1.0" height="1.0" fill="#e8c0c0"/>
<rect x="89.76" y="428.44" width="0.9" height="0.9" fill="#b02525"/>
<rect x="86.96" y="421.94" width="1.2" height="1.2" fill="#d8a8a8"/>
<rect x="89.12" y="437.45" width="1.2" height="1.2" fill="#d8a8a8"/>
<rect x="88.42" y="418.56" width="1.0" height="1.0" fill="#c86868"/>
<rect x="90.44" y="421.42" width="1.2" height="1.2" fill="#d8a8a8"/>
<rect x="88.28" y="432.39" width="1.2" height="1.2" fill="#b02525"/>
<rect x="90.01" y="439.77" width="0.9" height="0.9" fill="#cc8080"/>
<rect x="88.12" y="419.6" width="1.2" height="1.2" fill="#d8a8a8"/>
<rect x="88.41" y="438.18" width="1.2" height="1.2" fill="#b02525"/>
<rect x="90" y="431.3" width="1.0" height="1.0" fill="#cc8080"/>
<rect x="91.1" y="435.9" width="0.9" height="0.9" fill="#e8c0c0"/>
<rect x="87.01" y="419.09" width="1.2" height="1.2" fill="#e8c0c0"/>
<rect x="90.86" y="434.44" width="1.0" height="1.0" fill="#c86868"/>
<rect x="86.31" y="438.05" width="0.9" height="0.9" fill="#a01818"/>
<rect x="86.5" y="436.9" width="0.9" height="0.9" fill="#c86868"/>
<rect x="88.06" y="433.63" width="0.9" height="0.9" fill="#e8c0c0"/>
<rect x="87.44" y="430.35" width="1.2" height="1.2" fill="#b02525"/>
<rect x="87.02" y="425.36" width="0.9" height="0.9" fill="#cc8080"/>
<rect x="87.05" y="433.18" width="1.2" height="1.2" fill="#cc8080"/>
<rect x="87.29" y="421.06" width="1.2" height="1.2" fill="#d8a8a8"/>
<rect x="87.43" y="436.44" width="1.2" height="1.2" fill="#c86868"/>
<rect x="86.54" y="436.16" width="0.9" height="0.9" fill="#e0b0b0"/>
<rect x="86.85" y="434.47" width="0.9" height="0.9" fill="#e0b0b0"/>
<rect x="89.43" y="420.42" width="0.9" height="0.9" fill="#c04848"/>
<rect x="93.06" y="438" width="1.0" height="1.0" fill="#b02525"/>
<rect x="87.44" y="418.94" width="1.2" height="1.2" fill="#d8a8a8"/>
<rect x="89.4" y="438.11" width="1.2" height="1.2" fill="#cc8080"/>
<rect x="88.4" y="436.77" width="1.0" height="1.0" fill="#e0b0b0"/>
<rect x="88.27" y="438.29" width="1.2" height="1.2" fill="#d8a8a8"/>
<rect x="88.58" y="425.76" width="0.9" height="0.9" fill="#c86868"/>
<rect x="86.97" y="430.76" width="0.9" height="0.9" fill="#a01818"/>
<rect x="88.63" y="419.94" width="0.9" height="0.9" fill="#e8c0c0"/>
<rect x="86.71" y="436.99" width="0.9" height="0.9" fill="#b02525"/>
<rect x="88.86" y="435.15" width="1.2" height="1.2" fill="#b02525"/>
<rect x="89.17" y="439.1" width="0.9" height="0.9" fill="#e8c0c0"/>
<rect x="88.61" y="431.11" width="1.0" height="1.0" fill="#d8a8a8"/>
<rect x="87.35" y="431.96" width="0.9" height="0.9" fill="#e0b0b0"/>
<rect x="88.25" y="436.79" width="1.0" height="1.0" fill="#cc8080"/>
<rect x="88.22" y="433.54" width="1.0" height="1.0" fill="#e0b0b0"/>
<rect x="90.06" y="438.62" width="1.0" height="1.0" fill="#a01818"/>
<rect x="87.66" y="420.26" width="1.2" height="1.2" fill="#cc8080"/>
<rect x="87.25" y="417.79" width="1.0" height="1.0" fill="#d89a9a"/>
<rect x="87.6" y="419.77" width="1.0" height="1.0" fill="#c04848"/>
<rect x="89.28" y="429.41" width="1.0" height="1.0" fill="#e0b0b0"/>
<rect x="89.36" y="423.7" width="0.9" height="0.9" fill="#cc8080"/>
<rect x="88.41" y="433.92" width="0.9" height="0.9" fill="#e8c0c0"/>
<rect x="88.01" y="439.72" width="1.2" height="1.2" fill="#e0b0b0"/>
<rect x="94.06" y="435.06" width="1.0" height="1.0" fill="#d89a9a"/>
<rect x="93.62" y="436.26" width="1.2" height="1.2" fill="#cc8080"/>
<rect x="93.97" y="429.34" width="1.2" height="1.2" fill="#e8c0c0"/>
<rect x="94.16" y="436.32" width="1.0" height="1.0" fill="#b02525"/>
<rect x="94.01" y="426.72" width="1.0" height="1.0" fill="#c86868"/>
<rect x="93.77" y="431.11" width="0.9" height="0.9" fill="#d8a8a8"/>
<rect x="93.9" y="439.72" width="1.0" height="1.0" fill="#d89a9a"/>
<rect x="92.36" y="435.01" width="1.2" height="1.2" fill="#e0b0b0"/>
<rect x="92.8" y="429.19" width="1.2" height="1.2" fill="#b02525"/>
<rect x="93.54" y="431.09" width="1.2" height="1.2" fill="#b02525"/>
<rect x="92.42" y="439.3" width="1.0" height="1.0" fill="#c04848"/>
<rect x="92.83" y="430.42" width="1.0" height="1.0" fill="#c04848"/>
<rect x="92.5" y="431.45" width="1.0" height="1.0" fill="#e8c0c0"/>
<rect x="93.45" y="434.81" width="1.2" height="1.2" fill="#cc8080"/>
<rect x="93.33" y="430.13" width="1.2" height="1.2" fill="#d89a9a"/>
<rect x="94.94" y="417.9" width="0.9" height="0.9" fill="#d89a9a"/>
<rect x="94.55" y="439.33" width="1.0" height="1.0" fill="#c04848"/>
<rect x="93.87" y="422.92" width="0.9" height="0.9" fill="#cc8080"/>
<rect x="95.13" y="439.23" width="0.9" height="0.9" fill="#e0b0b0"/>
<rect x="92.8" y="421.71" width="1.0" height="1.0" fill="#c86868"/>
<rect x="93.65" y="422.9" width="1.2" height="1.2" fill="#a01818"/>
<rect x="93.05" y="438.48" width="0.9" height="0.9" fill="#e8c0c0"/>
<rect x="95.63" y="427.03" width="0.9" height="0.9" fill="#b02525"/>
<rect x="93.56" y="426.48" width="0.9" height="0.9" fill="#e8c0c0"/>
<rect x="93.89" y="429" width="1.0" height="1.0" fill="#b02525"/>
<rect x="94.11" y="431.13" width="1.0" height="1.0" fill="#cc8080"/>
<rect x="92.65" y="424.93" width="1.2" height="1.2" fill="#e0b0b0"/>
<rect x="92.95" y="428.93" width="1.0" height="1.0" fill="#c04848"/>
<rect x="93.73" y="438.21" width="1.2" height="1.2" fill="#d89a9a"/>
<rect x="93.07" y="426.46" width="1.0" height="1.0" fill="#e0b0b0"/>
<rect x="93.6" y="428.05" width="1.2" height="1.2" fill="#c86868"/>
<rect x="95.31" y="434.94" width="0.9" height="0.9" fill="#c86868"/>
<rect x="94.93" y="425.71" width="1.2" height="1.2" fill="#c86868"/>
<rect x="93.45" y="439.38" width="0.9" height="0.9" fill="#a01818"/>
<rect x="93.66" y="426.51" width="0.9" height="0.9" fill="#b02525"/>
<rect x="94.84" y="428.65" width="0.9" height="0.9" fill="#b02525"/>
<rect x="94.31" y="435.88" width="1.0" height="1.0" fill="#e0b0b0"/>
<rect x="93.49" y="430.25" width="1.0" height="1.0" fill="#c86868"/>
<rect x="92.88" y="420.54" width="0.9" height="0.9" fill="#b02525"/>
<rect x="95.17" y="431.02" width="1.0" height="1.0" fill="#c86868"/>
<rect x="93.11" y="421.36" width="0.9" height="0.9" fill="#e0b0b0"/>
<rect x="94.15" y="425.69" width="1.0" height="1.0" fill="#e0b0b0"/>
<rect x="92.22" y="418.15" width="1.2" height="1.2" fill="#cc8080"/>
<rect x="93.3" y="432.89" width="1.0" height="1.0" fill="#b02525"/>
<rect x="94.09" y="438.73" width="1.2" height="1.2" fill="#e8c0c0"/>
<rect x="93.51" y="430.62" width="0.9" height="0.9" fill="#a01818"/>
<rect x="92.99" y="427.03" width="1.0" height="1.0" fill="#d89a9a"/>
<rect x="95.84" y="423.74" width="1.0" height="1.0" fill="#e0b0b0"/>
<rect x="94.32" y="425.6" width="1.0" height="1.0" fill="#e0b0b0"/>
<rect x="93.32" y="418.58" width="1.2" height="1.2" fill="#e0b0b0"/>
<rect x="92.55" y="418.69" width="1.0" height="1.0" fill="#d89a9a"/>
<rect x="94.29" y="428.94" width="1.0" height="1.0" fill="#d89a9a"/>
<rect x="93.38" y="417.74" width="0.9" height="0.9" fill="#d8a8a8"/>
<rect x="94.72" y="438.71" width="0.9" height="0.9" fill="#e0b0b0"/>
<rect x="93.14" y="432.46" width="1.2" height="1.2" fill="#c86868"/>
<rect x="94.56" y="428.07" width="1.2" height="1.2" fill="#cc8080"/>
<rect x="94.55" y="437.04" width="1.0" height="1.0" fill="#b02525"/>
<rect x="94.91" y="419.32" width="0.9" height="0.9" fill="#d89a9a"/>
<rect x="93.86" y="437.4" width="0.9" height="0.9" fill="#d89a9a"/>
<rect x="94.14" y="425.76" width="0.9" height="0.9" fill="#cc8080"/>
<path d="M84.8 458.9 L84.8 447.2 Q84.8 443 89 443 L92.7 443 Q96.9 443 96.9 447.2 L96.9 458.9 Z" fill="#c81414" stroke="#8e0909" stroke-width="1.1"/>
<path d="M78.7 458.9 L78.7 441.45 Q78.7 437.8 82.35 437.8 L82.35 437.8 Q86 437.8 86 441.45 L86 458.9 Z" fill="#c81414" stroke="#8e0909" stroke-width="1.1"/>
<circle cx="89.24" cy="443.84" r="0.74" fill="#c81414"/>
<circle cx="80.44" cy="439.46" r="1.09" fill="#8e0909"/>
<circle cx="79.46" cy="439.7" r="1.02" fill="#a80c0c"/>
<circle cx="86.43" cy="444.67" r="1.07" fill="#a80c0c"/>
<circle cx="84.95" cy="439.57" r="0.87" fill="#c81414"/>
<circle cx="90.83" cy="443.83" r="0.89" fill="#a80c0c"/>
<circle cx="80.28" cy="438.88" r="0.99" fill="#a80c0c"/>
<circle cx="85.15" cy="439.81" r="0.5" fill="#8e0909"/>
<circle cx="94.64" cy="444.39" r="1.27" fill="#a80c0c"/>
<circle cx="85.37" cy="439.89" r="0.51" fill="#c81414"/>
<circle cx="95.11" cy="444.29" r="0.7" fill="#a80c0c"/>
<circle cx="85.61" cy="445.29" r="0.63" fill="#c81414"/>
<circle cx="88.31" cy="444.17" r="0.72" fill="#c81414"/>
<circle cx="84.43" cy="439.37" r="0.59" fill="#8e0909"/>
<circle cx="95.05" cy="444.14" r="1.1" fill="#c81414"/>
<circle cx="95" cy="444.18" r="0.53" fill="#8e0909"/>
<circle cx="85.32" cy="440.21" r="0.97" fill="#c81414"/>
<circle cx="89.47" cy="443.55" r="0.68" fill="#c81414"/>
<circle cx="86.08" cy="445.33" r="1.23" fill="#a80c0c"/>
<circle cx="88.65" cy="443.8" r="1.15" fill="#c81414"/>
<circle cx="87.53" cy="444.43" r="0.82" fill="#a80c0c"/>
<circle cx="88.63" cy="443.8" r="1.27" fill="#8e0909"/>
<circle cx="86.03" cy="444.74" r="0.67" fill="#c81414"/>
<circle cx="96.18" cy="445.87" r="1.14" fill="#8e0909"/>
<circle cx="97.04" cy="454.14" r="0.51" fill="#8e0909"/>
<circle cx="97.12" cy="451.57" r="1.06" fill="#8e0909"/>
<circle cx="97.26" cy="454.91" r="0.61" fill="#8e0909"/>
<circle cx="97.09" cy="447.18" r="0.68" fill="#8e0909"/>
<circle cx="97.21" cy="457.08" r="0.95" fill="#8e0909"/>
<circle cx="97.06" cy="458.8" r="0.87" fill="#8e0909"/>
<circle cx="97.36" cy="447.09" r="0.5" fill="#8e0909"/>
<circle cx="97.41" cy="456.42" r="1.08" fill="#8e0909"/>
<circle cx="97.06" cy="446.15" r="1" fill="#8e0909"/>
<circle cx="97.19" cy="446.35" r="0.83" fill="#8e0909"/>
<rect x="96.09" y="452.74" width="0.9" height="0.9" fill="#e03030"/>
<rect x="79.05" y="442.57" width="0.9" height="0.9" fill="#a80c0c"/>
<rect x="95.38" y="445.36" width="0.9" height="0.9" fill="#8a0808"/>
<rect x="82.49" y="449.72" width="0.9" height="0.9" fill="#8a0808"/>
<rect x="81.57" y="455.52" width="0.9" height="0.9" fill="#e03030"/>
<rect x="84.45" y="446.95" width="0.9" height="0.9" fill="#e03030"/>
<rect x="96.85" y="453.94" width="0.9" height="0.9" fill="#9a0a0a"/>
<rect x="85.25" y="452.61" width="0.9" height="0.9" fill="#9a0a0a"/>
<rect x="90.85" y="454.07" width="0.9" height="0.9" fill="#9a0a0a"/>
<rect x="90.6" y="444.18" width="0.9" height="0.9" fill="#8a0808"/>
<rect x="91.65" y="451.08" width="0.9" height="0.9" fill="#e03030"/>
<rect x="88.97" y="450.83" width="0.9" height="0.9" fill="#9a0a0a"/>
<rect x="94.28" y="456.58" width="0.9" height="0.9" fill="#a80c0c"/>
<rect x="95.11" y="446.27" width="0.9" height="0.9" fill="#8a0808"/>
<rect x="95.76" y="455.17" width="0.9" height="0.9" fill="#e03030"/>
<rect x="92.44" y="452.28" width="0.9" height="0.9" fill="#9a0a0a"/>
<rect x="83.37" y="442.82" width="0.9" height="0.9" fill="#9a0a0a"/>
<rect x="84.7" y="457.8" width="0.9" height="0.9" fill="#8a0808"/>
<rect x="91.87" y="448.94" width="0.9" height="0.9" fill="#8a0808"/>
<rect x="80.38" y="441.63" width="0.9" height="0.9" fill="#9a0a0a"/>
<rect x="81.09" y="451.47" width="0.9" height="0.9" fill="#a80c0c"/>
<rect x="81.97" y="446.89" width="0.9" height="0.9" fill="#8a0808"/>
<rect x="89.49" y="445.34" width="0.9" height="0.9" fill="#a80c0c"/>
<rect x="79.29" y="458.65" width="0.9" height="0.9" fill="#8a0808"/>
<rect x="86.1" y="445.08" width="0.9" height="0.9" fill="#8a0808"/>
<rect x="95.57" y="446.07" width="0.9" height="0.9" fill="#a80c0c"/>
<rect x="92.66" y="456.23" width="0.9" height="0.9" fill="#8a0808"/>
<rect x="87.49" y="457.73" width="0.9" height="0.9" fill="#9a0a0a"/>
<rect x="91.93" y="453.14" width="0.9" height="0.9" fill="#e03030"/>
<rect x="96.57" y="455.77" width="0.9" height="0.9" fill="#9a0a0a"/>
<rect x="83.45" y="442.59" width="0.9" height="0.9" fill="#e03030"/>
<rect x="90.54" y="445.58" width="0.9" height="0.9" fill="#8a0808"/>
<rect x="82.43" y="445.49" width="0.9" height="0.9" fill="#e03030"/>
<rect x="93.72" y="453.11" width="0.9" height="0.9" fill="#a80c0c"/>
<rect x="83.32" y="449.63" width="0.9" height="0.9" fill="#e03030"/>
<rect x="88.68" y="449.25" width="0.9" height="0.9" fill="#a80c0c"/>
<rect x="89.15" y="446.95" width="0.9" height="0.9" fill="#a80c0c"/>
<rect x="89.03" y="444.4" width="0.9" height="0.9" fill="#a80c0c"/>
<rect x="92.83" y="446.03" width="0.9" height="0.9" fill="#8a0808"/>
<rect x="89.19" y="454.39" width="0.9" height="0.9" fill="#e03030"/>
<rect x="80.37" y="456.34" width="0.9" height="0.9" fill="#e03030"/>
<rect x="87.13" y="445.85" width="0.9" height="0.9" fill="#a80c0c"/>
<rect x="83.04" y="450.24" width="0.9" height="0.9" fill="#9a0a0a"/>
<rect x="88.9" y="447.94" width="0.9" height="0.9" fill="#e03030"/>
<rect x="89.65" y="445.83" width="0.9" height="0.9" fill="#9a0a0a"/>
<rect x="83.95" y="456.83" width="0.9" height="0.9" fill="#a80c0c"/>
<rect x="92.5" y="449.41" width="0.9" height="0.9" fill="#a80c0c"/>
<rect x="82.08" y="449.81" width="0.9" height="0.9" fill="#9a0a0a"/>
<rect x="86.97" y="450.01" width="0.9" height="0.9" fill="#a80c0c"/>
<rect x="84.3" y="452.29" width="0.9" height="0.9" fill="#8a0808"/>
<rect x="89.9" y="453.54" width="0.9" height="0.9" fill="#9a0a0a"/>
<rect x="81.59" y="447.08" width="0.9" height="0.9" fill="#9a0a0a"/>
<rect x="81.3" y="446.57" width="0.9" height="0.9" fill="#8a0808"/>
<rect x="81.86" y="449.25" width="0.9" height="0.9" fill="#e03030"/>
<rect x="83.14" y="457.53" width="0.9" height="0.9" fill="#9a0a0a"/>
<rect x="90.38" y="444.56" width="0.9" height="0.9" fill="#a80c0c"/>
<rect x="86.04" y="451.41" width="0.9" height="0.9" fill="#9a0a0a"/>
<rect x="87.25" y="450.13" width="0.9" height="0.9" fill="#8a0808"/>
<rect x="92.38" y="451.24" width="0.9" height="0.9" fill="#8a0808"/>
<rect x="93.96" y="456.74" width="0.9" height="0.9" fill="#8a0808"/>
<rect x="93.72" y="445.75" width="0.9" height="0.9" fill="#9a0a0a"/>
<rect x="95.18" y="451.84" width="0.9" height="0.9" fill="#8a0808"/>
<rect x="86.35" y="444.36" width="0.9" height="0.9" fill="#9a0a0a"/>
<rect x="84.09" y="451.19" width="0.9" height="0.9" fill="#8a0808"/>
<rect x="92.02" y="452.9" width="0.9" height="0.9" fill="#e03030"/>
<rect x="94.76" y="457.07" width="0.9" height="0.9" fill="#a80c0c"/>
<rect x="80.96" y="447.78" width="0.9" height="0.9" fill="#8a0808"/>
<rect x="96.4" y="451.09" width="0.9" height="0.9" fill="#9a0a0a"/>
<rect x="88.28" y="447.56" width="0.9" height="0.9" fill="#e03030"/>
<rect x="90.65" y="458.01" width="0.9" height="0.9" fill="#9a0a0a"/>
<ellipse cx="81.8" cy="449.85" rx="1.4" ry="7.55" fill="#d88a86" opacity="0.9"/>
<ellipse cx="91.75" cy="451.95" rx="2.4" ry="5.45" fill="#b30c0c"/>
</g>
<line x1="74.8" y1="410.7" x2="124.2" y2="410.7" stroke="#3a3a3a" stroke-width="1"/>
<line x1="123.6" y1="410.3" x2="123.6" y2="459.3" stroke="#5a5a5a" stroke-width="1.15"/>
<line x1="75.5" y1="410.3" x2="75.5" y2="459.9" stroke="#151515" stroke-width="1.45"/>
<line x1="74.8" y1="459.2" x2="124.2" y2="459.2" stroke="#1a1a1a" stroke-width="1.35"/>
<line x1="76" y1="453.1" x2="77" y2="453.1" stroke="#333" stroke-width="0.6"/>
<line x1="76" y1="446.9" x2="77" y2="446.9" stroke="#333" stroke-width="0.6"/>
<line x1="76" y1="440.7" x2="77" y2="440.7" stroke="#333" stroke-width="0.6"/>
<line x1="76" y1="434.5" x2="77" y2="434.5" stroke="#333" stroke-width="0.6"/>
<line x1="76" y1="428.3" x2="77" y2="428.3" stroke="#333" stroke-width="0.6"/>
<line x1="76" y1="422.1" x2="77" y2="422.1" stroke="#333" stroke-width="0.6"/>
<line x1="76" y1="415.9" x2="77" y2="415.9" stroke="#333" stroke-width="0.6"/>
<clipPath id="c12"><rect x="137.9" y="411.1" width="46.9" height="47.6"/></clipPath>
<g clip-path="url(#c12)">
<rect x="140.06" y="442.97" width="1.0" height="1.0" fill="#c04848"/>
<rect x="145.1" y="446.98" width="1.0" height="1.0" fill="#e0b0b0"/>
<rect x="143.58" y="442.78" width="1.2" height="1.2" fill="#c86868"/>
<rect x="149.81" y="447" width="1.0" height="1.0" fill="#c04848"/>
<rect x="142.56" y="446.05" width="0.9" height="0.9" fill="#c86868"/>
<rect x="146.42" y="444.09" width="1.2" height="1.2" fill="#e0b0b0"/>
<path d="M147.3 458.9 L147.3 450.2 Q147.3 446 151.5 446 L152.6 446 Q156.8 446 156.8 450.2 L156.8 458.9 Z" fill="#c81414" stroke="#8e0909" stroke-width="1.1"/>
<path d="M140.7 458.9 L140.7 448.9 Q140.7 445 144.6 445 L144.6 445 Q148.5 445 148.5 448.9 L148.5 458.9 Z" fill="#c81414" stroke="#8e0909" stroke-width="1.1"/>
<circle cx="147.27" cy="446.47" r="1.17" fill="#8e0909"/>
<circle cx="153.7" cy="446.73" r="1.03" fill="#c81414"/>
<circle cx="155.67" cy="448.08" r="0.59" fill="#8e0909"/>
<circle cx="149.36" cy="447.43" r="1.21" fill="#a80c0c"/>
<circle cx="154.73" cy="447.38" r="0.94" fill="#8e0909"/>
<circle cx="147.21" cy="446.88" r="0.84" fill="#c81414"/>
<circle cx="150.44" cy="447.05" r="0.93" fill="#8e0909"/>
<circle cx="156" cy="448.66" r="1.28" fill="#c81414"/>
<circle cx="155.59" cy="447.96" r="1.19" fill="#c81414"/>
<circle cx="142.76" cy="446.15" r="0.69" fill="#a80c0c"/>
<circle cx="149.89" cy="446.87" r="1.11" fill="#c81414"/>
<circle cx="153.75" cy="446.98" r="0.84" fill="#8e0909"/>
<circle cx="151.47" cy="446.56" r="0.53" fill="#a80c0c"/>
<circle cx="142.59" cy="446.1" r="0.94" fill="#a80c0c"/>
<circle cx="145.24" cy="445.85" r="0.85" fill="#a80c0c"/>
<circle cx="150.87" cy="446.81" r="0.54" fill="#8e0909"/>
<circle cx="146.26" cy="446.33" r="0.86" fill="#c81414"/>
<circle cx="144.72" cy="445.77" r="1.29" fill="#a80c0c"/>
<circle cx="146.64" cy="446.58" r="0.65" fill="#a80c0c"/>
<circle cx="141.1" cy="448.19" r="0.71" fill="#c81414"/>
<circle cx="143.78" cy="445.89" r="1.14" fill="#8e0909"/>
<circle cx="150.6" cy="447.3" r="1.29" fill="#a80c0c"/>
<circle cx="143.4" cy="446.29" r="1.24" fill="#a80c0c"/>
<circle cx="153.9" cy="446.79" r="1.01" fill="#a80c0c"/>
<circle cx="157.09" cy="453.47" r="0.75" fill="#8e0909"/>
<circle cx="157.07" cy="455.46" r="1.02" fill="#8e0909"/>
<circle cx="157.17" cy="452.89" r="0.53" fill="#8e0909"/>
<circle cx="157.32" cy="451.6" r="0.95" fill="#8e0909"/>
<circle cx="157.28" cy="452.85" r="1.01" fill="#8e0909"/>
<circle cx="156.82" cy="453.68" r="0.5" fill="#8e0909"/>
<circle cx="157.13" cy="448.3" r="0.69" fill="#8e0909"/>
<circle cx="156.92" cy="449.51" r="0.83" fill="#8e0909"/>
<circle cx="157.14" cy="448.64" r="1" fill="#8e0909"/>
<circle cx="156.95" cy="458.21" r="0.53" fill="#8e0909"/>
<rect x="147.64" y="447.2" width="0.9" height="0.9" fill="#8a0808"/>
<rect x="153.41" y="453.9" width="0.9" height="0.9" fill="#e03030"/>
<rect x="156.48" y="454.59" width="0.9" height="0.9" fill="#8a0808"/>
<rect x="149.77" y="447.2" width="0.9" height="0.9" fill="#a80c0c"/>
<rect x="155.25" y="456.49" width="0.9" height="0.9" fill="#9a0a0a"/>
<rect x="155.36" y="453.37" width="0.9" height="0.9" fill="#8a0808"/>
<rect x="153.46" y="455.45" width="0.9" height="0.9" fill="#a80c0c"/>
<rect x="145.73" y="458.05" width="0.9" height="0.9" fill="#8a0808"/>
<rect x="150.72" y="448.48" width="0.9" height="0.9" fill="#8a0808"/>
<rect x="150.05" y="447.85" width="0.9" height="0.9" fill="#e03030"/>
<rect x="145.91" y="454.84" width="0.9" height="0.9" fill="#a80c0c"/>
<rect x="151.75" y="455.58" width="0.9" height="0.9" fill="#e03030"/>
<rect x="151.9" y="456.04" width="0.9" height="0.9" fill="#8a0808"/>
<rect x="146.59" y="446.38" width="0.9" height="0.9" fill="#8a0808"/>
<rect x="150.73" y="452.78" width="0.9" height="0.9" fill="#9a0a0a"/>
<rect x="151.45" y="451.06" width="0.9" height="0.9" fill="#a80c0c"/>
<rect x="154.94" y="448.15" width="0.9" height="0.9" fill="#a80c0c"/>
<rect x="140.82" y="450.65" width="0.9" height="0.9" fill="#e03030"/>
<rect x="154.37" y="455.19" width="0.9" height="0.9" fill="#e03030"/>
<rect x="144.25" y="457.85" width="0.9" height="0.9" fill="#e03030"/>
<rect x="143.31" y="451.99" width="0.9" height="0.9" fill="#a80c0c"/>
<rect x="148.11" y="456.35" width="0.9" height="0.9" fill="#9a0a0a"/>
<rect x="154.09" y="449.71" width="0.9" height="0.9" fill="#8a0808"/>
<rect x="149.09" y="452.24" width="0.9" height="0.9" fill="#9a0a0a"/>
<rect x="156.36" y="453.59" width="0.9" height="0.9" fill="#e03030"/>
<rect x="146.34" y="455.45" width="0.9" height="0.9" fill="#e03030"/>
<rect x="153.18" y="457.66" width="0.9" height="0.9" fill="#e03030"/>
<rect x="143.44" y="452.15" width="0.9" height="0.9" fill="#a80c0c"/>
<rect x="144.75" y="446.59" width="0.9" height="0.9" fill="#e03030"/>
<rect x="145.3" y="458.08" width="0.9" height="0.9" fill="#e03030"/>
<rect x="146.96" y="457.26" width="0.9" height="0.9" fill="#e03030"/>
<rect x="143.09" y="449.34" width="0.9" height="0.9" fill="#9a0a0a"/>
<rect x="154.27" y="454.24" width="0.9" height="0.9" fill="#8a0808"/>
<rect x="147.34" y="453.97" width="0.9" height="0.9" fill="#e03030"/>
<rect x="146.17" y="455.92" width="0.9" height="0.9" fill="#8a0808"/>
<rect x="146.89" y="451.15" width="0.9" height="0.9" fill="#a80c0c"/>
<rect x="143.43" y="448.65" width="0.9" height="0.9" fill="#e03030"/>
<rect x="142.47" y="449.46" width="0.9" height="0.9" fill="#9a0a0a"/>
<rect x="154.68" y="454.77" width="0.9" height="0.9" fill="#e03030"/>
<rect x="156.48" y="457.89" width="0.9" height="0.9" fill="#a80c0c"/>
<rect x="154.53" y="450.7" width="0.9" height="0.9" fill="#a80c0c"/>
<rect x="152.76" y="457.23" width="0.9" height="0.9" fill="#e03030"/>
<rect x="141.39" y="456.45" width="0.9" height="0.9" fill="#a80c0c"/>
<rect x="143.33" y="455.23" width="0.9" height="0.9" fill="#e03030"/>
<rect x="155.62" y="458.68" width="0.9" height="0.9" fill="#e03030"/>
<rect x="149.49" y="447.26" width="0.9" height="0.9" fill="#9a0a0a"/>
<rect x="146.57" y="452.43" width="0.9" height="0.9" fill="#a80c0c"/>
<rect x="147.92" y="452.81" width="0.9" height="0.9" fill="#a80c0c"/>
<rect x="153.59" y="453.01" width="0.9" height="0.9" fill="#e03030"/>
<rect x="148.22" y="454.55" width="0.9" height="0.9" fill="#8a0808"/>
<rect x="154.43" y="457.62" width="0.9" height="0.9" fill="#9a0a0a"/>
<rect x="152.21" y="450.31" width="0.9" height="0.9" fill="#a80c0c"/>
<rect x="148.61" y="457.18" width="0.9" height="0.9" fill="#9a0a0a"/>
<rect x="156.1" y="455.12" width="0.9" height="0.9" fill="#8a0808"/>
<rect x="149.54" y="458.46" width="0.9" height="0.9" fill="#e03030"/>
<rect x="152.84" y="456.98" width="0.9" height="0.9" fill="#a80c0c"/>
<rect x="146.31" y="448.99" width="0.9" height="0.9" fill="#8a0808"/>
<rect x="142.06" y="446.73" width="0.9" height="0.9" fill="#9a0a0a"/>
<rect x="155.72" y="447.37" width="0.9" height="0.9" fill="#9a0a0a"/>
<rect x="150.25" y="453.99" width="0.9" height="0.9" fill="#8a0808"/>
<rect x="150.83" y="452.49" width="0.9" height="0.9" fill="#e03030"/>
<rect x="147.52" y="453.01" width="0.9" height="0.9" fill="#e03030"/>
<rect x="153.58" y="451.65" width="0.9" height="0.9" fill="#e03030"/>
<rect x="156.04" y="458.74" width="0.9" height="0.9" fill="#e03030"/>
<rect x="142.99" y="447.58" width="0.9" height="0.9" fill="#8a0808"/>
<rect x="150.36" y="454.96" width="0.9" height="0.9" fill="#9a0a0a"/>
<rect x="143.88" y="447.59" width="0.9" height="0.9" fill="#8a0808"/>
<rect x="152.47" y="456.83" width="0.9" height="0.9" fill="#e03030"/>
<rect x="146.17" y="450.92" width="0.9" height="0.9" fill="#8a0808"/>
<rect x="146.21" y="457.47" width="0.9" height="0.9" fill="#e03030"/>
<ellipse cx="144.03" cy="453.45" rx="1.4" ry="3.95" fill="#d88a86" opacity="0.9"/>
<ellipse cx="152.95" cy="453.45" rx="2.4" ry="3.95" fill="#b30c0c"/>
</g>
<line x1="136.4" y1="410.7" x2="185.8" y2="410.7" stroke="#3a3a3a" stroke-width="1"/>
<line x1="185.2" y1="410.3" x2="185.2" y2="459.3" stroke="#5a5a5a" stroke-width="1.15"/>
<line x1="137.1" y1="410.3" x2="137.1" y2="459.9" stroke="#151515" stroke-width="1.45"/>
<line x1="136.4" y1="459.2" x2="185.8" y2="459.2" stroke="#1a1a1a" stroke-width="1.35"/>
<line x1="137.6" y1="453.1" x2="138.6" y2="453.1" stroke="#333" stroke-width="0.6"/>
<line x1="137.6" y1="446.9" x2="138.6" y2="446.9" stroke="#333" stroke-width="0.6"/>
<line x1="137.6" y1="440.7" x2="138.6" y2="440.7" stroke="#333" stroke-width="0.6"/>
<line x1="137.6" y1="434.5" x2="138.6" y2="434.5" stroke="#333" stroke-width="0.6"/>
<line x1="137.6" y1="428.3" x2="138.6" y2="428.3" stroke="#333" stroke-width="0.6"/>
<line x1="137.6" y1="422.1" x2="138.6" y2="422.1" stroke="#333" stroke-width="0.6"/>
<line x1="137.6" y1="415.9" x2="138.6" y2="415.9" stroke="#333" stroke-width="0.6"/>
<clipPath id="c13"><rect x="193.1" y="411.1" width="46.9" height="47.6"/></clipPath>
<g clip-path="url(#c13)">
<rect x="199.91" y="424.85" width="1.2" height="1.2" fill="#c04848"/>
<rect x="201.52" y="440.2" width="0.9" height="0.9" fill="#c04848"/>
<rect x="199.59" y="444.29" width="1.2" height="1.2" fill="#c86868"/>
<rect x="199.5" y="438.29" width="0.9" height="0.9" fill="#cc8080"/>
<rect x="200.72" y="445.33" width="0.9" height="0.9" fill="#d89a9a"/>
<rect x="198.83" y="443.98" width="1.0" height="1.0" fill="#d89a9a"/>
<rect x="199.92" y="420.63" width="1.0" height="1.0" fill="#d89a9a"/>
<rect x="197.56" y="418.41" width="1.2" height="1.2" fill="#e8c0c0"/>
<rect x="199.03" y="436.11" width="1.2" height="1.2" fill="#cc8080"/>
<rect x="199.58" y="437.7" width="1.0" height="1.0" fill="#b02525"/>
<rect x="200.76" y="412.89" width="1.2" height="1.2" fill="#e8c0c0"/>
<rect x="198.38" y="427.56" width="1.0" height="1.0" fill="#c04848"/>
<rect x="199.52" y="441.7" width="0.9" height="0.9" fill="#c86868"/>
<rect x="199.03" y="430.74" width="1.0" height="1.0" fill="#d89a9a"/>
<rect x="198.68" y="435.08" width="1.2" height="1.2" fill="#c04848"/>
<rect x="200.34" y="431.86" width="1.2" height="1.2" fill="#c86868"/>
<rect x="200.06" y="436.03" width="1.0" height="1.0" fill="#b02525"/>
<rect x="200.65" y="426.08" width="1.0" height="1.0" fill="#e8c0c0"/>
<rect x="201.05" y="417.7" width="0.9" height="0.9" fill="#c86868"/>
<rect x="200.01" y="431.61" width="1.2" height="1.2" fill="#e8c0c0"/>
<rect x="199.96" y="422.86" width="1.0" height="1.0" fill="#d89a9a"/>
<rect x="201.63" y="440.97" width="1.2" height="1.2" fill="#e0b0b0"/>
<rect x="199.89" y="413.49" width="1.2" height="1.2" fill="#c86868"/>
<rect x="199.47" y="431.67" width="1.2" height="1.2" fill="#a01818"/>
<rect x="199.92" y="428.59" width="0.9" height="0.9" fill="#e0b0b0"/>
<rect x="199.73" y="438.27" width="1.2" height="1.2" fill="#c04848"/>
<rect x="197.98" y="441.95" width="1.2" height="1.2" fill="#cc8080"/>
<rect x="199.27" y="428.15" width="1.2" height="1.2" fill="#d8a8a8"/>
<rect x="201.04" y="436.78" width="1.2" height="1.2" fill="#b02525"/>
<rect x="200.26" y="445.48" width="0.9" height="0.9" fill="#d89a9a"/>
<rect x="198.18" y="429.24" width="1.0" height="1.0" fill="#b02525"/>
<rect x="201.19" y="430.77" width="0.9" height="0.9" fill="#a01818"/>
<rect x="199.75" y="429.43" width="1.2" height="1.2" fill="#d8a8a8"/>
<rect x="200.53" y="419.42" width="1.2" height="1.2" fill="#c86868"/>
<rect x="200.48" y="435.72" width="1.2" height="1.2" fill="#c04848"/>
<rect x="201.73" y="442.49" width="1.2" height="1.2" fill="#cc8080"/>
<rect x="200.31" y="434.11" width="1.0" height="1.0" fill="#c86868"/>
<rect x="199.38" y="421.44" width="1.0" height="1.0" fill="#d89a9a"/>
<rect x="200.27" y="444.94" width="1.0" height="1.0" fill="#cc8080"/>
<rect x="200.89" y="443.94" width="1.2" height="1.2" fill="#a01818"/>
<rect x="201.28" y="437.93" width="1.0" height="1.0" fill="#e8c0c0"/>
<rect x="199.31" y="412.65" width="1.0" height="1.0" fill="#cc8080"/>
<rect x="201.14" y="414.3" width="0.9" height="0.9" fill="#c04848"/>
<rect x="200.46" y="443.35" width="0.9" height="0.9" fill="#c04848"/>
<rect x="199.52" y="438.41" width="0.9" height="0.9" fill="#e0b0b0"/>
<rect x="201.27" y="443.64" width="1.0" height="1.0" fill="#e8c0c0"/>
<rect x="198.86" y="433.8" width="1.2" height="1.2" fill="#e0b0b0"/>
<rect x="199.32" y="438.27" width="1.0" height="1.0" fill="#a01818"/>
<rect x="201.04" y="422.73" width="0.9" height="0.9" fill="#a01818"/>
<rect x="201.81" y="415.9" width="0.9" height="0.9" fill="#c04848"/>
<rect x="199.04" y="436.72" width="0.9" height="0.9" fill="#c86868"/>
<rect x="200.13" y="423.54" width="1.2" height="1.2" fill="#c86868"/>
<rect x="200.38" y="441.2" width="1.2" height="1.2" fill="#cc8080"/>
<rect x="198.35" y="444.63" width="0.9" height="0.9" fill="#d8a8a8"/>
<rect x="200.41" y="430.35" width="1.2" height="1.2" fill="#e0b0b0"/>
<rect x="200.36" y="435.05" width="1.2" height="1.2" fill="#c04848"/>
<rect x="199.87" y="444.67" width="0.9" height="0.9" fill="#a01818"/>
<rect x="200.41" y="423.22" width="1.2" height="1.2" fill="#b02525"/>
<rect x="199.58" y="412.32" width="0.9" height="0.9" fill="#cc8080"/>
<rect x="198.04" y="427.16" width="0.9" height="0.9" fill="#d89a9a"/>
<rect x="200.66" y="412.46" width="1.0" height="1.0" fill="#e8c0c0"/>
<rect x="200.55" y="439.11" width="1.0" height="1.0" fill="#c04848"/>
<rect x="199.62" y="430.41" width="1.0" height="1.0" fill="#d89a9a"/>
<rect x="201.16" y="440.32" width="1.0" height="1.0" fill="#c86868"/>
<rect x="197.27" y="421.87" width="1.0" height="1.0" fill="#e8c0c0"/>
<rect x="201.59" y="439.29" width="1.2" height="1.2" fill="#e8c0c0"/>
<rect x="201.01" y="441.23" width="1.2" height="1.2" fill="#cc8080"/>
<rect x="199.28" y="432.37" width="0.9" height="0.9" fill="#c86868"/>
<rect x="199.76" y="419.54" width="0.9" height="0.9" fill="#c04848"/>
<rect x="199.88" y="443.57" width="1.0" height="1.0" fill="#c04848"/>
<rect x="201.89" y="429.01" width="0.9" height="0.9" fill="#a01818"/>
<rect x="201.05" y="424.04" width="0.9" height="0.9" fill="#cc8080"/>
<rect x="200.2" y="417.91" width="1.0" height="1.0" fill="#c04848"/>
<rect x="199.95" y="418.81" width="1.2" height="1.2" fill="#c04848"/>
<rect x="201.11" y="415.35" width="0.9" height="0.9" fill="#d89a9a"/>
<rect x="200.39" y="432.01" width="0.9" height="0.9" fill="#b02525"/>
<rect x="199.52" y="429.01" width="1.2" height="1.2" fill="#e0b0b0"/>
<rect x="201.08" y="440.49" width="1.2" height="1.2" fill="#a01818"/>
<rect x="199.68" y="415.83" width="0.9" height="0.9" fill="#a01818"/>
<rect x="198.99" y="435.95" width="1.0" height="1.0" fill="#c04848"/>
<rect x="206.08" y="426.19" width="1.2" height="1.2" fill="#c86868"/>
<rect x="202.59" y="439.05" width="1.0" height="1.0" fill="#b02525"/>
<rect x="204.83" y="441.88" width="0.9" height="0.9" fill="#b02525"/>
<rect x="204.3" y="430.83" width="1.2" height="1.2" fill="#c04848"/>
<rect x="204.97" y="433.62" width="1.0" height="1.0" fill="#e0b0b0"/>
<rect x="204.68" y="429.77" width="1.2" height="1.2" fill="#e8c0c0"/>
<rect x="204.48" y="419.69" width="1.0" height="1.0" fill="#d8a8a8"/>
<rect x="204.96" y="437.45" width="0.9" height="0.9" fill="#b02525"/>
<rect x="204.45" y="444.22" width="1.0" height="1.0" fill="#e8c0c0"/>
<rect x="203.76" y="438.57" width="1.2" height="1.2" fill="#a01818"/>
<rect x="203.64" y="430.24" width="0.9" height="0.9" fill="#a01818"/>
<rect x="205.46" y="439.97" width="0.9" height="0.9" fill="#a01818"/>
<rect x="200.83" y="420.4" width="0.9" height="0.9" fill="#d8a8a8"/>
<rect x="204.14" y="434.59" width="1.0" height="1.0" fill="#d8a8a8"/>
<rect x="206.97" y="419.05" width="1.2" height="1.2" fill="#b02525"/>
<rect x="205.14" y="443.1" width="1.2" height="1.2" fill="#b02525"/>
<rect x="204.27" y="442.36" width="0.9" height="0.9" fill="#a01818"/>
<rect x="205.63" y="425.59" width="0.9" height="0.9" fill="#a01818"/>
<rect x="205.21" y="418.78" width="1.2" height="1.2" fill="#cc8080"/>
<rect x="206.8" y="444.16" width="1.2" height="1.2" fill="#e8c0c0"/>
<rect x="205.26" y="428.3" width="1.2" height="1.2" fill="#d8a8a8"/>
<rect x="205.39" y="422.68" width="0.9" height="0.9" fill="#c04848"/>
<rect x="204.6" y="434.9" width="1.0" height="1.0" fill="#c86868"/>
<rect x="203.58" y="439.1" width="1.0" height="1.0" fill="#d8a8a8"/>
<rect x="205.95" y="424.96" width="1.2" height="1.2" fill="#b02525"/>
<rect x="204.37" y="444.08" width="0.9" height="0.9" fill="#a01818"/>
<rect x="206.05" y="421.59" width="1.2" height="1.2" fill="#c86868"/>
<rect x="204.77" y="438.42" width="1.0" height="1.0" fill="#b02525"/>
<rect x="204.39" y="425.37" width="1.0" height="1.0" fill="#d8a8a8"/>
<rect x="205.24" y="442.9" width="0.9" height="0.9" fill="#e8c0c0"/>
<rect x="202.34" y="443.18" width="0.9" height="0.9" fill="#e8c0c0"/>
<rect x="205.37" y="425.65" width="1.0" height="1.0" fill="#d89a9a"/>
<rect x="208.13" y="425.3" width="0.9" height="0.9" fill="#d8a8a8"/>
<rect x="205.3" y="440.15" width="1.0" height="1.0" fill="#c04848"/>
<rect x="205.23" y="436.73" width="1.2" height="1.2" fill="#e0b0b0"/>
<rect x="204.85" y="441.51" width="1.2" height="1.2" fill="#c04848"/>
<rect x="205.46" y="434.72" width="1.2" height="1.2" fill="#a01818"/>
<rect x="205.72" y="434.56" width="1.0" height="1.0" fill="#b02525"/>
<rect x="204.19" y="442.49" width="0.9" height="0.9" fill="#cc8080"/>
<rect x="205.51" y="435.63" width="1.0" height="1.0" fill="#cc8080"/>
<rect x="206.2" y="444.16" width="1.0" height="1.0" fill="#c86868"/>
<rect x="204.25" y="442.13" width="0.9" height="0.9" fill="#d8a8a8"/>
<rect x="205.31" y="431.18" width="1.2" height="1.2" fill="#d8a8a8"/>
<rect x="203.52" y="433.93" width="1.2" height="1.2" fill="#c04848"/>
<rect x="207.16" y="445.16" width="0.9" height="0.9" fill="#cc8080"/>
<rect x="205.6" y="432.42" width="0.9" height="0.9" fill="#cc8080"/>
<rect x="205.14" y="417.84" width="1.2" height="1.2" fill="#cc8080"/>
<rect x="204.1" y="442.35" width="1.0" height="1.0" fill="#c86868"/>
<rect x="205.04" y="435.86" width="1.2" height="1.2" fill="#c86868"/>
<rect x="203.6" y="424.26" width="0.9" height="0.9" fill="#cc8080"/>
<rect x="207.11" y="434.12" width="1.0" height="1.0" fill="#cc8080"/>
<rect x="205.53" y="417.54" width="0.9" height="0.9" fill="#d8a8a8"/>
<rect x="206.02" y="432.63" width="1.2" height="1.2" fill="#e8c0c0"/>
<rect x="203.85" y="428.03" width="1.2" height="1.2" fill="#b02525"/>
<rect x="203.34" y="444.58" width="1.2" height="1.2" fill="#e8c0c0"/>
<rect x="204.87" y="441.91" width="0.9" height="0.9" fill="#b02525"/>
<rect x="202.13" y="419.26" width="1.0" height="1.0" fill="#e8c0c0"/>
<rect x="206.58" y="445.01" width="0.9" height="0.9" fill="#a01818"/>
<rect x="204.57" y="431.53" width="0.9" height="0.9" fill="#c04848"/>
<rect x="207.48" y="442.46" width="0.9" height="0.9" fill="#a01818"/>
<rect x="203.93" y="425.69" width="1.2" height="1.2" fill="#c86868"/>
<rect x="204.53" y="414.56" width="1.2" height="1.2" fill="#a01818"/>
<rect x="204.89" y="422.61" width="1.2" height="1.2" fill="#b02525"/>
<rect x="204.49" y="429.19" width="1.2" height="1.2" fill="#cc8080"/>
<rect x="204.7" y="417.59" width="1.0" height="1.0" fill="#a01818"/>
<rect x="204.14" y="428.17" width="1.2" height="1.2" fill="#e8c0c0"/>
<rect x="205.42" y="434.06" width="0.9" height="0.9" fill="#c04848"/>
<rect x="203.82" y="420.44" width="1.2" height="1.2" fill="#d8a8a8"/>
<rect x="204.56" y="444.22" width="1.2" height="1.2" fill="#cc8080"/>
<rect x="203.23" y="421.44" width="1.2" height="1.2" fill="#cc8080"/>
<rect x="206.37" y="440.42" width="0.9" height="0.9" fill="#a01818"/>
<rect x="209.94" y="428.21" width="0.9" height="0.9" fill="#e8c0c0"/>
<rect x="207.98" y="442.56" width="1.2" height="1.2" fill="#a01818"/>
<rect x="205.96" y="428.03" width="1.2" height="1.2" fill="#c86868"/>
<rect x="208.3" y="427" width="1.2" height="1.2" fill="#a01818"/>
<rect x="210.44" y="427.72" width="1.0" height="1.0" fill="#c04848"/>
<rect x="206.53" y="445.34" width="1.0" height="1.0" fill="#cc8080"/>
<rect x="212.36" y="444.13" width="1.0" height="1.0" fill="#a01818"/>
<rect x="208.06" y="424.56" width="1.0" height="1.0" fill="#b02525"/>
<rect x="208.8" y="444.39" width="1.2" height="1.2" fill="#c04848"/>
<rect x="205.8" y="436.15" width="1.0" height="1.0" fill="#a01818"/>
<rect x="207.3" y="435.03" width="1.2" height="1.2" fill="#a01818"/>
<rect x="207.29" y="439.1" width="1.0" height="1.0" fill="#cc8080"/>
<rect x="210.67" y="425.52" width="1.2" height="1.2" fill="#b02525"/>
<rect x="208.95" y="443.82" width="0.9" height="0.9" fill="#c04848"/>
<rect x="209.93" y="438.09" width="1.2" height="1.2" fill="#d89a9a"/>
<rect x="206.12" y="430.87" width="1.0" height="1.0" fill="#c86868"/>
<rect x="208.66" y="442.4" width="1.0" height="1.0" fill="#d8a8a8"/>
<rect x="208.41" y="436.55" width="1.0" height="1.0" fill="#c86868"/>
<rect x="209.17" y="445.44" width="1.0" height="1.0" fill="#a01818"/>
<rect x="206.92" y="440" width="1.2" height="1.2" fill="#b02525"/>
<rect x="208.38" y="432.27" width="0.9" height="0.9" fill="#e0b0b0"/>
<rect x="208.06" y="431.41" width="1.0" height="1.0" fill="#d8a8a8"/>
<rect x="210.21" y="445.09" width="1.2" height="1.2" fill="#d89a9a"/>
<rect x="209.17" y="445.5" width="0.9" height="0.9" fill="#cc8080"/>
<rect x="205.94" y="430.46" width="0.9" height="0.9" fill="#cc8080"/>
<rect x="207.98" y="438.64" width="0.9" height="0.9" fill="#cc8080"/>
<rect x="209.26" y="440.14" width="1.0" height="1.0" fill="#d8a8a8"/>
<rect x="208.78" y="421.63" width="0.9" height="0.9" fill="#a01818"/>
<rect x="209.25" y="441.86" width="1.2" height="1.2" fill="#e0b0b0"/>
<path d="M202.5 458.9 L202.5 449.7 Q202.5 445.5 206.7 445.5 L207.6 445.5 Q211.8 445.5 211.8 449.7 L211.8 458.9 Z" fill="#c81414" stroke="#8e0909" stroke-width="1.1"/>
<path d="M196.2 458.9 L196.2 447.25 Q196.2 443.5 199.95 443.5 L199.95 443.5 Q203.7 443.5 203.7 447.25 L203.7 458.9 Z" fill="#c81414" stroke="#8e0909" stroke-width="1.1"/>
<circle cx="208.96" cy="446.63" r="1.17" fill="#8e0909"/>
<circle cx="196.72" cy="446.36" r="1.23" fill="#c81414"/>
<circle cx="211.05" cy="448.3" r="0.55" fill="#8e0909"/>
<circle cx="198.57" cy="444.48" r="0.83" fill="#c81414"/>
<circle cx="201.22" cy="444.68" r="0.7" fill="#c81414"/>
<circle cx="206.24" cy="446.02" r="1.19" fill="#8e0909"/>
<circle cx="198.08" cy="444.67" r="0.67" fill="#8e0909"/>
<circle cx="206.67" cy="446.18" r="1.28" fill="#8e0909"/>
<circle cx="199.35" cy="444.05" r="0.91" fill="#a80c0c"/>
<circle cx="201.41" cy="444.75" r="0.83" fill="#c81414"/>
<circle cx="202.48" cy="445.21" r="0.79" fill="#8e0909"/>
<circle cx="200.42" cy="444.23" r="1.13" fill="#a80c0c"/>
<circle cx="197.52" cy="445.47" r="0.62" fill="#c81414"/>
<circle cx="206.34" cy="445.93" r="1.07" fill="#c81414"/>
<circle cx="201.83" cy="444.74" r="0.96" fill="#a80c0c"/>
<circle cx="202.31" cy="445.26" r="0.63" fill="#a80c0c"/>
<circle cx="210.41" cy="447.66" r="1.15" fill="#8e0909"/>
<circle cx="205.6" cy="446.58" r="0.67" fill="#a80c0c"/>
<circle cx="202.44" cy="445.26" r="0.89" fill="#8e0909"/>
<circle cx="202.55" cy="445.16" r="0.56" fill="#a80c0c"/>
<circle cx="203.08" cy="445.74" r="0.79" fill="#c81414"/>
<circle cx="203.97" cy="447.06" r="0.72" fill="#a80c0c"/>
<circle cx="200.81" cy="444.69" r="0.77" fill="#c81414"/>
<circle cx="208.84" cy="446.84" r="0.54" fill="#8e0909"/>
<circle cx="212.25" cy="458.52" r="1.11" fill="#8e0909"/>
<circle cx="212.34" cy="457.73" r="1.1" fill="#8e0909"/>
<circle cx="212.09" cy="451.67" r="0.62" fill="#8e0909"/>
<circle cx="212.05" cy="451.83" r="1.19" fill="#8e0909"/>
<circle cx="212.37" cy="448.62" r="1.18" fill="#8e0909"/>
<circle cx="212.28" cy="458.63" r="1.09" fill="#8e0909"/>
<circle cx="211.86" cy="447.6" r="0.67" fill="#8e0909"/>
<circle cx="212.07" cy="458.85" r="1.02" fill="#8e0909"/>
<circle cx="212.22" cy="449.63" r="0.57" fill="#8e0909"/>
<circle cx="212.12" cy="456.52" r="0.58" fill="#8e0909"/>
<rect x="205.29" y="457.63" width="0.9" height="0.9" fill="#9a0a0a"/>
<rect x="203.16" y="448.73" width="0.9" height="0.9" fill="#e03030"/>
<rect x="200.18" y="457.52" width="0.9" height="0.9" fill="#8a0808"/>
<rect x="211.49" y="447.41" width="0.9" height="0.9" fill="#9a0a0a"/>
<rect x="209.6" y="455.57" width="0.9" height="0.9" fill="#8a0808"/>
<rect x="198.84" y="451.66" width="0.9" height="0.9" fill="#a80c0c"/>
<rect x="205.6" y="457.32" width="0.9" height="0.9" fill="#8a0808"/>
<rect x="207.61" y="457.12" width="0.9" height="0.9" fill="#8a0808"/>
<rect x="198.59" y="457.79" width="0.9" height="0.9" fill="#9a0a0a"/>
<rect x="197.5" y="447.51" width="0.9" height="0.9" fill="#8a0808"/>
<rect x="208.97" y="453.17" width="0.9" height="0.9" fill="#e03030"/>
<rect x="201.58" y="453.35" width="0.9" height="0.9" fill="#a80c0c"/>
<rect x="202.25" y="453.85" width="0.9" height="0.9" fill="#9a0a0a"/>
<rect x="208.08" y="451.55" width="0.9" height="0.9" fill="#9a0a0a"/>
<rect x="207.94" y="450.62" width="0.9" height="0.9" fill="#e03030"/>
<rect x="197.39" y="450.62" width="0.9" height="0.9" fill="#9a0a0a"/>
<rect x="200.96" y="447.97" width="0.9" height="0.9" fill="#a80c0c"/>
<rect x="197.35" y="450.83" width="0.9" height="0.9" fill="#a80c0c"/>
<rect x="203.4" y="458.46" width="0.9" height="0.9" fill="#9a0a0a"/>
<rect x="196.39" y="458.35" width="0.9" height="0.9" fill="#a80c0c"/>
<rect x="210.47" y="452.77" width="0.9" height="0.9" fill="#e03030"/>
<rect x="209.54" y="446.97" width="0.9" height="0.9" fill="#8a0808"/>
<rect x="211.13" y="452.01" width="0.9" height="0.9" fill="#e03030"/>
<rect x="202.27" y="457.15" width="0.9" height="0.9" fill="#9a0a0a"/>
<rect x="203.78" y="456.2" width="0.9" height="0.9" fill="#8a0808"/>
<rect x="204.34" y="448.27" width="0.9" height="0.9" fill="#9a0a0a"/>
<rect x="196.68" y="457.86" width="0.9" height="0.9" fill="#9a0a0a"/>
<rect x="196.86" y="458.15" width="0.9" height="0.9" fill="#e03030"/>
<rect x="201.2" y="453.66" width="0.9" height="0.9" fill="#8a0808"/>
<rect x="201.75" y="447.51" width="0.9" height="0.9" fill="#a80c0c"/>
<rect x="201.3" y="445.61" width="0.9" height="0.9" fill="#a80c0c"/>
<rect x="209.74" y="448.14" width="0.9" height="0.9" fill="#a80c0c"/>
<rect x="211.18" y="454.79" width="0.9" height="0.9" fill="#8a0808"/>
<rect x="211.12" y="452.32" width="0.9" height="0.9" fill="#e03030"/>
<rect x="196.9" y="445.32" width="0.9" height="0.9" fill="#9a0a0a"/>
<rect x="206.8" y="457.78" width="0.9" height="0.9" fill="#9a0a0a"/>
<rect x="203.57" y="457.68" width="0.9" height="0.9" fill="#e03030"/>
<rect x="200.11" y="457.91" width="0.9" height="0.9" fill="#9a0a0a"/>
<rect x="208.35" y="448.08" width="0.9" height="0.9" fill="#e03030"/>
<rect x="198.92" y="450.04" width="0.9" height="0.9" fill="#e03030"/>
<rect x="202.73" y="452.18" width="0.9" height="0.9" fill="#a80c0c"/>
<rect x="199.61" y="446.93" width="0.9" height="0.9" fill="#8a0808"/>
<rect x="199.95" y="451.95" width="0.9" height="0.9" fill="#8a0808"/>
<rect x="198.54" y="453.63" width="0.9" height="0.9" fill="#a80c0c"/>
<rect x="196.91" y="446.54" width="0.9" height="0.9" fill="#e03030"/>
<rect x="208.68" y="455.12" width="0.9" height="0.9" fill="#8a0808"/>
<rect x="210.98" y="452.86" width="0.9" height="0.9" fill="#e03030"/>
<rect x="196.22" y="444.63" width="0.9" height="0.9" fill="#8a0808"/>
<rect x="204.05" y="451.34" width="0.9" height="0.9" fill="#e03030"/>
<rect x="204.23" y="446.95" width="0.9" height="0.9" fill="#9a0a0a"/>
<rect x="205.33" y="455.31" width="0.9" height="0.9" fill="#e03030"/>
<rect x="209.35" y="447.87" width="0.9" height="0.9" fill="#9a0a0a"/>
<rect x="205.83" y="457.87" width="0.9" height="0.9" fill="#a80c0c"/>
<rect x="206.7" y="457.16" width="0.9" height="0.9" fill="#8a0808"/>
<rect x="198.66" y="452.82" width="0.9" height="0.9" fill="#a80c0c"/>
<rect x="206.97" y="453" width="0.9" height="0.9" fill="#9a0a0a"/>
<rect x="196.92" y="447.66" width="0.9" height="0.9" fill="#8a0808"/>
<rect x="211.8" y="455.49" width="0.9" height="0.9" fill="#8a0808"/>
<rect x="200.55" y="452.1" width="0.9" height="0.9" fill="#a80c0c"/>
<rect x="206.64" y="447.25" width="0.9" height="0.9" fill="#8a0808"/>
<rect x="211.31" y="455.38" width="0.9" height="0.9" fill="#e03030"/>
<rect x="204.17" y="454.74" width="0.9" height="0.9" fill="#e03030"/>
<rect x="206.3" y="452.1" width="0.9" height="0.9" fill="#e03030"/>
<rect x="209.26" y="450.61" width="0.9" height="0.9" fill="#a80c0c"/>
<rect x="206.36" y="455.84" width="0.9" height="0.9" fill="#e03030"/>
<rect x="202.18" y="449.43" width="0.9" height="0.9" fill="#e03030"/>
<rect x="203.49" y="454.54" width="0.9" height="0.9" fill="#8a0808"/>
<rect x="202.32" y="449.88" width="0.9" height="0.9" fill="#8a0808"/>
<rect x="205.03" y="453.87" width="0.9" height="0.9" fill="#8a0808"/>
<rect x="196.9" y="458.52" width="0.9" height="0.9" fill="#9a0a0a"/>
<ellipse cx="199.39" cy="452.7" rx="1.4" ry="4.7" fill="#d88a86" opacity="0.9"/>
<ellipse cx="208.05" cy="453.2" rx="2.4" ry="4.2" fill="#b30c0c"/>
</g>
<line x1="191.6" y1="410.7" x2="241" y2="410.7" stroke="#3a3a3a" stroke-width="1"/>
<line x1="240.4" y1="410.3" x2="240.4" y2="459.3" stroke="#5a5a5a" stroke-width="1.15"/>
<line x1="192.3" y1="410.3" x2="192.3" y2="459.9" stroke="#151515" stroke-width="1.45"/>
<line x1="191.6" y1="459.2" x2="241" y2="459.2" stroke="#1a1a1a" stroke-width="1.35"/>
<line x1="192.8" y1="453.1" x2="193.8" y2="453.1" stroke="#333" stroke-width="0.6"/>
<line x1="192.8" y1="446.9" x2="193.8" y2="446.9" stroke="#333" stroke-width="0.6"/>
<line x1="192.8" y1="440.7" x2="193.8" y2="440.7" stroke="#333" stroke-width="0.6"/>
<line x1="192.8" y1="434.5" x2="193.8" y2="434.5" stroke="#333" stroke-width="0.6"/>
<line x1="192.8" y1="428.3" x2="193.8" y2="428.3" stroke="#333" stroke-width="0.6"/>
<line x1="192.8" y1="422.1" x2="193.8" y2="422.1" stroke="#333" stroke-width="0.6"/>
<line x1="192.8" y1="415.9" x2="193.8" y2="415.9" stroke="#333" stroke-width="0.6"/>
<clipPath id="c14"><rect x="263.5" y="411.1" width="46.9" height="47.6"/></clipPath>
<g clip-path="url(#c14)">
<rect x="268.18" y="443.61" width="0.8" height="0.8" fill="#6ab4ea"/>
<rect x="273.23" y="448.27" width="0.8" height="0.8" fill="#6ab4ea"/>
<rect x="269.97" y="443.21" width="0.8" height="0.8" fill="#6ab4ea"/>
<rect x="272.3" y="446.31" width="0.8" height="0.8" fill="#b0d8f4"/>
<rect x="271.63" y="440.83" width="0.8" height="0.8" fill="#b0d8f4"/>
<rect x="269.58" y="440.94" width="0.8" height="0.8" fill="#b0d8f4"/>
<rect x="276.59" y="447.33" width="0.8" height="0.8" fill="#6ab4ea"/>
<rect x="274.48" y="448.92" width="0.8" height="0.8" fill="#6ab4ea"/>
<rect x="274.89" y="448.06" width="0.8" height="0.8" fill="#8ccaf2"/>
<rect x="274.72" y="449.07" width="0.8" height="0.8" fill="#b0d8f4"/>
<path d="M264.9 457.1 C265.9 453.55 269.99 450 271.99 451.42 C272.99 453.55 267.9 457.1 264.9 457.1 Z" fill="#8ad4f6" stroke="#2a98e8" stroke-width="1.0"/>
<path d="M270.49 453.91 C271.99 450.71 281.6 450 283.6 451.77 C285.1 453.19 284.6 456.04 280.6 455.68 C274.99 456.04 270.99 457.1 270.49 453.91 Z" fill="#2a92e8" stroke="#1a84dc" stroke-width="1.0"/>
<ellipse cx="278.8" cy="453.41" rx="3.53" ry="0.99" fill="#4aa8ee"/>
</g>
<line x1="262" y1="410.7" x2="311.4" y2="410.7" stroke="#3a3a3a" stroke-width="1"/>
<line x1="310.8" y1="410.3" x2="310.8" y2="459.3" stroke="#5a5a5a" stroke-width="1.15"/>
<line x1="262.7" y1="410.3" x2="262.7" y2="459.9" stroke="#151515" stroke-width="1.45"/>
<line x1="262" y1="459.2" x2="311.4" y2="459.2" stroke="#1a1a1a" stroke-width="1.35"/>
<line x1="263.2" y1="453.1" x2="264.2" y2="453.1" stroke="#333" stroke-width="0.6"/>
<line x1="263.2" y1="446.9" x2="264.2" y2="446.9" stroke="#333" stroke-width="0.6"/>
<line x1="263.2" y1="440.7" x2="264.2" y2="440.7" stroke="#333" stroke-width="0.6"/>
<line x1="263.2" y1="434.5" x2="264.2" y2="434.5" stroke="#333" stroke-width="0.6"/>
<line x1="263.2" y1="428.3" x2="264.2" y2="428.3" stroke="#333" stroke-width="0.6"/>
<line x1="263.2" y1="422.1" x2="264.2" y2="422.1" stroke="#333" stroke-width="0.6"/>
<line x1="263.2" y1="415.9" x2="264.2" y2="415.9" stroke="#333" stroke-width="0.6"/>
<clipPath id="c15"><rect x="318.7" y="411.1" width="46.9" height="47.6"/></clipPath>
<g clip-path="url(#c15)">
<rect x="332.63" y="450.18" width="0.8" height="0.8" fill="#8ccaf2"/>
<rect x="326.42" y="424.73" width="0.8" height="0.8" fill="#8ccaf2"/>
<rect x="325.62" y="430.26" width="0.8" height="0.8" fill="#5aaee8"/>
<rect x="331.8" y="424.31" width="0.8" height="0.8" fill="#5aaee8"/>
<rect x="326.1" y="439.89" width="0.8" height="0.8" fill="#b8ddf6"/>
<rect x="327.36" y="445.06" width="0.8" height="0.8" fill="#5aaee8"/>
<rect x="332.4" y="446.39" width="0.8" height="0.8" fill="#b8ddf6"/>
<rect x="331.34" y="446" width="0.8" height="0.8" fill="#3090dd"/>
<rect x="326.98" y="440.18" width="0.8" height="0.8" fill="#3090dd"/>
<rect x="328.97" y="440.03" width="0.8" height="0.8" fill="#b8ddf6"/>
<rect x="328.58" y="443.8" width="0.8" height="0.8" fill="#3090dd"/>
<rect x="328.32" y="428.5" width="0.8" height="0.8" fill="#8ccaf2"/>
<rect x="328.97" y="426.01" width="0.8" height="0.8" fill="#8ccaf2"/>
<rect x="326.71" y="438.05" width="0.8" height="0.8" fill="#8ccaf2"/>
<rect x="327.41" y="439.12" width="0.8" height="0.8" fill="#8ccaf2"/>
<rect x="332.07" y="441.76" width="0.8" height="0.8" fill="#8ccaf2"/>
<rect x="328.81" y="429.19" width="0.8" height="0.8" fill="#b8ddf6"/>
<rect x="328.29" y="438.93" width="0.8" height="0.8" fill="#5aaee8"/>
<rect x="329.39" y="438.98" width="0.8" height="0.8" fill="#8ccaf2"/>
<rect x="327.01" y="443.89" width="0.8" height="0.8" fill="#b8ddf6"/>
<rect x="328.18" y="439.62" width="0.8" height="0.8" fill="#3090dd"/>
<rect x="331.22" y="431.68" width="0.8" height="0.8" fill="#b8ddf6"/>
<rect x="328.85" y="448.35" width="0.8" height="0.8" fill="#3090dd"/>
<rect x="328.2" y="450.13" width="0.8" height="0.8" fill="#b8ddf6"/>
<rect x="332.35" y="432.15" width="0.8" height="0.8" fill="#b8ddf6"/>
<rect x="325.69" y="440.31" width="0.8" height="0.8" fill="#8ccaf2"/>
<rect x="332.47" y="447.45" width="0.8" height="0.8" fill="#3090dd"/>
<rect x="329.55" y="428.23" width="0.8" height="0.8" fill="#3090dd"/>
<rect x="325.53" y="449.38" width="0.8" height="0.8" fill="#8ccaf2"/>
<rect x="329.59" y="440" width="0.8" height="0.8" fill="#3090dd"/>
<rect x="330.53" y="445.24" width="0.8" height="0.8" fill="#8ccaf2"/>
<rect x="329.9" y="449.47" width="0.8" height="0.8" fill="#3090dd"/>
<rect x="328.54" y="449.48" width="0.8" height="0.8" fill="#b8ddf6"/>
<rect x="329.78" y="443.88" width="0.8" height="0.8" fill="#8ccaf2"/>
<rect x="331.37" y="427.59" width="0.8" height="0.8" fill="#3090dd"/>
<rect x="325.32" y="434.24" width="0.8" height="0.8" fill="#b8ddf6"/>
<rect x="329.95" y="427.12" width="0.8" height="0.8" fill="#8ccaf2"/>
<rect x="326.31" y="445.39" width="0.8" height="0.8" fill="#b8ddf6"/>
<rect x="327.7" y="445.52" width="0.8" height="0.8" fill="#b8ddf6"/>
<rect x="328.99" y="450.28" width="0.8" height="0.8" fill="#b8ddf6"/>
<rect x="330.61" y="443.17" width="0.8" height="0.8" fill="#8ccaf2"/>
<rect x="331.79" y="435.04" width="0.8" height="0.8" fill="#8ccaf2"/>
<rect x="332.8" y="432.66" width="0.8" height="0.8" fill="#3090dd"/>
<rect x="327.78" y="427.57" width="0.8" height="0.8" fill="#5aaee8"/>
<rect x="327.78" y="443.8" width="0.8" height="0.8" fill="#3090dd"/>
<rect x="330.88" y="437.67" width="0.8" height="0.8" fill="#3090dd"/>
<rect x="329.6" y="448.23" width="0.8" height="0.8" fill="#8ccaf2"/>
<rect x="325.97" y="429" width="0.8" height="0.8" fill="#3090dd"/>
<rect x="331.66" y="434.63" width="0.8" height="0.8" fill="#b8ddf6"/>
<rect x="328.04" y="445.76" width="0.8" height="0.8" fill="#8ccaf2"/>
<rect x="332.87" y="432.67" width="0.8" height="0.8" fill="#5aaee8"/>
<rect x="331.59" y="433.77" width="0.8" height="0.8" fill="#b8ddf6"/>
<rect x="328.74" y="436.09" width="0.8" height="0.8" fill="#3090dd"/>
<rect x="325.42" y="443.25" width="0.8" height="0.8" fill="#b8ddf6"/>
<rect x="327.95" y="446.83" width="0.8" height="0.8" fill="#3090dd"/>
<rect x="332.25" y="433.43" width="0.8" height="0.8" fill="#5aaee8"/>
<rect x="325.96" y="434.91" width="0.8" height="0.8" fill="#5aaee8"/>
<rect x="330.94" y="449.22" width="0.8" height="0.8" fill="#3090dd"/>
<rect x="329.32" y="427.86" width="0.8" height="0.8" fill="#5aaee8"/>
<rect x="327.68" y="435.83" width="0.8" height="0.8" fill="#8ccaf2"/>
<rect x="322.93" y="444.78" width="0.9" height="0.9" fill="#1a80d8"/>
<rect x="324.77" y="444.66" width="0.9" height="0.9" fill="#1a80d8"/>
<rect x="324.42" y="440.92" width="0.9" height="0.9" fill="#7cc0f0"/>
<rect x="323.12" y="441.87" width="0.9" height="0.9" fill="#1a80d8"/>
<rect x="325.39" y="442.89" width="0.9" height="0.9" fill="#1a80d8"/>
<rect x="324.82" y="436.44" width="0.9" height="0.9" fill="#2894e4"/>
<rect x="324.39" y="442.33" width="0.9" height="0.9" fill="#2894e4"/>
<rect x="324.58" y="436.33" width="0.9" height="0.9" fill="#2894e4"/>
<rect x="323.73" y="437.86" width="0.9" height="0.9" fill="#7cc0f0"/>
<rect x="324.7" y="430.76" width="0.9" height="0.9" fill="#4aa4e8"/>
<rect x="323.14" y="444.13" width="0.9" height="0.9" fill="#2894e4"/>
<rect x="323.47" y="451.17" width="0.9" height="0.9" fill="#4aa4e8"/>
<rect x="326.24" y="442.38" width="0.9" height="0.9" fill="#7cc0f0"/>
<rect x="323.53" y="440.4" width="0.9" height="0.9" fill="#1a80d8"/>
<rect x="325.03" y="431.72" width="0.9" height="0.9" fill="#7cc0f0"/>
<rect x="324.86" y="436.61" width="0.9" height="0.9" fill="#7cc0f0"/>
<rect x="324.7" y="435.98" width="0.9" height="0.9" fill="#7cc0f0"/>
<rect x="324.8" y="448.3" width="0.9" height="0.9" fill="#4aa4e8"/>
<rect x="326.06" y="430.39" width="0.9" height="0.9" fill="#1a80d8"/>
<rect x="324.32" y="447.79" width="0.9" height="0.9" fill="#4aa4e8"/>
<rect x="325.55" y="429.89" width="0.9" height="0.9" fill="#1a80d8"/>
<rect x="325.98" y="429.07" width="0.9" height="0.9" fill="#7cc0f0"/>
<rect x="326.18" y="429.19" width="0.9" height="0.9" fill="#1a80d8"/>
<rect x="322.75" y="443.99" width="0.9" height="0.9" fill="#7cc0f0"/>
<rect x="322.53" y="449.36" width="0.9" height="0.9" fill="#7cc0f0"/>
<rect x="324.71" y="436.86" width="0.9" height="0.9" fill="#7cc0f0"/>
<rect x="325.1" y="434.4" width="0.9" height="0.9" fill="#1a80d8"/>
<rect x="322.93" y="446.19" width="0.9" height="0.9" fill="#7cc0f0"/>
<rect x="323.22" y="445.25" width="0.9" height="0.9" fill="#4aa4e8"/>
<rect x="323.04" y="453.59" width="0.9" height="0.9" fill="#1a80d8"/>
<rect x="324.97" y="441.06" width="0.9" height="0.9" fill="#2894e4"/>
<rect x="322.69" y="450.74" width="0.9" height="0.9" fill="#4aa4e8"/>
<rect x="322.36" y="448.21" width="0.9" height="0.9" fill="#7cc0f0"/>
<rect x="325.19" y="431.59" width="0.9" height="0.9" fill="#1a80d8"/>
<rect x="325.34" y="431.87" width="0.9" height="0.9" fill="#1a80d8"/>
<rect x="325.02" y="429.22" width="0.9" height="0.9" fill="#4aa4e8"/>
<rect x="323.62" y="437.57" width="0.9" height="0.9" fill="#2894e4"/>
<rect x="322.58" y="449.31" width="0.9" height="0.9" fill="#4aa4e8"/>
<rect x="324.84" y="431.73" width="0.9" height="0.9" fill="#4aa4e8"/>
<rect x="323.47" y="446.17" width="0.9" height="0.9" fill="#7cc0f0"/>
<rect x="324.61" y="436.68" width="0.9" height="0.9" fill="#2894e4"/>
<rect x="325.16" y="429.91" width="0.9" height="0.9" fill="#7cc0f0"/>
<rect x="325.34" y="430.74" width="0.9" height="0.9" fill="#7cc0f0"/>
<rect x="325.07" y="435.6" width="0.9" height="0.9" fill="#1a80d8"/>
<rect x="324.11" y="442.78" width="0.9" height="0.9" fill="#2894e4"/>
<rect x="324.63" y="437.34" width="0.9" height="0.9" fill="#7cc0f0"/>
<rect x="322.99" y="445.06" width="0.9" height="0.9" fill="#2894e4"/>
<rect x="325.64" y="429.43" width="0.9" height="0.9" fill="#2894e4"/>
<rect x="325.2" y="445.4" width="0.9" height="0.9" fill="#2894e4"/>
<rect x="323.62" y="442.68" width="0.9" height="0.9" fill="#2894e4"/>
<rect x="324.28" y="451.88" width="0.9" height="0.9" fill="#7cc0f0"/>
<rect x="323.5" y="449.34" width="0.9" height="0.9" fill="#1a80d8"/>
<rect x="324.81" y="436.01" width="0.9" height="0.9" fill="#1a80d8"/>
<rect x="324.26" y="433.1" width="0.9" height="0.9" fill="#1a80d8"/>
<rect x="326.92" y="428.44" width="0.9" height="0.9" fill="#4aa4e8"/>
<rect x="324.13" y="436.68" width="0.9" height="0.9" fill="#7cc0f0"/>
<rect x="322.02" y="455.41" width="0.9" height="0.9" fill="#7cc0f0"/>
<rect x="325.93" y="429.68" width="0.9" height="0.9" fill="#4aa4e8"/>
<rect x="325.56" y="429.04" width="0.9" height="0.9" fill="#2894e4"/>
<rect x="326.01" y="430.99" width="0.9" height="0.9" fill="#1a80d8"/>
<rect x="324.04" y="440.46" width="0.9" height="0.9" fill="#1a80d8"/>
<rect x="324.09" y="434.15" width="0.9" height="0.9" fill="#7cc0f0"/>
<rect x="323.88" y="447.43" width="0.9" height="0.9" fill="#1a80d8"/>
<rect x="324.27" y="436.34" width="0.9" height="0.9" fill="#2894e4"/>
<rect x="324.41" y="434.69" width="0.9" height="0.9" fill="#1a80d8"/>
<rect x="325.27" y="429.38" width="0.9" height="0.9" fill="#2894e4"/>
<rect x="322.82" y="446.96" width="0.9" height="0.9" fill="#4aa4e8"/>
<rect x="323.68" y="442.87" width="0.9" height="0.9" fill="#1a80d8"/>
<rect x="323.28" y="439.11" width="0.9" height="0.9" fill="#2894e4"/>
<rect x="325.36" y="428.03" width="0.9" height="0.9" fill="#4aa4e8"/>
<rect x="324.53" y="443.07" width="0.9" height="0.9" fill="#4aa4e8"/>
<rect x="324.35" y="433.25" width="0.9" height="0.9" fill="#2894e4"/>
<rect x="327.49" y="434.82" width="0.9" height="0.9" fill="#4aa4e8"/>
<rect x="324.39" y="438.28" width="0.9" height="0.9" fill="#1a80d8"/>
<rect x="324.94" y="433.47" width="0.9" height="0.9" fill="#7cc0f0"/>
<rect x="324.29" y="436.12" width="0.9" height="0.9" fill="#4aa4e8"/>
<rect x="323.87" y="444.48" width="0.9" height="0.9" fill="#1a80d8"/>
<rect x="324.82" y="437.77" width="0.9" height="0.9" fill="#2894e4"/>
<rect x="322.9" y="454.61" width="0.9" height="0.9" fill="#2894e4"/>
<rect x="322.81" y="442.89" width="0.9" height="0.9" fill="#1a80d8"/>
<polygon points="321.7,457.5 321.83,454.82 321.99,452.17 322.17,449.57 322.39,447.01 322.64,444.49 322.92,442.01 323.22,439.57 323.56,437.18 323.92,434.82 324.32,432.51 324.74,430.23 325.2,428 325.7,428 325.32,430.23 325,432.51 324.72,434.82 324.49,437.18 324.3,439.57 324.15,442.01 324.04,444.49 323.97,447.01 323.93,449.57 323.92,452.17 323.95,454.82 324.02,457.5" fill="#2894e4" opacity="0.35"/>
<path d="M322.2 457.7 C323.2 451 326.7 450 329.7 451 C335.6 449.5 338.6 450 338.6 453 C338.6 456 333.6 456.5 330.7 456.5 C326.7 457 324.7 458 322.2 457.7 Z" fill="#86c8f2" stroke="#1a80d8" stroke-width="1.1"/>
<ellipse cx="331.2" cy="453" rx="3.6" ry="1.3" fill="#2a92e8"/>
<path d="M320.9 458.1 L325.2 453.5" stroke="#8fd0f6" stroke-width="1"/>
</g>
<line x1="317.2" y1="410.7" x2="366.6" y2="410.7" stroke="#3a3a3a" stroke-width="1"/>
<line x1="366" y1="410.3" x2="366" y2="459.3" stroke="#5a5a5a" stroke-width="1.15"/>
<line x1="317.9" y1="410.3" x2="317.9" y2="459.9" stroke="#151515" stroke-width="1.45"/>
<line x1="317.2" y1="459.2" x2="366.6" y2="459.2" stroke="#1a1a1a" stroke-width="1.35"/>
<line x1="318.4" y1="453.1" x2="319.4" y2="453.1" stroke="#333" stroke-width="0.6"/>
<line x1="318.4" y1="446.9" x2="319.4" y2="446.9" stroke="#333" stroke-width="0.6"/>
<line x1="318.4" y1="440.7" x2="319.4" y2="440.7" stroke="#333" stroke-width="0.6"/>
<line x1="318.4" y1="434.5" x2="319.4" y2="434.5" stroke="#333" stroke-width="0.6"/>
<line x1="318.4" y1="428.3" x2="319.4" y2="428.3" stroke="#333" stroke-width="0.6"/>
<line x1="318.4" y1="422.1" x2="319.4" y2="422.1" stroke="#333" stroke-width="0.6"/>
<line x1="318.4" y1="415.9" x2="319.4" y2="415.9" stroke="#333" stroke-width="0.6"/>
<clipPath id="c16"><rect x="380.2" y="411.1" width="46.9" height="47.6"/></clipPath>
<g clip-path="url(#c16)">
<rect x="388.34" y="446.57" width="0.8" height="0.8" fill="#b0d8f4"/>
<rect x="386.72" y="449.9" width="0.8" height="0.8" fill="#6ab4ea"/>
<rect x="392.53" y="448.74" width="0.8" height="0.8" fill="#8ccaf2"/>
<rect x="384.12" y="448.24" width="0.8" height="0.8" fill="#b0d8f4"/>
<rect x="392" y="440.62" width="0.8" height="0.8" fill="#6ab4ea"/>
<rect x="387.72" y="442.89" width="0.8" height="0.8" fill="#6ab4ea"/>
<rect x="387.04" y="441.45" width="0.8" height="0.8" fill="#6ab4ea"/>
<rect x="392.01" y="449.85" width="0.8" height="0.8" fill="#b0d8f4"/>
<rect x="391.18" y="444" width="0.8" height="0.8" fill="#8ccaf2"/>
<rect x="393.39" y="447.72" width="0.8" height="0.8" fill="#b0d8f4"/>
<path d="M382 457.6 C383 454 387.67 450.4 389.67 451.84 C390.67 454 385 457.6 382 457.6 Z" fill="#8ad4f6" stroke="#2a98e8" stroke-width="1.0"/>
<path d="M388.17 454.36 C389.67 451.12 400.3 450.4 402.3 452.2 C403.8 453.64 403.3 456.52 399.3 456.16 C392.67 456.52 388.67 457.6 388.17 454.36 Z" fill="#2a92e8" stroke="#1a84dc" stroke-width="1.0"/>
<ellipse cx="396.98" cy="453.86" rx="3.82" ry="1.01" fill="#4aa8ee"/>
</g>
<line x1="378.7" y1="410.7" x2="428.1" y2="410.7" stroke="#3a3a3a" stroke-width="1"/>
<line x1="427.5" y1="410.3" x2="427.5" y2="459.3" stroke="#5a5a5a" stroke-width="1.15"/>
<line x1="379.4" y1="410.3" x2="379.4" y2="459.9" stroke="#151515" stroke-width="1.45"/>
<line x1="378.7" y1="459.2" x2="428.1" y2="459.2" stroke="#1a1a1a" stroke-width="1.35"/>
<line x1="379.9" y1="453.1" x2="380.9" y2="453.1" stroke="#333" stroke-width="0.6"/>
<line x1="379.9" y1="446.9" x2="380.9" y2="446.9" stroke="#333" stroke-width="0.6"/>
<line x1="379.9" y1="440.7" x2="380.9" y2="440.7" stroke="#333" stroke-width="0.6"/>
<line x1="379.9" y1="434.5" x2="380.9" y2="434.5" stroke="#333" stroke-width="0.6"/>
<line x1="379.9" y1="428.3" x2="380.9" y2="428.3" stroke="#333" stroke-width="0.6"/>
<line x1="379.9" y1="422.1" x2="380.9" y2="422.1" stroke="#333" stroke-width="0.6"/>
<line x1="379.9" y1="415.9" x2="380.9" y2="415.9" stroke="#333" stroke-width="0.6"/>
<clipPath id="c17"><rect x="435.3" y="411.1" width="46.9" height="47.6"/></clipPath>
<g clip-path="url(#c17)">
<rect x="445.96" y="431.3" width="0.8" height="0.8" fill="#b8ddf6"/>
<rect x="444.55" y="432.32" width="0.8" height="0.8" fill="#b8ddf6"/>
<rect x="443.47" y="448.01" width="0.8" height="0.8" fill="#3090dd"/>
<rect x="447.73" y="440.54" width="0.8" height="0.8" fill="#b8ddf6"/>
<rect x="446.68" y="434.34" width="0.8" height="0.8" fill="#3090dd"/>
<rect x="443.63" y="437.54" width="0.8" height="0.8" fill="#5aaee8"/>
<rect x="447.72" y="429.55" width="0.8" height="0.8" fill="#5aaee8"/>
<rect x="448.14" y="437.96" width="0.8" height="0.8" fill="#5aaee8"/>
<rect x="444.8" y="446.51" width="0.8" height="0.8" fill="#8ccaf2"/>
<rect x="444.67" y="447.21" width="0.8" height="0.8" fill="#3090dd"/>
<rect x="446.67" y="436.38" width="0.8" height="0.8" fill="#3090dd"/>
<rect x="447.72" y="428.4" width="0.8" height="0.8" fill="#8ccaf2"/>
<rect x="445.42" y="437.05" width="0.8" height="0.8" fill="#b8ddf6"/>
<rect x="443.1" y="439.24" width="0.8" height="0.8" fill="#8ccaf2"/>
<rect x="448.05" y="444.35" width="0.8" height="0.8" fill="#5aaee8"/>
<rect x="448.59" y="438.1" width="0.8" height="0.8" fill="#b8ddf6"/>
<rect x="443.15" y="447.48" width="0.8" height="0.8" fill="#b8ddf6"/>
<rect x="443.97" y="436.29" width="0.8" height="0.8" fill="#5aaee8"/>
<rect x="444.31" y="442.95" width="0.8" height="0.8" fill="#b8ddf6"/>
<rect x="444.73" y="442.44" width="0.8" height="0.8" fill="#b8ddf6"/>
<rect x="444.83" y="447.69" width="0.8" height="0.8" fill="#b8ddf6"/>
<rect x="442.92" y="432.86" width="0.8" height="0.8" fill="#3090dd"/>
<rect x="446.63" y="433.24" width="0.8" height="0.8" fill="#b8ddf6"/>
<rect x="444.36" y="432.77" width="0.8" height="0.8" fill="#3090dd"/>
<rect x="442.93" y="437.23" width="0.8" height="0.8" fill="#5aaee8"/>
<rect x="445.24" y="433.18" width="0.8" height="0.8" fill="#3090dd"/>
<rect x="443.91" y="426.42" width="0.8" height="0.8" fill="#5aaee8"/>
<rect x="446.89" y="428.72" width="0.8" height="0.8" fill="#8ccaf2"/>
<rect x="447.89" y="437.87" width="0.8" height="0.8" fill="#b8ddf6"/>
<rect x="447.71" y="447.7" width="0.8" height="0.8" fill="#3090dd"/>
<rect x="443.36" y="432.2" width="0.8" height="0.8" fill="#b8ddf6"/>
<rect x="446.78" y="440.89" width="0.8" height="0.8" fill="#8ccaf2"/>
<rect x="446.08" y="437.73" width="0.8" height="0.8" fill="#5aaee8"/>
<rect x="444.16" y="427.41" width="0.8" height="0.8" fill="#5aaee8"/>
<rect x="447.65" y="447.71" width="0.8" height="0.8" fill="#3090dd"/>
<rect x="446.35" y="430.85" width="0.8" height="0.8" fill="#5aaee8"/>
<rect x="446.15" y="438.36" width="0.8" height="0.8" fill="#3090dd"/>
<rect x="443.27" y="439.65" width="0.8" height="0.8" fill="#5aaee8"/>
<rect x="444.19" y="442.73" width="0.8" height="0.8" fill="#5aaee8"/>
<rect x="448.67" y="436.43" width="0.8" height="0.8" fill="#3090dd"/>
<rect x="443.12" y="430.65" width="0.8" height="0.8" fill="#5aaee8"/>
<rect x="448.43" y="437.43" width="0.8" height="0.8" fill="#b8ddf6"/>
<rect x="445.03" y="426.35" width="0.8" height="0.8" fill="#5aaee8"/>
<rect x="444.64" y="441.94" width="0.8" height="0.8" fill="#8ccaf2"/>
<rect x="445.94" y="438.19" width="0.8" height="0.8" fill="#5aaee8"/>
<rect x="448.5" y="428.95" width="0.8" height="0.8" fill="#5aaee8"/>
<rect x="445.52" y="439.96" width="0.8" height="0.8" fill="#5aaee8"/>
<rect x="446.04" y="439.3" width="0.8" height="0.8" fill="#8ccaf2"/>
<rect x="444.58" y="445.41" width="0.8" height="0.8" fill="#8ccaf2"/>
<rect x="447.8" y="439.47" width="0.8" height="0.8" fill="#b8ddf6"/>
<rect x="444.08" y="443.79" width="0.8" height="0.8" fill="#8ccaf2"/>
<rect x="442.97" y="439.37" width="0.8" height="0.8" fill="#b8ddf6"/>
<rect x="446.5" y="426.48" width="0.8" height="0.8" fill="#8ccaf2"/>
<rect x="447.51" y="430.96" width="0.8" height="0.8" fill="#8ccaf2"/>
<rect x="445.55" y="430.93" width="0.8" height="0.8" fill="#5aaee8"/>
<rect x="448.05" y="447.97" width="0.8" height="0.8" fill="#3090dd"/>
<rect x="447.6" y="440.35" width="0.8" height="0.8" fill="#8ccaf2"/>
<rect x="447.27" y="447.55" width="0.8" height="0.8" fill="#b8ddf6"/>
<rect x="444.43" y="442.12" width="0.8" height="0.8" fill="#3090dd"/>
<rect x="445.25" y="448.24" width="0.8" height="0.8" fill="#b8ddf6"/>
<rect x="440.28" y="453.78" width="0.9" height="0.9" fill="#4aa4e8"/>
<rect x="444.27" y="444.8" width="0.9" height="0.9" fill="#2894e4"/>
<rect x="442.62" y="444.5" width="0.9" height="0.9" fill="#7cc0f0"/>
<rect x="445.27" y="429.56" width="0.9" height="0.9" fill="#7cc0f0"/>
<rect x="440.44" y="452.04" width="0.9" height="0.9" fill="#4aa4e8"/>
<rect x="445.85" y="433.5" width="0.9" height="0.9" fill="#7cc0f0"/>
<rect x="442.67" y="443.45" width="0.9" height="0.9" fill="#1a80d8"/>
<rect x="448.01" y="430.61" width="0.9" height="0.9" fill="#2894e4"/>
<rect x="443.58" y="441.15" width="0.9" height="0.9" fill="#1a80d8"/>
<rect x="443.94" y="434.13" width="0.9" height="0.9" fill="#1a80d8"/>
<rect x="442.01" y="450.52" width="0.9" height="0.9" fill="#4aa4e8"/>
<rect x="446.53" y="425.86" width="0.9" height="0.9" fill="#7cc0f0"/>
<rect x="440.53" y="454.41" width="0.9" height="0.9" fill="#1a80d8"/>
<rect x="447.2" y="430.8" width="0.9" height="0.9" fill="#7cc0f0"/>
<rect x="444.35" y="437.64" width="0.9" height="0.9" fill="#1a80d8"/>
<rect x="441.65" y="446.06" width="0.9" height="0.9" fill="#1a80d8"/>
<rect x="443.91" y="439.24" width="0.9" height="0.9" fill="#2894e4"/>
<rect x="441.48" y="444.47" width="0.9" height="0.9" fill="#2894e4"/>
<rect x="443.2" y="441.32" width="0.9" height="0.9" fill="#1a80d8"/>
<rect x="441.26" y="454.21" width="0.9" height="0.9" fill="#4aa4e8"/>
<rect x="441.73" y="454.12" width="0.9" height="0.9" fill="#4aa4e8"/>
<rect x="442.91" y="451.12" width="0.9" height="0.9" fill="#1a80d8"/>
<rect x="445.25" y="431.79" width="0.9" height="0.9" fill="#1a80d8"/>
<rect x="444.95" y="441.14" width="0.9" height="0.9" fill="#4aa4e8"/>
<rect x="441.7" y="447.87" width="0.9" height="0.9" fill="#7cc0f0"/>
<rect x="444.8" y="443.12" width="0.9" height="0.9" fill="#2894e4"/>
<rect x="443.61" y="445.4" width="0.9" height="0.9" fill="#4aa4e8"/>
<rect x="440.46" y="456.83" width="0.9" height="0.9" fill="#2894e4"/>
<rect x="442.51" y="443.9" width="0.9" height="0.9" fill="#4aa4e8"/>
<rect x="444.99" y="433.37" width="0.9" height="0.9" fill="#7cc0f0"/>
<rect x="447.28" y="427.59" width="0.9" height="0.9" fill="#1a80d8"/>
<rect x="441.72" y="449.6" width="0.9" height="0.9" fill="#4aa4e8"/>
<rect x="444.54" y="431.97" width="0.9" height="0.9" fill="#7cc0f0"/>
<rect x="441.28" y="454.18" width="0.9" height="0.9" fill="#1a80d8"/>
<rect x="442.4" y="443.8" width="0.9" height="0.9" fill="#7cc0f0"/>
<rect x="444.33" y="431.96" width="0.9" height="0.9" fill="#2894e4"/>
<rect x="442.5" y="451.78" width="0.9" height="0.9" fill="#1a80d8"/>
<rect x="445.43" y="433.48" width="0.9" height="0.9" fill="#7cc0f0"/>
<rect x="443.78" y="439.55" width="0.9" height="0.9" fill="#1a80d8"/>
<rect x="443.4" y="444.76" width="0.9" height="0.9" fill="#7cc0f0"/>
<rect x="446.77" y="426.58" width="0.9" height="0.9" fill="#7cc0f0"/>
<rect x="441.83" y="453.08" width="0.9" height="0.9" fill="#7cc0f0"/>
<rect x="442.27" y="453.03" width="0.9" height="0.9" fill="#4aa4e8"/>
<rect x="442.38" y="439.99" width="0.9" height="0.9" fill="#1a80d8"/>
<rect x="442.54" y="450.81" width="0.9" height="0.9" fill="#4aa4e8"/>
<rect x="444.53" y="440.98" width="0.9" height="0.9" fill="#2894e4"/>
<rect x="446.62" y="427.42" width="0.9" height="0.9" fill="#4aa4e8"/>
<rect x="445.17" y="434.61" width="0.9" height="0.9" fill="#4aa4e8"/>
<rect x="446.55" y="429.92" width="0.9" height="0.9" fill="#4aa4e8"/>
<rect x="443.18" y="438.02" width="0.9" height="0.9" fill="#2894e4"/>
<rect x="444.32" y="432.93" width="0.9" height="0.9" fill="#7cc0f0"/>
<rect x="447.52" y="426" width="0.9" height="0.9" fill="#2894e4"/>
<rect x="441.37" y="455.36" width="0.9" height="0.9" fill="#7cc0f0"/>
<rect x="442.89" y="443.41" width="0.9" height="0.9" fill="#1a80d8"/>
<rect x="440.31" y="457.04" width="0.9" height="0.9" fill="#1a80d8"/>
<rect x="445.83" y="428.73" width="0.9" height="0.9" fill="#2894e4"/>
<rect x="443.69" y="435.68" width="0.9" height="0.9" fill="#7cc0f0"/>
<rect x="446.25" y="426.35" width="0.9" height="0.9" fill="#7cc0f0"/>
<rect x="441.5" y="451.31" width="0.9" height="0.9" fill="#2894e4"/>
<rect x="446.08" y="433.69" width="0.9" height="0.9" fill="#4aa4e8"/>
<rect x="442.38" y="456.52" width="0.9" height="0.9" fill="#1a80d8"/>
<rect x="443.77" y="439.86" width="0.9" height="0.9" fill="#4aa4e8"/>
<rect x="445.27" y="430.47" width="0.9" height="0.9" fill="#2894e4"/>
<rect x="444.08" y="441.1" width="0.9" height="0.9" fill="#7cc0f0"/>
<rect x="443.19" y="457.3" width="0.9" height="0.9" fill="#4aa4e8"/>
<rect x="444.92" y="432.01" width="0.9" height="0.9" fill="#2894e4"/>
<rect x="446.76" y="428.21" width="0.9" height="0.9" fill="#4aa4e8"/>
<rect x="444.38" y="435.8" width="0.9" height="0.9" fill="#2894e4"/>
<rect x="445.78" y="432.33" width="0.9" height="0.9" fill="#2894e4"/>
<rect x="444.86" y="433.72" width="0.9" height="0.9" fill="#2894e4"/>
<rect x="446.78" y="428.7" width="0.9" height="0.9" fill="#1a80d8"/>
<rect x="447.68" y="428.1" width="0.9" height="0.9" fill="#7cc0f0"/>
<rect x="446.35" y="430.34" width="0.9" height="0.9" fill="#2894e4"/>
<rect x="444.03" y="439.44" width="0.9" height="0.9" fill="#7cc0f0"/>
<rect x="442.02" y="441.86" width="0.9" height="0.9" fill="#1a80d8"/>
<rect x="444.06" y="437.16" width="0.9" height="0.9" fill="#7cc0f0"/>
<rect x="443.37" y="435.96" width="0.9" height="0.9" fill="#4aa4e8"/>
<rect x="445.92" y="429.31" width="0.9" height="0.9" fill="#4aa4e8"/>
<rect x="442.56" y="440.03" width="0.9" height="0.9" fill="#2894e4"/>
<rect x="445.91" y="429.2" width="0.9" height="0.9" fill="#7cc0f0"/>
<polygon points="440,457.5 440.21,454.52 440.49,451.58 440.83,448.69 441.24,445.84 441.71,443.04 442.24,440.28 442.84,437.57 443.5,434.9 444.23,432.28 445.02,429.71 445.88,427.18 446.8,424.7 447.3,424.7 446.49,427.18 445.81,429.71 445.21,432.28 444.7,434.9 444.27,437.57 443.93,440.28 443.65,443.04 443.46,445.84 443.34,448.69 443.29,451.58 443.32,454.52 443.42,457.5" fill="#2894e4" opacity="0.9"/>
<path d="M440.5 457.7 C441.5 451 445 450 448 451 C454 449.5 457 450 457 453 C457 456 452 456.5 449 456.5 C445 457 443 458 440.5 457.7 Z" fill="#86c8f2" stroke="#1a80d8" stroke-width="1.1"/>
<ellipse cx="449.5" cy="453" rx="3.6" ry="1.3" fill="#2a92e8"/>
<path d="M439.2 458.1 L443.5 453.5" stroke="#8fd0f6" stroke-width="1"/>
</g>
<line x1="433.8" y1="410.7" x2="483.2" y2="410.7" stroke="#3a3a3a" stroke-width="1"/>
<line x1="482.6" y1="410.3" x2="482.6" y2="459.3" stroke="#5a5a5a" stroke-width="1.15"/>
<line x1="434.5" y1="410.3" x2="434.5" y2="459.9" stroke="#151515" stroke-width="1.45"/>
<line x1="433.8" y1="459.2" x2="483.2" y2="459.2" stroke="#1a1a1a" stroke-width="1.35"/>
<line x1="435" y1="453.1" x2="436" y2="453.1" stroke="#333" stroke-width="0.6"/>
<line x1="435" y1="446.9" x2="436" y2="446.9" stroke="#333" stroke-width="0.6"/>
<line x1="435" y1="440.7" x2="436" y2="440.7" stroke="#333" stroke-width="0.6"/>
<line x1="435" y1="434.5" x2="436" y2="434.5" stroke="#333" stroke-width="0.6"/>
<line x1="435" y1="428.3" x2="436" y2="428.3" stroke="#333" stroke-width="0.6"/>
<line x1="435" y1="422.1" x2="436" y2="422.1" stroke="#333" stroke-width="0.6"/>
<line x1="435" y1="415.9" x2="436" y2="415.9" stroke="#333" stroke-width="0.6"/>
<clipPath id="c20"><rect x="21.2" y="465" width="46.9" height="47.6"/></clipPath>
<g clip-path="url(#c20)">
<rect x="31.49" y="495.26" width="1.0" height="1.0" fill="#c04848"/>
<rect x="25.15" y="496.04" width="1.0" height="1.0" fill="#b02525"/>
<rect x="26.06" y="498.09" width="0.9" height="0.9" fill="#b02525"/>
<rect x="26.89" y="499.96" width="1.2" height="1.2" fill="#e8c0c0"/>
<rect x="25.75" y="498.76" width="1.0" height="1.0" fill="#e0b0b0"/>
<rect x="28.34" y="497.98" width="1.0" height="1.0" fill="#d8a8a8"/>
<path d="M30.1 512.8 L30.1 503.7 Q30.1 499.5 34.3 499.5 L36.7 499.5 Q40.9 499.5 40.9 503.7 L40.9 512.8 Z" fill="#c81414" stroke="#8e0909" stroke-width="1.1"/>
<path d="M24.2 512.8 L24.2 502.05 Q24.2 498.5 27.75 498.5 L27.75 498.5 Q31.3 498.5 31.3 502.05 L31.3 512.8 Z" fill="#c81414" stroke="#8e0909" stroke-width="1.1"/>
<circle cx="31.02" cy="501.67" r="0.67" fill="#8e0909"/>
<circle cx="26.02" cy="499.9" r="0.65" fill="#c81414"/>
<circle cx="29.41" cy="499.81" r="0.71" fill="#8e0909"/>
<circle cx="28.81" cy="499.73" r="0.69" fill="#a80c0c"/>
<circle cx="28.32" cy="499.46" r="0.51" fill="#c81414"/>
<circle cx="29" cy="499.4" r="1.06" fill="#a80c0c"/>
<circle cx="31.7" cy="501.31" r="0.62" fill="#a80c0c"/>
<circle cx="37.91" cy="500.4" r="0.63" fill="#a80c0c"/>
<circle cx="38.4" cy="501.05" r="1.05" fill="#a80c0c"/>
<circle cx="31.4" cy="501.79" r="0.68" fill="#8e0909"/>
<circle cx="32.86" cy="500.95" r="0.85" fill="#8e0909"/>
<circle cx="26.35" cy="499.19" r="1.21" fill="#a80c0c"/>
<circle cx="37.35" cy="500.27" r="1.04" fill="#c81414"/>
<circle cx="33.04" cy="500.14" r="1.11" fill="#a80c0c"/>
<circle cx="27.14" cy="499.4" r="1.25" fill="#8e0909"/>
<circle cx="25.68" cy="499.64" r="1.1" fill="#c81414"/>
<circle cx="34.85" cy="500.52" r="1.26" fill="#a80c0c"/>
<circle cx="25.21" cy="500.14" r="0.52" fill="#a80c0c"/>
<circle cx="35.78" cy="500.64" r="0.63" fill="#a80c0c"/>
<circle cx="32.99" cy="500.36" r="0.61" fill="#8e0909"/>
<circle cx="31.25" cy="501.3" r="0.59" fill="#8e0909"/>
<circle cx="27.68" cy="499.14" r="0.68" fill="#a80c0c"/>
<circle cx="30.78" cy="500.66" r="0.61" fill="#c81414"/>
<circle cx="24.55" cy="501.42" r="0.65" fill="#c81414"/>
<circle cx="40.96" cy="512.15" r="1.08" fill="#8e0909"/>
<circle cx="41.27" cy="503.84" r="0.6" fill="#8e0909"/>
<circle cx="40.9" cy="509.7" r="0.54" fill="#8e0909"/>
<circle cx="41.34" cy="505.88" r="0.7" fill="#8e0909"/>
<circle cx="41.44" cy="512.57" r="1.07" fill="#8e0909"/>
<circle cx="41.18" cy="502.25" r="1.17" fill="#8e0909"/>
<circle cx="41.34" cy="501.61" r="0.55" fill="#8e0909"/>
<circle cx="41.27" cy="509.99" r="0.74" fill="#8e0909"/>
<circle cx="41.07" cy="501.68" r="0.93" fill="#8e0909"/>
<circle cx="40.9" cy="512.42" r="1.19" fill="#8e0909"/>
<rect x="27.73" y="502.25" width="0.9" height="0.9" fill="#8a0808"/>
<rect x="35.7" y="501.46" width="0.9" height="0.9" fill="#e03030"/>
<rect x="37.39" y="505.95" width="0.9" height="0.9" fill="#a80c0c"/>
<rect x="38.91" y="505.12" width="0.9" height="0.9" fill="#8a0808"/>
<rect x="30.78" y="499.55" width="0.9" height="0.9" fill="#8a0808"/>
<rect x="25.73" y="511.09" width="0.9" height="0.9" fill="#e03030"/>
<rect x="28.04" y="502.17" width="0.9" height="0.9" fill="#8a0808"/>
<rect x="40.74" y="504.64" width="0.9" height="0.9" fill="#a80c0c"/>
<rect x="34.61" y="504.78" width="0.9" height="0.9" fill="#9a0a0a"/>
<rect x="36.7" y="505.02" width="0.9" height="0.9" fill="#9a0a0a"/>
<rect x="32.17" y="507.16" width="0.9" height="0.9" fill="#e03030"/>
<rect x="37.15" y="500.58" width="0.9" height="0.9" fill="#e03030"/>
<rect x="30.04" y="501.45" width="0.9" height="0.9" fill="#a80c0c"/>
<rect x="31.42" y="506.02" width="0.9" height="0.9" fill="#8a0808"/>
<rect x="40.55" y="508.99" width="0.9" height="0.9" fill="#e03030"/>
<rect x="32.65" y="508.48" width="0.9" height="0.9" fill="#e03030"/>
<rect x="34.56" y="509.99" width="0.9" height="0.9" fill="#8a0808"/>
<rect x="28.69" y="509.33" width="0.9" height="0.9" fill="#8a0808"/>
<rect x="35.21" y="510.98" width="0.9" height="0.9" fill="#8a0808"/>
<rect x="26.36" y="510.84" width="0.9" height="0.9" fill="#e03030"/>
<rect x="40.74" y="508.23" width="0.9" height="0.9" fill="#a80c0c"/>
<rect x="34.87" y="509.15" width="0.9" height="0.9" fill="#9a0a0a"/>
<rect x="36.67" y="508.44" width="0.9" height="0.9" fill="#a80c0c"/>
<rect x="30.39" y="502.35" width="0.9" height="0.9" fill="#e03030"/>
<rect x="37.77" y="508.25" width="0.9" height="0.9" fill="#a80c0c"/>
<rect x="26.35" y="511.2" width="0.9" height="0.9" fill="#9a0a0a"/>
<rect x="38.92" y="502.6" width="0.9" height="0.9" fill="#e03030"/>
<rect x="28.3" y="509.86" width="0.9" height="0.9" fill="#e03030"/>
<rect x="25.62" y="503.01" width="0.9" height="0.9" fill="#9a0a0a"/>
<rect x="26.41" y="512.79" width="0.9" height="0.9" fill="#8a0808"/>
<rect x="24.86" y="500.09" width="0.9" height="0.9" fill="#8a0808"/>
<rect x="30.74" y="511.08" width="0.9" height="0.9" fill="#9a0a0a"/>
<rect x="35.12" y="502.16" width="0.9" height="0.9" fill="#e03030"/>
<rect x="32.59" y="505.65" width="0.9" height="0.9" fill="#a80c0c"/>
<rect x="31.81" y="508.93" width="0.9" height="0.9" fill="#8a0808"/>
<rect x="38.12" y="502.69" width="0.9" height="0.9" fill="#a80c0c"/>
<rect x="29.04" y="502.03" width="0.9" height="0.9" fill="#8a0808"/>
<rect x="32.01" y="510.97" width="0.9" height="0.9" fill="#e03030"/>
<rect x="34.83" y="501.91" width="0.9" height="0.9" fill="#a80c0c"/>
<rect x="36.24" y="510.68" width="0.9" height="0.9" fill="#a80c0c"/>
<rect x="36.35" y="511.19" width="0.9" height="0.9" fill="#a80c0c"/>
<rect x="32.66" y="512.73" width="0.9" height="0.9" fill="#8a0808"/>
<rect x="25.78" y="506.4" width="0.9" height="0.9" fill="#a80c0c"/>
<rect x="33.56" y="505.08" width="0.9" height="0.9" fill="#e03030"/>
<rect x="26.72" y="503.96" width="0.9" height="0.9" fill="#8a0808"/>
<rect x="26.66" y="506.31" width="0.9" height="0.9" fill="#a80c0c"/>
<rect x="32.72" y="502.7" width="0.9" height="0.9" fill="#9a0a0a"/>
<rect x="26.14" y="503.22" width="0.9" height="0.9" fill="#8a0808"/>
<rect x="33.59" y="501.6" width="0.9" height="0.9" fill="#a80c0c"/>
<rect x="34.27" y="511.48" width="0.9" height="0.9" fill="#8a0808"/>
<rect x="31.62" y="512" width="0.9" height="0.9" fill="#9a0a0a"/>
<rect x="36.17" y="502.66" width="0.9" height="0.9" fill="#a80c0c"/>
<rect x="37.99" y="501.68" width="0.9" height="0.9" fill="#e03030"/>
<rect x="26.84" y="512.31" width="0.9" height="0.9" fill="#a80c0c"/>
<rect x="26.16" y="506.82" width="0.9" height="0.9" fill="#8a0808"/>
<rect x="31.41" y="510.14" width="0.9" height="0.9" fill="#a80c0c"/>
<rect x="32.72" y="506.05" width="0.9" height="0.9" fill="#9a0a0a"/>
<rect x="28.97" y="511.45" width="0.9" height="0.9" fill="#e03030"/>
<rect x="28.59" y="503.59" width="0.9" height="0.9" fill="#8a0808"/>
<rect x="34.78" y="511.58" width="0.9" height="0.9" fill="#9a0a0a"/>
<rect x="35.49" y="504.97" width="0.9" height="0.9" fill="#9a0a0a"/>
<rect x="33.85" y="509.99" width="0.9" height="0.9" fill="#a80c0c"/>
<rect x="26.83" y="508" width="0.9" height="0.9" fill="#8a0808"/>
<rect x="31.23" y="501.02" width="0.9" height="0.9" fill="#a80c0c"/>
<rect x="30.7" y="511.95" width="0.9" height="0.9" fill="#8a0808"/>
<rect x="25.76" y="509.65" width="0.9" height="0.9" fill="#8a0808"/>
<rect x="39.16" y="511.06" width="0.9" height="0.9" fill="#e03030"/>
<rect x="29.69" y="505.42" width="0.9" height="0.9" fill="#a80c0c"/>
<rect x="34.58" y="501.96" width="0.9" height="0.9" fill="#9a0a0a"/>
<rect x="38.54" y="502.8" width="0.9" height="0.9" fill="#a80c0c"/>
<ellipse cx="27.21" cy="507.15" rx="1.4" ry="4.15" fill="#d88a86" opacity="0.9"/>
<ellipse cx="36.4" cy="507.15" rx="2.4" ry="4.15" fill="#b30c0c"/>
</g>
<line x1="19.7" y1="464.6" x2="69.1" y2="464.6" stroke="#3a3a3a" stroke-width="1"/>
<line x1="68.5" y1="464.2" x2="68.5" y2="513.2" stroke="#5a5a5a" stroke-width="1.15"/>
<line x1="20.4" y1="464.2" x2="20.4" y2="513.8" stroke="#151515" stroke-width="1.45"/>
<line x1="19.7" y1="513.1" x2="69.1" y2="513.1" stroke="#1a1a1a" stroke-width="1.35"/>
<line x1="20.9" y1="507" x2="21.9" y2="507" stroke="#333" stroke-width="0.6"/>
<line x1="20.9" y1="500.8" x2="21.9" y2="500.8" stroke="#333" stroke-width="0.6"/>
<line x1="20.9" y1="494.6" x2="21.9" y2="494.6" stroke="#333" stroke-width="0.6"/>
<line x1="20.9" y1="488.4" x2="21.9" y2="488.4" stroke="#333" stroke-width="0.6"/>
<line x1="20.9" y1="482.2" x2="21.9" y2="482.2" stroke="#333" stroke-width="0.6"/>
<line x1="20.9" y1="476" x2="21.9" y2="476" stroke="#333" stroke-width="0.6"/>
<line x1="20.9" y1="469.8" x2="21.9" y2="469.8" stroke="#333" stroke-width="0.6"/>
<clipPath id="c21"><rect x="76.3" y="465" width="46.9" height="47.6"/></clipPath>
<g clip-path="url(#c21)">
<rect x="83.12" y="483.01" width="0.9" height="0.9" fill="#e8c0c0"/>
<rect x="83.55" y="471.16" width="1.2" height="1.2" fill="#e8c0c0"/>
<rect x="82.9" y="478.05" width="1.0" height="1.0" fill="#a01818"/>
<rect x="83.4" y="473.15" width="0.9" height="0.9" fill="#cc8080"/>
<rect x="83.32" y="473.54" width="1.0" height="1.0" fill="#a01818"/>
<rect x="83.55" y="470.89" width="1.2" height="1.2" fill="#cc8080"/>
<rect x="80.63" y="485.94" width="1.2" height="1.2" fill="#b02525"/>
<rect x="83.22" y="472.48" width="0.9" height="0.9" fill="#e0b0b0"/>
<rect x="83.33" y="496.91" width="1.0" height="1.0" fill="#a01818"/>
<rect x="83.72" y="496.12" width="1.0" height="1.0" fill="#e0b0b0"/>
<rect x="81.99" y="498.54" width="0.9" height="0.9" fill="#c86868"/>
<rect x="82.55" y="478.32" width="1.2" height="1.2" fill="#c86868"/>
<rect x="84.16" y="479.16" width="0.9" height="0.9" fill="#b02525"/>
<rect x="82.17" y="485.34" width="1.0" height="1.0" fill="#d8a8a8"/>
<rect x="83.05" y="474.71" width="1.0" height="1.0" fill="#cc8080"/>
<rect x="84.23" y="490.99" width="1.2" height="1.2" fill="#e8c0c0"/>
<rect x="80.54" y="490.4" width="0.9" height="0.9" fill="#a01818"/>
<rect x="84.21" y="496.17" width="0.9" height="0.9" fill="#e8c0c0"/>
<rect x="81.49" y="479.38" width="1.2" height="1.2" fill="#c86868"/>
<rect x="82.55" y="483.83" width="1.2" height="1.2" fill="#d8a8a8"/>
<rect x="83.4" y="483.28" width="1.0" height="1.0" fill="#e0b0b0"/>
<rect x="83.27" y="478.93" width="0.9" height="0.9" fill="#d89a9a"/>
<rect x="82.73" y="477.21" width="1.0" height="1.0" fill="#cc8080"/>
<rect x="82.68" y="496.15" width="1.2" height="1.2" fill="#a01818"/>
<rect x="81.34" y="494.22" width="1.2" height="1.2" fill="#c04848"/>
<rect x="82.36" y="484.4" width="1.0" height="1.0" fill="#e0b0b0"/>
<rect x="81.31" y="473.03" width="0.9" height="0.9" fill="#c86868"/>
<rect x="82.45" y="485.28" width="1.0" height="1.0" fill="#e8c0c0"/>
<rect x="82.64" y="476.42" width="1.0" height="1.0" fill="#a01818"/>
<rect x="81.59" y="482.27" width="1.0" height="1.0" fill="#a01818"/>
<rect x="82.51" y="475.29" width="0.9" height="0.9" fill="#c04848"/>
<rect x="83.3" y="479.45" width="0.9" height="0.9" fill="#e8c0c0"/>
<rect x="82.47" y="486.38" width="0.9" height="0.9" fill="#e8c0c0"/>
<rect x="84.52" y="472.45" width="0.9" height="0.9" fill="#e0b0b0"/>
<rect x="83.3" y="489.29" width="1.0" height="1.0" fill="#e8c0c0"/>
<rect x="81.76" y="496.61" width="0.9" height="0.9" fill="#d89a9a"/>
<rect x="82.51" y="481.42" width="1.0" height="1.0" fill="#a01818"/>
<rect x="82.39" y="484.3" width="1.2" height="1.2" fill="#c86868"/>
<rect x="81.43" y="479.26" width="0.9" height="0.9" fill="#c04848"/>
<rect x="83.08" y="496.54" width="0.9" height="0.9" fill="#cc8080"/>
<rect x="82.94" y="478.12" width="0.9" height="0.9" fill="#b02525"/>
<rect x="83.56" y="482.37" width="1.0" height="1.0" fill="#c04848"/>
<rect x="81.81" y="487.32" width="1.2" height="1.2" fill="#c86868"/>
<rect x="82.33" y="496.01" width="1.0" height="1.0" fill="#c04848"/>
<rect x="82.9" y="479.09" width="1.2" height="1.2" fill="#d8a8a8"/>
<rect x="83.76" y="478.52" width="1.0" height="1.0" fill="#a01818"/>
<rect x="82.22" y="478.86" width="1.2" height="1.2" fill="#c04848"/>
<rect x="82.57" y="494.43" width="1.2" height="1.2" fill="#e0b0b0"/>
<rect x="83.27" y="492.49" width="1.2" height="1.2" fill="#d89a9a"/>
<rect x="82.71" y="477.56" width="1.2" height="1.2" fill="#e8c0c0"/>
<rect x="83.38" y="486.9" width="1.2" height="1.2" fill="#e0b0b0"/>
<rect x="83.13" y="492.47" width="1.2" height="1.2" fill="#d8a8a8"/>
<rect x="82.91" y="492.06" width="1.0" height="1.0" fill="#c86868"/>
<rect x="83.53" y="498.07" width="0.9" height="0.9" fill="#cc8080"/>
<rect x="83.28" y="483.28" width="1.2" height="1.2" fill="#e8c0c0"/>
<rect x="81.64" y="483.44" width="1.2" height="1.2" fill="#a01818"/>
<rect x="81.97" y="486.62" width="1.0" height="1.0" fill="#cc8080"/>
<rect x="81.82" y="497.98" width="0.9" height="0.9" fill="#a01818"/>
<rect x="82.38" y="493.37" width="1.2" height="1.2" fill="#cc8080"/>
<rect x="82.3" y="489.26" width="1.0" height="1.0" fill="#c86868"/>
<rect x="81.81" y="483.11" width="0.9" height="0.9" fill="#b02525"/>
<rect x="83.11" y="487.74" width="1.0" height="1.0" fill="#e8c0c0"/>
<rect x="82.16" y="478.34" width="0.9" height="0.9" fill="#d89a9a"/>
<rect x="80.85" y="487.7" width="1.0" height="1.0" fill="#e8c0c0"/>
<rect x="82.23" y="486.42" width="0.9" height="0.9" fill="#a01818"/>
<rect x="83.24" y="492.41" width="1.0" height="1.0" fill="#d89a9a"/>
<rect x="82.43" y="495.8" width="1.0" height="1.0" fill="#d8a8a8"/>
<rect x="82.16" y="483.49" width="1.2" height="1.2" fill="#cc8080"/>
<rect x="82.4" y="471.12" width="1.2" height="1.2" fill="#c04848"/>
<rect x="80.22" y="489.09" width="1.0" height="1.0" fill="#e0b0b0"/>
<rect x="81.74" y="493.74" width="1.0" height="1.0" fill="#a01818"/>
<rect x="81.56" y="486.71" width="1.2" height="1.2" fill="#c04848"/>
<rect x="81.91" y="481.32" width="0.9" height="0.9" fill="#cc8080"/>
<rect x="82.47" y="472.87" width="1.0" height="1.0" fill="#e8c0c0"/>
<rect x="81.48" y="493.24" width="1.2" height="1.2" fill="#c04848"/>
<rect x="82.93" y="490.46" width="0.9" height="0.9" fill="#d89a9a"/>
<rect x="83.27" y="498.58" width="0.9" height="0.9" fill="#e0b0b0"/>
<rect x="84.39" y="497.9" width="1.0" height="1.0" fill="#a01818"/>
<rect x="81.53" y="494.26" width="1.2" height="1.2" fill="#a01818"/>
<rect x="81.72" y="496.41" width="0.9" height="0.9" fill="#d89a9a"/>
<rect x="84.75" y="492.13" width="1.2" height="1.2" fill="#c04848"/>
<rect x="88.7" y="481.23" width="1.2" height="1.2" fill="#cc8080"/>
<rect x="88.5" y="491.02" width="0.9" height="0.9" fill="#d8a8a8"/>
<rect x="86.72" y="495.31" width="0.9" height="0.9" fill="#e8c0c0"/>
<rect x="87.48" y="490.57" width="0.9" height="0.9" fill="#c86868"/>
<rect x="87.31" y="498.3" width="1.2" height="1.2" fill="#d8a8a8"/>
<rect x="86.1" y="484.32" width="0.9" height="0.9" fill="#e0b0b0"/>
<rect x="87.41" y="494.37" width="1.0" height="1.0" fill="#e0b0b0"/>
<rect x="87.17" y="478.42" width="1.2" height="1.2" fill="#b02525"/>
<rect x="89.81" y="498.18" width="0.9" height="0.9" fill="#d8a8a8"/>
<rect x="87.37" y="494.37" width="0.9" height="0.9" fill="#a01818"/>
<rect x="86.92" y="498.61" width="1.0" height="1.0" fill="#e8c0c0"/>
<rect x="86.88" y="496.63" width="0.9" height="0.9" fill="#b02525"/>
<rect x="85.82" y="477.24" width="1.0" height="1.0" fill="#d8a8a8"/>
<rect x="85.87" y="483" width="1.0" height="1.0" fill="#d8a8a8"/>
<rect x="89.05" y="498.01" width="0.9" height="0.9" fill="#c86868"/>
<rect x="85.38" y="486.26" width="0.9" height="0.9" fill="#c04848"/>
<rect x="87.76" y="483.5" width="1.0" height="1.0" fill="#e8c0c0"/>
<rect x="89.34" y="480.8" width="1.2" height="1.2" fill="#d89a9a"/>
<rect x="90.29" y="498.36" width="1.2" height="1.2" fill="#d8a8a8"/>
<rect x="91.14" y="491.66" width="1.2" height="1.2" fill="#e8c0c0"/>
<rect x="85.64" y="481.17" width="1.0" height="1.0" fill="#a01818"/>
<rect x="88.35" y="498.76" width="1.2" height="1.2" fill="#cc8080"/>
<rect x="88.84" y="482.43" width="1.2" height="1.2" fill="#c04848"/>
<rect x="86.25" y="495.28" width="1.2" height="1.2" fill="#d8a8a8"/>
<rect x="87.8" y="494.02" width="1.2" height="1.2" fill="#e8c0c0"/>
<rect x="88.2" y="477.84" width="1.0" height="1.0" fill="#c86868"/>
<rect x="84.09" y="486.45" width="1.2" height="1.2" fill="#e0b0b0"/>
<rect x="86.38" y="487.14" width="1.0" height="1.0" fill="#a01818"/>
<rect x="85.14" y="476.54" width="1.2" height="1.2" fill="#a01818"/>
<rect x="91.68" y="495.27" width="1.2" height="1.2" fill="#d8a8a8"/>
<rect x="89.83" y="491.55" width="1.0" height="1.0" fill="#d8a8a8"/>
<rect x="92.44" y="490.17" width="1.0" height="1.0" fill="#e8c0c0"/>
<rect x="92.42" y="480.95" width="1.0" height="1.0" fill="#c86868"/>
<rect x="92.7" y="495.06" width="1.0" height="1.0" fill="#e8c0c0"/>
<rect x="93.86" y="498.53" width="0.9" height="0.9" fill="#e8c0c0"/>
<rect x="93.98" y="485.76" width="1.2" height="1.2" fill="#d89a9a"/>
<rect x="92.29" y="496.8" width="0.9" height="0.9" fill="#c86868"/>
<rect x="90.94" y="498.98" width="1.2" height="1.2" fill="#d89a9a"/>
<rect x="92.64" y="478.49" width="0.9" height="0.9" fill="#e8c0c0"/>
<rect x="89.39" y="486.69" width="1.2" height="1.2" fill="#e8c0c0"/>
<rect x="92.01" y="498.31" width="0.9" height="0.9" fill="#e0b0b0"/>
<rect x="90.46" y="491.06" width="1.2" height="1.2" fill="#e8c0c0"/>
<rect x="91.8" y="481.93" width="1.0" height="1.0" fill="#b02525"/>
<rect x="91.81" y="494.43" width="0.9" height="0.9" fill="#e8c0c0"/>
<rect x="90.64" y="475.5" width="1.2" height="1.2" fill="#c86868"/>
<rect x="93.25" y="497.95" width="0.9" height="0.9" fill="#d89a9a"/>
<rect x="89.74" y="484.41" width="1.0" height="1.0" fill="#c04848"/>
<rect x="93.12" y="484.06" width="0.9" height="0.9" fill="#d8a8a8"/>
<rect x="92.81" y="496.91" width="0.9" height="0.9" fill="#e8c0c0"/>
<rect x="94.33" y="475.71" width="1.0" height="1.0" fill="#d8a8a8"/>
<rect x="92.32" y="498.93" width="1.0" height="1.0" fill="#c04848"/>
<rect x="93.53" y="490.44" width="1.2" height="1.2" fill="#b02525"/>
<rect x="92.46" y="483.8" width="1.2" height="1.2" fill="#a01818"/>
<rect x="92.01" y="488.48" width="1.2" height="1.2" fill="#d8a8a8"/>
<rect x="93.66" y="491.46" width="1.2" height="1.2" fill="#a01818"/>
<rect x="92.43" y="490.75" width="1.2" height="1.2" fill="#e8c0c0"/>
<rect x="91.6" y="484" width="1.2" height="1.2" fill="#d8a8a8"/>
<rect x="92.15" y="498.81" width="0.9" height="0.9" fill="#e8c0c0"/>
<rect x="93.89" y="480.25" width="1.0" height="1.0" fill="#b02525"/>
<rect x="91.08" y="479.51" width="1.2" height="1.2" fill="#e0b0b0"/>
<rect x="91.84" y="492.59" width="0.9" height="0.9" fill="#c86868"/>
<rect x="91.02" y="498.91" width="0.9" height="0.9" fill="#c04848"/>
<rect x="92.02" y="495.09" width="0.9" height="0.9" fill="#b02525"/>
<rect x="91.22" y="490.66" width="0.9" height="0.9" fill="#b02525"/>
<path d="M85.2 512.8 L85.2 504.2 Q85.2 500 89.4 500 L92.2 500 Q96.4 500 96.4 504.2 L96.4 512.8 Z" fill="#c81414" stroke="#8e0909" stroke-width="1.1"/>
<path d="M78.5 512.8 L78.5 500.95 Q78.5 497 82.45 497 L82.45 497 Q86.4 497 86.4 500.95 L86.4 512.8 Z" fill="#c81414" stroke="#8e0909" stroke-width="1.1"/>
<circle cx="90.92" cy="500.41" r="0.67" fill="#8e0909"/>
<circle cx="82.6" cy="497.6" r="0.95" fill="#c81414"/>
<circle cx="88.78" cy="500.86" r="1.15" fill="#a80c0c"/>
<circle cx="92.86" cy="501.22" r="0.82" fill="#a80c0c"/>
<circle cx="84.99" cy="498.35" r="1.13" fill="#c81414"/>
<circle cx="79.6" cy="499.26" r="0.82" fill="#c81414"/>
<circle cx="81.95" cy="497.5" r="1.24" fill="#c81414"/>
<circle cx="92.23" cy="500.82" r="1.08" fill="#8e0909"/>
<circle cx="83.8" cy="498.03" r="0.8" fill="#c81414"/>
<circle cx="85.54" cy="498.93" r="1.14" fill="#c81414"/>
<circle cx="88.92" cy="501.08" r="0.89" fill="#8e0909"/>
<circle cx="91.83" cy="500.65" r="0.62" fill="#8e0909"/>
<circle cx="83.47" cy="498.26" r="1.04" fill="#8e0909"/>
<circle cx="85.27" cy="498.93" r="1.19" fill="#a80c0c"/>
<circle cx="80.64" cy="498.01" r="1.28" fill="#c81414"/>
<circle cx="91.35" cy="500.9" r="0.54" fill="#a80c0c"/>
<circle cx="84.51" cy="498.71" r="0.65" fill="#c81414"/>
<circle cx="87.5" cy="501.03" r="0.63" fill="#8e0909"/>
<circle cx="93.82" cy="501.26" r="0.77" fill="#8e0909"/>
<circle cx="93.51" cy="500.81" r="1.27" fill="#c81414"/>
<circle cx="87.94" cy="500.89" r="0.8" fill="#a80c0c"/>
<circle cx="94.35" cy="501.29" r="0.65" fill="#8e0909"/>
<circle cx="84.48" cy="498.64" r="1.21" fill="#8e0909"/>
<circle cx="83.78" cy="498.19" r="1.1" fill="#a80c0c"/>
<circle cx="96.93" cy="512.41" r="0.67" fill="#8e0909"/>
<circle cx="96.6" cy="512.76" r="0.77" fill="#8e0909"/>
<circle cx="96.5" cy="512.55" r="0.78" fill="#8e0909"/>
<circle cx="96.56" cy="508.76" r="0.69" fill="#8e0909"/>
<circle cx="96.77" cy="510.58" r="1.02" fill="#8e0909"/>
<circle cx="96.92" cy="510.53" r="1.13" fill="#8e0909"/>
<circle cx="96.99" cy="510.89" r="0.85" fill="#8e0909"/>
<circle cx="96.71" cy="509.58" r="1.18" fill="#8e0909"/>
<circle cx="96.66" cy="509.07" r="0.96" fill="#8e0909"/>
<circle cx="96.48" cy="505.18" r="0.77" fill="#8e0909"/>
<rect x="80.95" y="498.06" width="0.9" height="0.9" fill="#9a0a0a"/>
<rect x="81.47" y="499.64" width="0.9" height="0.9" fill="#8a0808"/>
<rect x="79.37" y="507.42" width="0.9" height="0.9" fill="#9a0a0a"/>
<rect x="81.66" y="506.63" width="0.9" height="0.9" fill="#8a0808"/>
<rect x="94.11" y="504.44" width="0.9" height="0.9" fill="#8a0808"/>
<rect x="95.52" y="507.54" width="0.9" height="0.9" fill="#e03030"/>
<rect x="84.75" y="508.39" width="0.9" height="0.9" fill="#e03030"/>
<rect x="86.79" y="511.71" width="0.9" height="0.9" fill="#e03030"/>
<rect x="93.65" y="502.59" width="0.9" height="0.9" fill="#e03030"/>
<rect x="90.16" y="508.44" width="0.9" height="0.9" fill="#a80c0c"/>
<rect x="89.82" y="510.66" width="0.9" height="0.9" fill="#e03030"/>
<rect x="92.72" y="502.91" width="0.9" height="0.9" fill="#e03030"/>
<rect x="79.27" y="509.68" width="0.9" height="0.9" fill="#a80c0c"/>
<rect x="87.53" y="501.5" width="0.9" height="0.9" fill="#9a0a0a"/>
<rect x="81.61" y="506.48" width="0.9" height="0.9" fill="#a80c0c"/>
<rect x="93.71" y="510.99" width="0.9" height="0.9" fill="#a80c0c"/>
<rect x="89.37" y="503.34" width="0.9" height="0.9" fill="#a80c0c"/>
<rect x="95.12" y="504.64" width="0.9" height="0.9" fill="#e03030"/>
<rect x="84.34" y="508.76" width="0.9" height="0.9" fill="#8a0808"/>
<rect x="92.67" y="511.09" width="0.9" height="0.9" fill="#9a0a0a"/>
<rect x="82.87" y="502.75" width="0.9" height="0.9" fill="#e03030"/>
<rect x="93.2" y="510.08" width="0.9" height="0.9" fill="#a80c0c"/>
<rect x="96.33" y="501.99" width="0.9" height="0.9" fill="#8a0808"/>
<rect x="86.75" y="509.18" width="0.9" height="0.9" fill="#a80c0c"/>
<rect x="81.84" y="507.11" width="0.9" height="0.9" fill="#9a0a0a"/>
<rect x="94.26" y="511.76" width="0.9" height="0.9" fill="#9a0a0a"/>
<rect x="94.64" y="507.55" width="0.9" height="0.9" fill="#a80c0c"/>
<rect x="93.13" y="511.73" width="0.9" height="0.9" fill="#9a0a0a"/>
<rect x="91.43" y="501.37" width="0.9" height="0.9" fill="#e03030"/>
<rect x="87.83" y="509.52" width="0.9" height="0.9" fill="#9a0a0a"/>
<rect x="89.78" y="501.74" width="0.9" height="0.9" fill="#8a0808"/>
<rect x="80.11" y="504.03" width="0.9" height="0.9" fill="#8a0808"/>
<rect x="92.6" y="506.76" width="0.9" height="0.9" fill="#e03030"/>
<rect x="81.84" y="502.41" width="0.9" height="0.9" fill="#a80c0c"/>
<rect x="83.9" y="511.72" width="0.9" height="0.9" fill="#a80c0c"/>
<rect x="81.36" y="504.08" width="0.9" height="0.9" fill="#e03030"/>
<rect x="88.49" y="510.08" width="0.9" height="0.9" fill="#8a0808"/>
<rect x="88.12" y="502.37" width="0.9" height="0.9" fill="#9a0a0a"/>
<rect x="94.81" y="508.57" width="0.9" height="0.9" fill="#a80c0c"/>
<rect x="86.74" y="506.58" width="0.9" height="0.9" fill="#a80c0c"/>
<rect x="90.28" y="506.58" width="0.9" height="0.9" fill="#a80c0c"/>
<rect x="90.78" y="504.72" width="0.9" height="0.9" fill="#8a0808"/>
<rect x="88.06" y="509.88" width="0.9" height="0.9" fill="#e03030"/>
<rect x="82.14" y="500.66" width="0.9" height="0.9" fill="#a80c0c"/>
<rect x="80.2" y="508.71" width="0.9" height="0.9" fill="#e03030"/>
<rect x="93.4" y="506.68" width="0.9" height="0.9" fill="#e03030"/>
<rect x="82.95" y="501.8" width="0.9" height="0.9" fill="#9a0a0a"/>
<rect x="93.67" y="507.65" width="0.9" height="0.9" fill="#9a0a0a"/>
<rect x="82.14" y="505.96" width="0.9" height="0.9" fill="#9a0a0a"/>
<rect x="87.64" y="507.54" width="0.9" height="0.9" fill="#a80c0c"/>
<rect x="89.96" y="509.24" width="0.9" height="0.9" fill="#8a0808"/>
<rect x="83.17" y="508.25" width="0.9" height="0.9" fill="#8a0808"/>
<rect x="81.94" y="508.53" width="0.9" height="0.9" fill="#8a0808"/>
<rect x="85.98" y="511.2" width="0.9" height="0.9" fill="#e03030"/>
<rect x="95.17" y="508.43" width="0.9" height="0.9" fill="#8a0808"/>
<rect x="87.3" y="507.92" width="0.9" height="0.9" fill="#a80c0c"/>
<rect x="79.57" y="503.36" width="0.9" height="0.9" fill="#e03030"/>
<rect x="95.7" y="507.25" width="0.9" height="0.9" fill="#9a0a0a"/>
<rect x="83.22" y="500.38" width="0.9" height="0.9" fill="#a80c0c"/>
<rect x="93.96" y="502.22" width="0.9" height="0.9" fill="#a80c0c"/>
<rect x="81.56" y="506.6" width="0.9" height="0.9" fill="#e03030"/>
<rect x="89.15" y="509.51" width="0.9" height="0.9" fill="#9a0a0a"/>
<rect x="79.1" y="498.76" width="0.9" height="0.9" fill="#8a0808"/>
<rect x="93.29" y="507.71" width="0.9" height="0.9" fill="#a80c0c"/>
<rect x="81.52" y="503.87" width="0.9" height="0.9" fill="#e03030"/>
<rect x="86.8" y="501.49" width="0.9" height="0.9" fill="#a80c0c"/>
<rect x="81.11" y="511.86" width="0.9" height="0.9" fill="#8a0808"/>
<rect x="90.02" y="506.28" width="0.9" height="0.9" fill="#8a0808"/>
<rect x="92.86" y="505.52" width="0.9" height="0.9" fill="#9a0a0a"/>
<rect x="90.53" y="503.41" width="0.9" height="0.9" fill="#a80c0c"/>
<ellipse cx="81.88" cy="506.4" rx="1.4" ry="4.9" fill="#d88a86" opacity="0.9"/>
<ellipse cx="91.7" cy="507.4" rx="2.4" ry="3.9" fill="#b30c0c"/>
</g>
<line x1="74.8" y1="464.6" x2="124.2" y2="464.6" stroke="#3a3a3a" stroke-width="1"/>
<line x1="123.6" y1="464.2" x2="123.6" y2="513.2" stroke="#5a5a5a" stroke-width="1.15"/>
<line x1="75.5" y1="464.2" x2="75.5" y2="513.8" stroke="#151515" stroke-width="1.45"/>
<line x1="74.8" y1="513.1" x2="124.2" y2="513.1" stroke="#1a1a1a" stroke-width="1.35"/>
<line x1="76" y1="507" x2="77" y2="507" stroke="#333" stroke-width="0.6"/>
<line x1="76" y1="500.8" x2="77" y2="500.8" stroke="#333" stroke-width="0.6"/>
<line x1="76" y1="494.6" x2="77" y2="494.6" stroke="#333" stroke-width="0.6"/>
<line x1="76" y1="488.4" x2="77" y2="488.4" stroke="#333" stroke-width="0.6"/>
<line x1="76" y1="482.2" x2="77" y2="482.2" stroke="#333" stroke-width="0.6"/>
<line x1="76" y1="476" x2="77" y2="476" stroke="#333" stroke-width="0.6"/>
<line x1="76" y1="469.8" x2="77" y2="469.8" stroke="#333" stroke-width="0.6"/>
<clipPath id="c22"><rect x="137.9" y="465" width="46.9" height="47.6"/></clipPath>
<g clip-path="url(#c22)">
<rect x="145.99" y="501.44" width="0.9" height="0.9" fill="#e8c0c0"/>
<rect x="143.97" y="497.45" width="0.9" height="0.9" fill="#e0b0b0"/>
<rect x="145.27" y="499.99" width="1.2" height="1.2" fill="#c04848"/>
<rect x="151.95" y="497.57" width="1.2" height="1.2" fill="#cc8080"/>
<path d="M147.8 512.8 L147.8 504.2 Q147.8 500 152 500 L154.7 500 Q158.9 500 158.9 504.2 L158.9 512.8 Z" fill="#c81414" stroke="#8e0909" stroke-width="1.1"/>
<path d="M141.2 512.8 L141.2 503.4 Q141.2 499.5 145.1 499.5 L145.1 499.5 Q149 499.5 149 503.4 L149 512.8 Z" fill="#c81414" stroke="#8e0909" stroke-width="1.1"/>
<circle cx="156.61" cy="500.88" r="0.96" fill="#c81414"/>
<circle cx="146.81" cy="500.98" r="0.65" fill="#a80c0c"/>
<circle cx="150.58" cy="501.43" r="1.08" fill="#a80c0c"/>
<circle cx="142.55" cy="501.12" r="0.76" fill="#8e0909"/>
<circle cx="157.86" cy="502.46" r="0.75" fill="#a80c0c"/>
<circle cx="150.31" cy="500.97" r="0.72" fill="#a80c0c"/>
<circle cx="144.66" cy="500.35" r="0.54" fill="#8e0909"/>
<circle cx="148.67" cy="502.27" r="0.7" fill="#c81414"/>
<circle cx="148.29" cy="501.71" r="1.24" fill="#a80c0c"/>
<circle cx="147.89" cy="501.31" r="0.97" fill="#a80c0c"/>
<circle cx="151.1" cy="501.1" r="0.92" fill="#a80c0c"/>
<circle cx="148.81" cy="502.23" r="0.57" fill="#8e0909"/>
<circle cx="148.88" cy="502.53" r="0.82" fill="#8e0909"/>
<circle cx="150.26" cy="500.86" r="0.82" fill="#8e0909"/>
<circle cx="144.43" cy="500.24" r="0.94" fill="#c81414"/>
<circle cx="157.06" cy="501.48" r="1" fill="#8e0909"/>
<circle cx="150.66" cy="501.14" r="1.14" fill="#8e0909"/>
<circle cx="152.71" cy="500.56" r="0.58" fill="#8e0909"/>
<circle cx="155.66" cy="500.88" r="1.24" fill="#8e0909"/>
<circle cx="150.02" cy="501.36" r="0.92" fill="#a80c0c"/>
<circle cx="154.22" cy="500.98" r="0.88" fill="#a80c0c"/>
<circle cx="153.71" cy="500.49" r="1.26" fill="#a80c0c"/>
<circle cx="145.93" cy="500.14" r="0.6" fill="#c81414"/>
<circle cx="152.35" cy="500.54" r="0.77" fill="#a80c0c"/>
<circle cx="159.32" cy="508.45" r="0.62" fill="#8e0909"/>
<circle cx="159.01" cy="502.83" r="0.98" fill="#8e0909"/>
<circle cx="159.22" cy="512.73" r="0.84" fill="#8e0909"/>
<circle cx="158.91" cy="502.73" r="1.03" fill="#8e0909"/>
<circle cx="159.27" cy="508.27" r="0.78" fill="#8e0909"/>
<circle cx="159.44" cy="503.27" r="0.87" fill="#8e0909"/>
<circle cx="159.04" cy="503.95" r="1.09" fill="#8e0909"/>
<circle cx="159.02" cy="508.75" r="1.03" fill="#8e0909"/>
<circle cx="158.93" cy="508.86" r="0.98" fill="#8e0909"/>
<circle cx="159.05" cy="506.53" r="1.12" fill="#8e0909"/>
<rect x="143.19" y="511.85" width="0.9" height="0.9" fill="#a80c0c"/>
<rect x="144.36" y="512.33" width="0.9" height="0.9" fill="#e03030"/>
<rect x="142.21" y="506.63" width="0.9" height="0.9" fill="#e03030"/>
<rect x="141.95" y="506.49" width="0.9" height="0.9" fill="#9a0a0a"/>
<rect x="146.1" y="509.95" width="0.9" height="0.9" fill="#a80c0c"/>
<rect x="152.39" y="512.63" width="0.9" height="0.9" fill="#a80c0c"/>
<rect x="149.04" y="506.07" width="0.9" height="0.9" fill="#e03030"/>
<rect x="147.26" y="511.13" width="0.9" height="0.9" fill="#9a0a0a"/>
<rect x="153.64" y="508.18" width="0.9" height="0.9" fill="#9a0a0a"/>
<rect x="144.31" y="510.37" width="0.9" height="0.9" fill="#e03030"/>
<rect x="146.14" y="510.89" width="0.9" height="0.9" fill="#e03030"/>
<rect x="144.53" y="503.92" width="0.9" height="0.9" fill="#a80c0c"/>
<rect x="147.36" y="510.27" width="0.9" height="0.9" fill="#8a0808"/>
<rect x="153.53" y="510.64" width="0.9" height="0.9" fill="#a80c0c"/>
<rect x="150.03" y="505.05" width="0.9" height="0.9" fill="#9a0a0a"/>
<rect x="148.05" y="508.57" width="0.9" height="0.9" fill="#a80c0c"/>
<rect x="153.71" y="502.01" width="0.9" height="0.9" fill="#8a0808"/>
<rect x="147.19" y="501.17" width="0.9" height="0.9" fill="#a80c0c"/>
<rect x="144.68" y="504.95" width="0.9" height="0.9" fill="#9a0a0a"/>
<rect x="150.53" y="510.06" width="0.9" height="0.9" fill="#9a0a0a"/>
<rect x="143.21" y="506.73" width="0.9" height="0.9" fill="#9a0a0a"/>
<rect x="155.48" y="510.74" width="0.9" height="0.9" fill="#9a0a0a"/>
<rect x="151.3" y="511.87" width="0.9" height="0.9" fill="#e03030"/>
<rect x="150.13" y="512.07" width="0.9" height="0.9" fill="#8a0808"/>
<rect x="151.38" y="507.2" width="0.9" height="0.9" fill="#e03030"/>
<rect x="146.9" y="508.82" width="0.9" height="0.9" fill="#9a0a0a"/>
<rect x="157.16" y="510.45" width="0.9" height="0.9" fill="#e03030"/>
<rect x="153.22" y="501.04" width="0.9" height="0.9" fill="#a80c0c"/>
<rect x="142.22" y="511.89" width="0.9" height="0.9" fill="#e03030"/>
<rect x="156.94" y="512.05" width="0.9" height="0.9" fill="#9a0a0a"/>
<rect x="143.03" y="505.98" width="0.9" height="0.9" fill="#e03030"/>
<rect x="157.46" y="502.89" width="0.9" height="0.9" fill="#e03030"/>
<rect x="148.54" y="504.85" width="0.9" height="0.9" fill="#8a0808"/>
<rect x="146.63" y="507.16" width="0.9" height="0.9" fill="#e03030"/>
<rect x="157.19" y="506.48" width="0.9" height="0.9" fill="#e03030"/>
<rect x="150.3" y="503.57" width="0.9" height="0.9" fill="#a80c0c"/>
<rect x="155.76" y="509.87" width="0.9" height="0.9" fill="#a80c0c"/>
<rect x="149.07" y="504.03" width="0.9" height="0.9" fill="#a80c0c"/>
<rect x="155.72" y="502.34" width="0.9" height="0.9" fill="#8a0808"/>
<rect x="146.98" y="502.55" width="0.9" height="0.9" fill="#8a0808"/>
<rect x="142.43" y="504.68" width="0.9" height="0.9" fill="#8a0808"/>
<rect x="143.54" y="508.7" width="0.9" height="0.9" fill="#8a0808"/>
<rect x="148.88" y="507.36" width="0.9" height="0.9" fill="#8a0808"/>
<rect x="153.35" y="510.53" width="0.9" height="0.9" fill="#8a0808"/>
<rect x="147.59" y="504.02" width="0.9" height="0.9" fill="#9a0a0a"/>
<rect x="157.77" y="502.36" width="0.9" height="0.9" fill="#8a0808"/>
<rect x="154.54" y="501.94" width="0.9" height="0.9" fill="#8a0808"/>
<rect x="155.21" y="504.16" width="0.9" height="0.9" fill="#a80c0c"/>
<rect x="141.56" y="511.82" width="0.9" height="0.9" fill="#e03030"/>
<rect x="150.72" y="507.92" width="0.9" height="0.9" fill="#a80c0c"/>
<rect x="157.71" y="504.98" width="0.9" height="0.9" fill="#8a0808"/>
<rect x="149.15" y="509.45" width="0.9" height="0.9" fill="#8a0808"/>
<rect x="153.02" y="506.32" width="0.9" height="0.9" fill="#8a0808"/>
<rect x="145.83" y="511.19" width="0.9" height="0.9" fill="#a80c0c"/>
<rect x="145.19" y="507.02" width="0.9" height="0.9" fill="#e03030"/>
<rect x="151.34" y="508.1" width="0.9" height="0.9" fill="#a80c0c"/>
<rect x="152.01" y="503.85" width="0.9" height="0.9" fill="#8a0808"/>
<rect x="155.32" y="505.4" width="0.9" height="0.9" fill="#9a0a0a"/>
<rect x="151.47" y="503.69" width="0.9" height="0.9" fill="#8a0808"/>
<rect x="147.82" y="512.37" width="0.9" height="0.9" fill="#a80c0c"/>
<rect x="142.01" y="507.94" width="0.9" height="0.9" fill="#e03030"/>
<rect x="152.73" y="502.28" width="0.9" height="0.9" fill="#a80c0c"/>
<rect x="148.21" y="501.76" width="0.9" height="0.9" fill="#e03030"/>
<rect x="141.42" y="502.54" width="0.9" height="0.9" fill="#e03030"/>
<rect x="143.99" y="512.07" width="0.9" height="0.9" fill="#a80c0c"/>
<rect x="153.7" y="504.08" width="0.9" height="0.9" fill="#9a0a0a"/>
<rect x="149.63" y="503.07" width="0.9" height="0.9" fill="#9a0a0a"/>
<rect x="153.5" y="508.89" width="0.9" height="0.9" fill="#8a0808"/>
<rect x="150.72" y="504.84" width="0.9" height="0.9" fill="#e03030"/>
<rect x="145.24" y="502.71" width="0.9" height="0.9" fill="#9a0a0a"/>
<ellipse cx="144.53" cy="507.65" rx="1.4" ry="3.65" fill="#d88a86" opacity="0.9"/>
<ellipse cx="154.25" cy="507.4" rx="2.4" ry="3.9" fill="#b30c0c"/>
</g>
<line x1="136.4" y1="464.6" x2="185.8" y2="464.6" stroke="#3a3a3a" stroke-width="1"/>
<line x1="185.2" y1="464.2" x2="185.2" y2="513.2" stroke="#5a5a5a" stroke-width="1.15"/>
<line x1="137.1" y1="464.2" x2="137.1" y2="513.8" stroke="#151515" stroke-width="1.45"/>
<line x1="136.4" y1="513.1" x2="185.8" y2="513.1" stroke="#1a1a1a" stroke-width="1.35"/>
<line x1="137.6" y1="507" x2="138.6" y2="507" stroke="#333" stroke-width="0.6"/>
<line x1="137.6" y1="500.8" x2="138.6" y2="500.8" stroke="#333" stroke-width="0.6"/>
<line x1="137.6" y1="494.6" x2="138.6" y2="494.6" stroke="#333" stroke-width="0.6"/>
<line x1="137.6" y1="488.4" x2="138.6" y2="488.4" stroke="#333" stroke-width="0.6"/>
<line x1="137.6" y1="482.2" x2="138.6" y2="482.2" stroke="#333" stroke-width="0.6"/>
<line x1="137.6" y1="476" x2="138.6" y2="476" stroke="#333" stroke-width="0.6"/>
<line x1="137.6" y1="469.8" x2="138.6" y2="469.8" stroke="#333" stroke-width="0.6"/>
<clipPath id="c23"><rect x="193.1" y="465" width="46.9" height="47.6"/></clipPath>
<g clip-path="url(#c23)">
<rect x="201.85" y="471.28" width="0.9" height="0.9" fill="#b02525"/>
<rect x="196.94" y="482.01" width="1.0" height="1.0" fill="#cc8080"/>
<rect x="197.82" y="494.09" width="0.9" height="0.9" fill="#e8c0c0"/>
<rect x="198.45" y="493.33" width="0.9" height="0.9" fill="#e8c0c0"/>
<rect x="201.93" y="485.11" width="1.2" height="1.2" fill="#a01818"/>
<rect x="201.21" y="480.79" width="1.0" height="1.0" fill="#cc8080"/>
<rect x="198.73" y="497.53" width="1.2" height="1.2" fill="#e0b0b0"/>
<rect x="197.59" y="494.59" width="1.2" height="1.2" fill="#c86868"/>
<rect x="196.95" y="489.15" width="1.2" height="1.2" fill="#d89a9a"/>
<rect x="200.52" y="468.17" width="1.0" height="1.0" fill="#b02525"/>
<rect x="199.36" y="475.01" width="0.9" height="0.9" fill="#c04848"/>
<rect x="200.15" y="474.73" width="1.0" height="1.0" fill="#d8a8a8"/>
<rect x="197.76" y="482.33" width="0.9" height="0.9" fill="#b02525"/>
<rect x="196.99" y="487.4" width="1.2" height="1.2" fill="#d89a9a"/>
<rect x="198.22" y="496.07" width="1.2" height="1.2" fill="#d89a9a"/>
<rect x="200.57" y="491.02" width="1.2" height="1.2" fill="#e8c0c0"/>
<rect x="198.77" y="481.07" width="1.2" height="1.2" fill="#b02525"/>
<rect x="199.44" y="474.88" width="0.9" height="0.9" fill="#e8c0c0"/>
<rect x="198.21" y="476.67" width="1.0" height="1.0" fill="#b02525"/>
<rect x="199.33" y="494.71" width="0.9" height="0.9" fill="#a01818"/>
<rect x="197.58" y="494.82" width="1.2" height="1.2" fill="#c86868"/>
<rect x="197.5" y="497.87" width="1.2" height="1.2" fill="#c86868"/>
<rect x="200.37" y="467.65" width="1.0" height="1.0" fill="#b02525"/>
<rect x="198.01" y="497.83" width="1.0" height="1.0" fill="#cc8080"/>
<rect x="198.81" y="486.14" width="1.0" height="1.0" fill="#c86868"/>
<rect x="199.16" y="469.1" width="0.9" height="0.9" fill="#c86868"/>
<rect x="200.06" y="494.65" width="1.2" height="1.2" fill="#d8a8a8"/>
<rect x="199.71" y="474.23" width="0.9" height="0.9" fill="#d89a9a"/>
<rect x="195.76" y="486.82" width="1.2" height="1.2" fill="#e0b0b0"/>
<rect x="200.12" y="471.29" width="1.2" height="1.2" fill="#c04848"/>
<rect x="198.01" y="478.52" width="1.2" height="1.2" fill="#c86868"/>
<rect x="197.17" y="491.3" width="1.0" height="1.0" fill="#cc8080"/>
<rect x="198.86" y="483.41" width="0.9" height="0.9" fill="#d89a9a"/>
<rect x="196.7" y="497.69" width="1.0" height="1.0" fill="#c04848"/>
<rect x="200.96" y="487.26" width="1.2" height="1.2" fill="#c04848"/>
<rect x="202.89" y="496.89" width="1.2" height="1.2" fill="#d8a8a8"/>
<rect x="202.19" y="484.99" width="1.0" height="1.0" fill="#e8c0c0"/>
<rect x="203.22" y="471.59" width="0.9" height="0.9" fill="#d89a9a"/>
<rect x="203.37" y="472.65" width="0.9" height="0.9" fill="#cc8080"/>
<rect x="203.97" y="477.93" width="0.9" height="0.9" fill="#a01818"/>
<rect x="201.73" y="472.71" width="1.2" height="1.2" fill="#cc8080"/>
<rect x="200.87" y="492.61" width="1.2" height="1.2" fill="#d8a8a8"/>
<rect x="201.3" y="492.1" width="0.9" height="0.9" fill="#b02525"/>
<rect x="202.76" y="475.27" width="1.0" height="1.0" fill="#e8c0c0"/>
<rect x="204.1" y="483.7" width="1.2" height="1.2" fill="#d89a9a"/>
<rect x="200.65" y="491.56" width="1.0" height="1.0" fill="#e0b0b0"/>
<rect x="202.92" y="495.28" width="1.0" height="1.0" fill="#a01818"/>
<rect x="208.16" y="474.93" width="1.2" height="1.2" fill="#e8c0c0"/>
<rect x="205.45" y="481.11" width="0.9" height="0.9" fill="#cc8080"/>
<rect x="201.94" y="474.73" width="1.2" height="1.2" fill="#c04848"/>
<rect x="201.68" y="471.54" width="1.2" height="1.2" fill="#d89a9a"/>
<rect x="205.62" y="478.68" width="0.9" height="0.9" fill="#a01818"/>
<rect x="203.37" y="493.32" width="0.9" height="0.9" fill="#e8c0c0"/>
<rect x="207.5" y="489.29" width="1.0" height="1.0" fill="#b02525"/>
<rect x="204.39" y="483.2" width="0.9" height="0.9" fill="#b02525"/>
<rect x="206.06" y="479.66" width="1.2" height="1.2" fill="#cc8080"/>
<rect x="202.89" y="496.89" width="0.9" height="0.9" fill="#c04848"/>
<rect x="207.47" y="475.88" width="0.9" height="0.9" fill="#c04848"/>
<rect x="210.09" y="477.12" width="1.0" height="1.0" fill="#d89a9a"/>
<rect x="210.32" y="478.11" width="1.2" height="1.2" fill="#d89a9a"/>
<rect x="208.73" y="497.55" width="1.0" height="1.0" fill="#b02525"/>
<rect x="208.15" y="497.72" width="0.9" height="0.9" fill="#e0b0b0"/>
<rect x="209.16" y="476.14" width="1.2" height="1.2" fill="#e0b0b0"/>
<rect x="209.48" y="494.52" width="1.2" height="1.2" fill="#cc8080"/>
<rect x="207.19" y="482.22" width="1.0" height="1.0" fill="#d89a9a"/>
<rect x="210.26" y="478.39" width="1.0" height="1.0" fill="#c04848"/>
<rect x="206.71" y="479.91" width="1.0" height="1.0" fill="#a01818"/>
<rect x="210.37" y="490.86" width="1.2" height="1.2" fill="#c86868"/>
<rect x="207.59" y="490.59" width="0.9" height="0.9" fill="#a01818"/>
<rect x="208.37" y="492.6" width="1.0" height="1.0" fill="#cc8080"/>
<rect x="209.49" y="490.42" width="1.0" height="1.0" fill="#c86868"/>
<rect x="206.81" y="497.65" width="1.0" height="1.0" fill="#d89a9a"/>
<rect x="209.23" y="491.48" width="0.9" height="0.9" fill="#e8c0c0"/>
<rect x="207.22" y="487.53" width="1.2" height="1.2" fill="#cc8080"/>
<rect x="209.27" y="495.13" width="0.9" height="0.9" fill="#cc8080"/>
<rect x="210.07" y="489.45" width="1.0" height="1.0" fill="#a01818"/>
<rect x="207.85" y="482.43" width="1.0" height="1.0" fill="#cc8080"/>
<path d="M202.5 512.8 L202.5 500.6 Q202.5 496.4 206.7 496.4 L209.2 496.4 Q213.4 496.4 213.4 500.6 L213.4 512.8 Z" fill="#c81414" stroke="#8e0909" stroke-width="1.1"/>
<path d="M195.2 512.8 L195.2 500.2 Q195.2 496 199.4 496 L199.5 496 Q203.7 496 203.7 500.2 L203.7 512.8 Z" fill="#c81414" stroke="#8e0909" stroke-width="1.1"/>
<circle cx="201.66" cy="497.54" r="1.25" fill="#a80c0c"/>
<circle cx="210.88" cy="497.27" r="1.08" fill="#8e0909"/>
<circle cx="208.72" cy="497.17" r="1.15" fill="#8e0909"/>
<circle cx="211.83" cy="498.27" r="0.84" fill="#a80c0c"/>
<circle cx="209.56" cy="496.83" r="0.59" fill="#a80c0c"/>
<circle cx="206.17" cy="496.99" r="0.93" fill="#c81414"/>
<circle cx="209.28" cy="497.36" r="0.75" fill="#c81414"/>
<circle cx="204.18" cy="498.27" r="0.94" fill="#c81414"/>
<circle cx="201.45" cy="497.06" r="1.09" fill="#a80c0c"/>
<circle cx="205.53" cy="497.09" r="1.22" fill="#a80c0c"/>
<circle cx="209.24" cy="497.54" r="0.61" fill="#a80c0c"/>
<circle cx="211.71" cy="497.72" r="1.28" fill="#a80c0c"/>
<circle cx="196.9" cy="497.86" r="0.57" fill="#a80c0c"/>
<circle cx="203.89" cy="497.9" r="1.25" fill="#c81414"/>
<circle cx="200.29" cy="497.27" r="0.96" fill="#a80c0c"/>
<circle cx="195.62" cy="499.5" r="1.24" fill="#a80c0c"/>
<circle cx="208.38" cy="497.46" r="0.56" fill="#8e0909"/>
<circle cx="210.2" cy="497.51" r="0.89" fill="#8e0909"/>
<circle cx="200.08" cy="496.92" r="1.24" fill="#c81414"/>
<circle cx="208.86" cy="497.26" r="0.96" fill="#8e0909"/>
<circle cx="206.7" cy="497.44" r="0.61" fill="#c81414"/>
<circle cx="206.87" cy="497.25" r="1.25" fill="#c81414"/>
<circle cx="195.65" cy="499.08" r="0.9" fill="#c81414"/>
<circle cx="207.3" cy="497.47" r="0.99" fill="#8e0909"/>
<circle cx="213.9" cy="502.82" r="0.58" fill="#8e0909"/>
<circle cx="213.89" cy="500.67" r="0.97" fill="#8e0909"/>
<circle cx="213.9" cy="500" r="1.03" fill="#8e0909"/>
<circle cx="213.5" cy="501.23" r="0.97" fill="#8e0909"/>
<circle cx="213.76" cy="507.72" r="1.12" fill="#8e0909"/>
<circle cx="213.44" cy="501.37" r="0.96" fill="#8e0909"/>
<circle cx="213.75" cy="499.83" r="1.07" fill="#8e0909"/>
<circle cx="213.85" cy="510.46" r="0.58" fill="#8e0909"/>
<circle cx="213.44" cy="504.6" r="0.97" fill="#8e0909"/>
<circle cx="213.6" cy="503.85" r="1.07" fill="#8e0909"/>
<rect x="208.14" y="499.67" width="0.9" height="0.9" fill="#8a0808"/>
<rect x="203.56" y="499.86" width="0.9" height="0.9" fill="#a80c0c"/>
<rect x="201.3" y="505.91" width="0.9" height="0.9" fill="#9a0a0a"/>
<rect x="209.32" y="508.74" width="0.9" height="0.9" fill="#a80c0c"/>
<rect x="196.48" y="502.89" width="0.9" height="0.9" fill="#9a0a0a"/>
<rect x="209.02" y="504.28" width="0.9" height="0.9" fill="#9a0a0a"/>
<rect x="198.17" y="511.06" width="0.9" height="0.9" fill="#e03030"/>
<rect x="208.64" y="504.55" width="0.9" height="0.9" fill="#e03030"/>
<rect x="200.67" y="509.67" width="0.9" height="0.9" fill="#8a0808"/>
<rect x="209.57" y="499.01" width="0.9" height="0.9" fill="#8a0808"/>
<rect x="202.05" y="508.58" width="0.9" height="0.9" fill="#a80c0c"/>
<rect x="205.49" y="507.39" width="0.9" height="0.9" fill="#9a0a0a"/>
<rect x="195.63" y="510.56" width="0.9" height="0.9" fill="#e03030"/>
<rect x="207.81" y="499.03" width="0.9" height="0.9" fill="#e03030"/>
<rect x="212.43" y="507.16" width="0.9" height="0.9" fill="#a80c0c"/>
<rect x="202.65" y="499.02" width="0.9" height="0.9" fill="#e03030"/>
<rect x="204.71" y="512.07" width="0.9" height="0.9" fill="#8a0808"/>
<rect x="207.49" y="500.14" width="0.9" height="0.9" fill="#e03030"/>
<rect x="202.52" y="502.36" width="0.9" height="0.9" fill="#a80c0c"/>
<rect x="210.06" y="511.13" width="0.9" height="0.9" fill="#e03030"/>
<rect x="205.18" y="510.94" width="0.9" height="0.9" fill="#8a0808"/>
<rect x="201.59" y="511.63" width="0.9" height="0.9" fill="#8a0808"/>
<rect x="207.3" y="510.44" width="0.9" height="0.9" fill="#e03030"/>
<rect x="198.42" y="497.3" width="0.9" height="0.9" fill="#a80c0c"/>
<rect x="211.63" y="503.02" width="0.9" height="0.9" fill="#a80c0c"/>
<rect x="206.16" y="509.94" width="0.9" height="0.9" fill="#e03030"/>
<rect x="199.86" y="511.64" width="0.9" height="0.9" fill="#a80c0c"/>
<rect x="207.71" y="512.51" width="0.9" height="0.9" fill="#a80c0c"/>
<rect x="204.15" y="502.35" width="0.9" height="0.9" fill="#8a0808"/>
<rect x="201.38" y="505.58" width="0.9" height="0.9" fill="#8a0808"/>
<rect x="210.67" y="498.19" width="0.9" height="0.9" fill="#8a0808"/>
<rect x="211.55" y="506.5" width="0.9" height="0.9" fill="#9a0a0a"/>
<rect x="196.38" y="499.01" width="0.9" height="0.9" fill="#a80c0c"/>
<rect x="197.31" y="503.88" width="0.9" height="0.9" fill="#a80c0c"/>
<rect x="201.66" y="498.6" width="0.9" height="0.9" fill="#e03030"/>
<rect x="201.25" y="506.02" width="0.9" height="0.9" fill="#8a0808"/>
<rect x="211.9" y="512.79" width="0.9" height="0.9" fill="#a80c0c"/>
<rect x="210.7" y="509.14" width="0.9" height="0.9" fill="#e03030"/>
<rect x="213.23" y="497.97" width="0.9" height="0.9" fill="#a80c0c"/>
<rect x="208.49" y="510.38" width="0.9" height="0.9" fill="#8a0808"/>
<rect x="205.05" y="507.26" width="0.9" height="0.9" fill="#9a0a0a"/>
<rect x="197.5" y="497.21" width="0.9" height="0.9" fill="#e03030"/>
<rect x="211.83" y="510.46" width="0.9" height="0.9" fill="#8a0808"/>
<rect x="209.38" y="505.77" width="0.9" height="0.9" fill="#a80c0c"/>
<rect x="207.16" y="500.35" width="0.9" height="0.9" fill="#9a0a0a"/>
<rect x="200.31" y="509.62" width="0.9" height="0.9" fill="#a80c0c"/>
<rect x="197.19" y="512.64" width="0.9" height="0.9" fill="#9a0a0a"/>
<rect x="209.88" y="501.34" width="0.9" height="0.9" fill="#8a0808"/>
<rect x="198.33" y="506.68" width="0.9" height="0.9" fill="#8a0808"/>
<rect x="202.87" y="500.17" width="0.9" height="0.9" fill="#a80c0c"/>
<rect x="212.25" y="512.39" width="0.9" height="0.9" fill="#8a0808"/>
<rect x="197.4" y="508.63" width="0.9" height="0.9" fill="#e03030"/>
<rect x="198.48" y="510.14" width="0.9" height="0.9" fill="#a80c0c"/>
<rect x="199.16" y="497.11" width="0.9" height="0.9" fill="#e03030"/>
<rect x="204.56" y="503.79" width="0.9" height="0.9" fill="#a80c0c"/>
<rect x="202.69" y="500.13" width="0.9" height="0.9" fill="#9a0a0a"/>
<rect x="209.85" y="511.25" width="0.9" height="0.9" fill="#9a0a0a"/>
<rect x="208.31" y="497.45" width="0.9" height="0.9" fill="#e03030"/>
<rect x="195.91" y="506.07" width="0.9" height="0.9" fill="#8a0808"/>
<rect x="207.93" y="506.28" width="0.9" height="0.9" fill="#9a0a0a"/>
<rect x="211.34" y="500.85" width="0.9" height="0.9" fill="#9a0a0a"/>
<rect x="209.25" y="499.45" width="0.9" height="0.9" fill="#9a0a0a"/>
<rect x="196.3" y="498.71" width="0.9" height="0.9" fill="#a80c0c"/>
<rect x="212.39" y="510.48" width="0.9" height="0.9" fill="#8a0808"/>
<rect x="204.82" y="505.05" width="0.9" height="0.9" fill="#9a0a0a"/>
<rect x="211.06" y="505.93" width="0.9" height="0.9" fill="#a80c0c"/>
<rect x="195.33" y="504.99" width="0.9" height="0.9" fill="#8a0808"/>
<rect x="210.66" y="497.41" width="0.9" height="0.9" fill="#8a0808"/>
<rect x="199.6" y="506.61" width="0.9" height="0.9" fill="#9a0a0a"/>
<rect x="201.24" y="511.69" width="0.9" height="0.9" fill="#a80c0c"/>
<ellipse cx="198.84" cy="505.9" rx="1.4" ry="5.4" fill="#d88a86" opacity="0.9"/>
<ellipse cx="208.85" cy="505.6" rx="2.4" ry="5.7" fill="#b30c0c"/>
</g>
<line x1="191.6" y1="464.6" x2="241" y2="464.6" stroke="#3a3a3a" stroke-width="1"/>
<line x1="240.4" y1="464.2" x2="240.4" y2="513.2" stroke="#5a5a5a" stroke-width="1.15"/>
<line x1="192.3" y1="464.2" x2="192.3" y2="513.8" stroke="#151515" stroke-width="1.45"/>
<line x1="191.6" y1="513.1" x2="241" y2="513.1" stroke="#1a1a1a" stroke-width="1.35"/>
<line x1="192.8" y1="507" x2="193.8" y2="507" stroke="#333" stroke-width="0.6"/>
<line x1="192.8" y1="500.8" x2="193.8" y2="500.8" stroke="#333" stroke-width="0.6"/>
<line x1="192.8" y1="494.6" x2="193.8" y2="494.6" stroke="#333" stroke-width="0.6"/>
<line x1="192.8" y1="488.4" x2="193.8" y2="488.4" stroke="#333" stroke-width="0.6"/>
<line x1="192.8" y1="482.2" x2="193.8" y2="482.2" stroke="#333" stroke-width="0.6"/>
<line x1="192.8" y1="476" x2="193.8" y2="476" stroke="#333" stroke-width="0.6"/>
<line x1="192.8" y1="469.8" x2="193.8" y2="469.8" stroke="#333" stroke-width="0.6"/>
<clipPath id="c24"><rect x="263.5" y="465" width="46.9" height="47.6"/></clipPath>
<g clip-path="url(#c24)">
<rect x="276.55" y="489.1" width="0.8" height="0.8" fill="#8ccaf2"/>
<rect x="270.62" y="496.12" width="0.8" height="0.8" fill="#8ccaf2"/>
<rect x="276.05" y="496.52" width="0.8" height="0.8" fill="#8ccaf2"/>
<rect x="277.68" y="495.29" width="0.8" height="0.8" fill="#8ccaf2"/>
<rect x="273.3" y="488.74" width="0.8" height="0.8" fill="#6ab4ea"/>
<rect x="269.39" y="493.08" width="0.8" height="0.8" fill="#b0d8f4"/>
<rect x="276.87" y="493.84" width="0.8" height="0.8" fill="#b0d8f4"/>
<rect x="274" y="486.87" width="0.8" height="0.8" fill="#6ab4ea"/>
<rect x="277.13" y="489.06" width="0.8" height="0.8" fill="#8ccaf2"/>
<rect x="276.17" y="487.39" width="0.8" height="0.8" fill="#8ccaf2"/>
<path d="M266 507.3 C267 502.3 270.44 497.3 272.44 499.3 C273.44 502.3 269 507.3 266 507.3 Z" fill="#8ad4f6" stroke="#2a98e8" stroke-width="1.0"/>
<path d="M270.94 502.8 C272.44 498.3 280.9 497.3 282.9 499.8 C284.4 501.8 283.9 505.8 279.9 505.3 C275.44 505.8 271.44 507.3 270.94 502.8 Z" fill="#2a92e8" stroke="#1a84dc" stroke-width="1.0"/>
<ellipse cx="278.67" cy="502.1" rx="3.21" ry="1.4" fill="#4aa8ee"/>
</g>
<line x1="262" y1="464.6" x2="311.4" y2="464.6" stroke="#3a3a3a" stroke-width="1"/>
<line x1="310.8" y1="464.2" x2="310.8" y2="513.2" stroke="#5a5a5a" stroke-width="1.15"/>
<line x1="262.7" y1="464.2" x2="262.7" y2="513.8" stroke="#151515" stroke-width="1.45"/>
<line x1="262" y1="513.1" x2="311.4" y2="513.1" stroke="#1a1a1a" stroke-width="1.35"/>
<line x1="263.2" y1="507" x2="264.2" y2="507" stroke="#333" stroke-width="0.6"/>
<line x1="263.2" y1="500.8" x2="264.2" y2="500.8" stroke="#333" stroke-width="0.6"/>
<line x1="263.2" y1="494.6" x2="264.2" y2="494.6" stroke="#333" stroke-width="0.6"/>
<line x1="263.2" y1="488.4" x2="264.2" y2="488.4" stroke="#333" stroke-width="0.6"/>
<line x1="263.2" y1="482.2" x2="264.2" y2="482.2" stroke="#333" stroke-width="0.6"/>
<line x1="263.2" y1="476" x2="264.2" y2="476" stroke="#333" stroke-width="0.6"/>
<line x1="263.2" y1="469.8" x2="264.2" y2="469.8" stroke="#333" stroke-width="0.6"/>
<clipPath id="c25"><rect x="318.7" y="465" width="46.9" height="47.6"/></clipPath>
<g clip-path="url(#c25)">
<rect x="328.9" y="478.82" width="0.8" height="0.8" fill="#8ccaf2"/>
<rect x="327.73" y="480.76" width="0.8" height="0.8" fill="#3090dd"/>
<rect x="326.5" y="477.88" width="0.8" height="0.8" fill="#b8ddf6"/>
<rect x="326.45" y="491.09" width="0.8" height="0.8" fill="#8ccaf2"/>
<rect x="330.41" y="503.74" width="0.8" height="0.8" fill="#5aaee8"/>
<rect x="329.86" y="483.44" width="0.8" height="0.8" fill="#b8ddf6"/>
<rect x="332.1" y="502.34" width="0.8" height="0.8" fill="#b8ddf6"/>
<rect x="329.87" y="492.37" width="0.8" height="0.8" fill="#8ccaf2"/>
<rect x="330.49" y="497.5" width="0.8" height="0.8" fill="#b8ddf6"/>
<rect x="327.55" y="502.85" width="0.8" height="0.8" fill="#3090dd"/>
<rect x="326.72" y="496.11" width="0.8" height="0.8" fill="#8ccaf2"/>
<rect x="329.88" y="503.68" width="0.8" height="0.8" fill="#8ccaf2"/>
<rect x="330.08" y="504.81" width="0.8" height="0.8" fill="#5aaee8"/>
<rect x="331.72" y="481.11" width="0.8" height="0.8" fill="#3090dd"/>
<rect x="329.31" y="493.33" width="0.8" height="0.8" fill="#3090dd"/>
<rect x="329.36" y="482.55" width="0.8" height="0.8" fill="#3090dd"/>
<rect x="328.22" y="505.42" width="0.8" height="0.8" fill="#3090dd"/>
<rect x="332.14" y="496.9" width="0.8" height="0.8" fill="#3090dd"/>
<rect x="326.33" y="478.43" width="0.8" height="0.8" fill="#3090dd"/>
<rect x="330.62" y="497.68" width="0.8" height="0.8" fill="#8ccaf2"/>
<rect x="332.2" y="503.73" width="0.8" height="0.8" fill="#5aaee8"/>
<rect x="331.09" y="480.39" width="0.8" height="0.8" fill="#5aaee8"/>
<rect x="327.77" y="503.19" width="0.8" height="0.8" fill="#b8ddf6"/>
<rect x="327.71" y="488.93" width="0.8" height="0.8" fill="#3090dd"/>
<rect x="328.84" y="497.32" width="0.8" height="0.8" fill="#3090dd"/>
<rect x="329.47" y="487.27" width="0.8" height="0.8" fill="#3090dd"/>
<rect x="328.89" y="493.07" width="0.8" height="0.8" fill="#8ccaf2"/>
<rect x="332.41" y="500.14" width="0.8" height="0.8" fill="#b8ddf6"/>
<rect x="331.96" y="486.37" width="0.8" height="0.8" fill="#5aaee8"/>
<rect x="330.29" y="502.46" width="0.8" height="0.8" fill="#b8ddf6"/>
<rect x="329.89" y="485.25" width="0.8" height="0.8" fill="#b8ddf6"/>
<rect x="330.43" y="505.71" width="0.8" height="0.8" fill="#5aaee8"/>
<rect x="331.3" y="505.71" width="0.8" height="0.8" fill="#5aaee8"/>
<rect x="330.58" y="504.79" width="0.8" height="0.8" fill="#3090dd"/>
<rect x="331" y="490" width="0.8" height="0.8" fill="#5aaee8"/>
<rect x="330.09" y="503.68" width="0.8" height="0.8" fill="#8ccaf2"/>
<rect x="333.15" y="504.47" width="0.8" height="0.8" fill="#5aaee8"/>
<rect x="333.1" y="486.45" width="0.8" height="0.8" fill="#5aaee8"/>
<rect x="326.72" y="489.44" width="0.8" height="0.8" fill="#8ccaf2"/>
<rect x="328.53" y="502.72" width="0.8" height="0.8" fill="#5aaee8"/>
<rect x="328.09" y="486.04" width="0.8" height="0.8" fill="#8ccaf2"/>
<rect x="328.29" y="494.35" width="0.8" height="0.8" fill="#b8ddf6"/>
<rect x="331.88" y="497.24" width="0.8" height="0.8" fill="#b8ddf6"/>
<rect x="328.16" y="481.25" width="0.8" height="0.8" fill="#b8ddf6"/>
<rect x="332.34" y="505.58" width="0.8" height="0.8" fill="#b8ddf6"/>
<rect x="326.21" y="499.5" width="0.8" height="0.8" fill="#5aaee8"/>
<rect x="328.64" y="493.86" width="0.8" height="0.8" fill="#8ccaf2"/>
<rect x="327.89" y="494.69" width="0.8" height="0.8" fill="#8ccaf2"/>
<rect x="328.34" y="498.73" width="0.8" height="0.8" fill="#5aaee8"/>
<rect x="328.77" y="504.96" width="0.8" height="0.8" fill="#8ccaf2"/>
<rect x="330.86" y="478.13" width="0.8" height="0.8" fill="#3090dd"/>
<rect x="329.93" y="503.61" width="0.8" height="0.8" fill="#5aaee8"/>
<rect x="330.99" y="486.33" width="0.8" height="0.8" fill="#b8ddf6"/>
<rect x="328.28" y="491.81" width="0.8" height="0.8" fill="#8ccaf2"/>
<rect x="326.74" y="496.96" width="0.8" height="0.8" fill="#8ccaf2"/>
<rect x="327" y="491.16" width="0.8" height="0.8" fill="#8ccaf2"/>
<rect x="327.02" y="487.42" width="0.8" height="0.8" fill="#3090dd"/>
<rect x="326.61" y="477.29" width="0.8" height="0.8" fill="#8ccaf2"/>
<rect x="331.95" y="501.85" width="0.8" height="0.8" fill="#8ccaf2"/>
<rect x="329.64" y="502.41" width="0.8" height="0.8" fill="#3090dd"/>
<rect x="329.96" y="485.27" width="0.9" height="0.9" fill="#1a80d8"/>
<rect x="327.02" y="497.02" width="0.9" height="0.9" fill="#4aa4e8"/>
<rect x="326.65" y="491.63" width="0.9" height="0.9" fill="#1a80d8"/>
<rect x="323.23" y="504.18" width="0.9" height="0.9" fill="#7cc0f0"/>
<rect x="325.08" y="507.07" width="0.9" height="0.9" fill="#1a80d8"/>
<rect x="325.48" y="497.15" width="0.9" height="0.9" fill="#1a80d8"/>
<rect x="326.27" y="493.41" width="0.9" height="0.9" fill="#1a80d8"/>
<rect x="326.11" y="508.4" width="0.9" height="0.9" fill="#7cc0f0"/>
<rect x="325.33" y="496.74" width="0.9" height="0.9" fill="#1a80d8"/>
<rect x="324.72" y="504.69" width="0.9" height="0.9" fill="#2894e4"/>
<rect x="324.37" y="499.07" width="0.9" height="0.9" fill="#1a80d8"/>
<rect x="325.82" y="498.52" width="0.9" height="0.9" fill="#7cc0f0"/>
<rect x="328.46" y="490.18" width="0.9" height="0.9" fill="#4aa4e8"/>
<rect x="325.34" y="508.82" width="0.9" height="0.9" fill="#1a80d8"/>
<rect x="324.85" y="498.37" width="0.9" height="0.9" fill="#2894e4"/>
<rect x="326.89" y="487.94" width="0.9" height="0.9" fill="#2894e4"/>
<rect x="325.91" y="492.11" width="0.9" height="0.9" fill="#1a80d8"/>
<rect x="331.05" y="482.09" width="0.9" height="0.9" fill="#2894e4"/>
<rect x="330.16" y="480.83" width="0.9" height="0.9" fill="#4aa4e8"/>
<rect x="329.17" y="482.91" width="0.9" height="0.9" fill="#2894e4"/>
<rect x="329.56" y="482.77" width="0.9" height="0.9" fill="#4aa4e8"/>
<rect x="324.45" y="497.05" width="0.9" height="0.9" fill="#2894e4"/>
<rect x="326.29" y="495.78" width="0.9" height="0.9" fill="#2894e4"/>
<rect x="329.46" y="480.88" width="0.9" height="0.9" fill="#2894e4"/>
<rect x="325.19" y="506.93" width="0.9" height="0.9" fill="#2894e4"/>
<rect x="328.67" y="482.75" width="0.9" height="0.9" fill="#4aa4e8"/>
<rect x="330.53" y="479.96" width="0.9" height="0.9" fill="#7cc0f0"/>
<rect x="325.86" y="492.9" width="0.9" height="0.9" fill="#1a80d8"/>
<rect x="326.45" y="493.35" width="0.9" height="0.9" fill="#7cc0f0"/>
<rect x="329.89" y="480.65" width="0.9" height="0.9" fill="#2894e4"/>
<rect x="330.51" y="480.18" width="0.9" height="0.9" fill="#1a80d8"/>
<rect x="330.36" y="481.96" width="0.9" height="0.9" fill="#2894e4"/>
<rect x="325.5" y="494.28" width="0.9" height="0.9" fill="#4aa4e8"/>
<rect x="325.78" y="491.54" width="0.9" height="0.9" fill="#7cc0f0"/>
<rect x="328.15" y="492.39" width="0.9" height="0.9" fill="#2894e4"/>
<rect x="329.23" y="493.12" width="0.9" height="0.9" fill="#2894e4"/>
<rect x="327.21" y="504.43" width="0.9" height="0.9" fill="#4aa4e8"/>
<rect x="327.68" y="485.51" width="0.9" height="0.9" fill="#2894e4"/>
<rect x="324.38" y="505.82" width="0.9" height="0.9" fill="#4aa4e8"/>
<rect x="326.15" y="500.61" width="0.9" height="0.9" fill="#7cc0f0"/>
<rect x="328.18" y="489.48" width="0.9" height="0.9" fill="#1a80d8"/>
<rect x="326.03" y="498.09" width="0.9" height="0.9" fill="#2894e4"/>
<rect x="326.01" y="505.71" width="0.9" height="0.9" fill="#2894e4"/>
<rect x="325.46" y="502.29" width="0.9" height="0.9" fill="#4aa4e8"/>
<rect x="328.58" y="487.11" width="0.9" height="0.9" fill="#4aa4e8"/>
<rect x="329.99" y="479.96" width="0.9" height="0.9" fill="#2894e4"/>
<rect x="328.1" y="489.2" width="0.9" height="0.9" fill="#2894e4"/>
<rect x="325.19" y="509.57" width="0.9" height="0.9" fill="#7cc0f0"/>
<rect x="330.49" y="480.36" width="0.9" height="0.9" fill="#1a80d8"/>
<rect x="329.48" y="482.23" width="0.9" height="0.9" fill="#1a80d8"/>
<rect x="330.5" y="491.34" width="0.9" height="0.9" fill="#7cc0f0"/>
<rect x="329.92" y="483.82" width="0.9" height="0.9" fill="#4aa4e8"/>
<rect x="323.65" y="502.35" width="0.9" height="0.9" fill="#7cc0f0"/>
<rect x="326.28" y="496.37" width="0.9" height="0.9" fill="#7cc0f0"/>
<rect x="328.39" y="494.34" width="0.9" height="0.9" fill="#4aa4e8"/>
<rect x="325.26" y="493.72" width="0.9" height="0.9" fill="#4aa4e8"/>
<rect x="325.39" y="495.27" width="0.9" height="0.9" fill="#1a80d8"/>
<rect x="331.13" y="497.07" width="0.9" height="0.9" fill="#2894e4"/>
<rect x="329.58" y="480.37" width="0.9" height="0.9" fill="#1a80d8"/>
<rect x="331.46" y="483.69" width="0.9" height="0.9" fill="#2894e4"/>
<rect x="330.32" y="480.48" width="0.9" height="0.9" fill="#1a80d8"/>
<rect x="329.56" y="479.93" width="0.9" height="0.9" fill="#2894e4"/>
<rect x="327.73" y="487.59" width="0.9" height="0.9" fill="#2894e4"/>
<rect x="328.1" y="485.3" width="0.9" height="0.9" fill="#7cc0f0"/>
<rect x="329.83" y="488.5" width="0.9" height="0.9" fill="#2894e4"/>
<rect x="327.42" y="493.99" width="0.9" height="0.9" fill="#4aa4e8"/>
<rect x="328.1" y="485.08" width="0.9" height="0.9" fill="#4aa4e8"/>
<rect x="328.08" y="503.43" width="0.9" height="0.9" fill="#1a80d8"/>
<rect x="326.03" y="504.62" width="0.9" height="0.9" fill="#4aa4e8"/>
<rect x="329.53" y="480.97" width="0.9" height="0.9" fill="#1a80d8"/>
<rect x="330.28" y="485.91" width="0.9" height="0.9" fill="#4aa4e8"/>
<rect x="324.16" y="506.49" width="0.9" height="0.9" fill="#7cc0f0"/>
<rect x="329.19" y="484.01" width="0.9" height="0.9" fill="#7cc0f0"/>
<rect x="328.72" y="491.41" width="0.9" height="0.9" fill="#2894e4"/>
<rect x="327.68" y="489.29" width="0.9" height="0.9" fill="#1a80d8"/>
<rect x="330.15" y="480.99" width="0.9" height="0.9" fill="#1a80d8"/>
<rect x="322.03" y="510.26" width="0.9" height="0.9" fill="#7cc0f0"/>
<rect x="326.91" y="489.88" width="0.9" height="0.9" fill="#1a80d8"/>
<rect x="329.81" y="482.08" width="0.9" height="0.9" fill="#4aa4e8"/>
<rect x="326.96" y="492.74" width="0.9" height="0.9" fill="#7cc0f0"/>
<polygon points="321.7,511.4 322.14,508.49 322.62,505.62 323.14,502.8 323.71,500.02 324.31,497.29 324.96,494.6 325.65,491.96 326.38,489.36 327.14,486.8 327.96,484.29 328.81,481.82 329.7,479.4 330.2,479.4 329.58,481.82 329.13,484.29 328.78,486.8 328.52,489.36 328.35,491.96 328.25,494.6 328.23,497.29 328.27,500.02 328.38,502.8 328.55,505.62 328.78,508.49 329.08,511.4" fill="#2894e4" opacity="0.8"/>
<path d="M322.2 511.6 C323.2 503.2 326.7 502.2 329.7 503.2 C335.2 501.7 338.2 502.2 338.2 505.2 C338.2 509.9 333.2 510.4 330.7 510.4 C326.7 510.9 324.7 511.9 322.2 511.6 Z" fill="#86c8f2" stroke="#1a80d8" stroke-width="1.1"/>
<ellipse cx="331.2" cy="505.2" rx="3.6" ry="1.3" fill="#2a92e8"/>
<path d="M320.9 512 L325.2 507.4" stroke="#8fd0f6" stroke-width="1"/>
</g>
<line x1="317.2" y1="464.6" x2="366.6" y2="464.6" stroke="#3a3a3a" stroke-width="1"/>
<line x1="366" y1="464.2" x2="366" y2="513.2" stroke="#5a5a5a" stroke-width="1.15"/>
<line x1="317.9" y1="464.2" x2="317.9" y2="513.8" stroke="#151515" stroke-width="1.45"/>
<line x1="317.2" y1="513.1" x2="366.6" y2="513.1" stroke="#1a1a1a" stroke-width="1.35"/>
<line x1="318.4" y1="507" x2="319.4" y2="507" stroke="#333" stroke-width="0.6"/>
<line x1="318.4" y1="500.8" x2="319.4" y2="500.8" stroke="#333" stroke-width="0.6"/>
<line x1="318.4" y1="494.6" x2="319.4" y2="494.6" stroke="#333" stroke-width="0.6"/>
<line x1="318.4" y1="488.4" x2="319.4" y2="488.4" stroke="#333" stroke-width="0.6"/>
<line x1="318.4" y1="482.2" x2="319.4" y2="482.2" stroke="#333" stroke-width="0.6"/>
<line x1="318.4" y1="476" x2="319.4" y2="476" stroke="#333" stroke-width="0.6"/>
<line x1="318.4" y1="469.8" x2="319.4" y2="469.8" stroke="#333" stroke-width="0.6"/>
<clipPath id="c26"><rect x="380.2" y="465" width="46.9" height="47.6"/></clipPath>
<g clip-path="url(#c26)">
<rect x="391.97" y="501.49" width="0.8" height="0.8" fill="#8ccaf2"/>
<rect x="388.19" y="498.39" width="0.8" height="0.8" fill="#8ccaf2"/>
<rect x="392.32" y="495.72" width="0.8" height="0.8" fill="#8ccaf2"/>
<rect x="391.76" y="497.48" width="0.8" height="0.8" fill="#8ccaf2"/>
<rect x="390.63" y="493.09" width="0.8" height="0.8" fill="#6ab4ea"/>
<rect x="387.91" y="494.64" width="0.8" height="0.8" fill="#6ab4ea"/>
<rect x="394.66" y="502.35" width="0.8" height="0.8" fill="#8ccaf2"/>
<rect x="384.73" y="501.39" width="0.8" height="0.8" fill="#b0d8f4"/>
<rect x="393.07" y="493.04" width="0.8" height="0.8" fill="#b0d8f4"/>
<rect x="385.92" y="497.94" width="0.8" height="0.8" fill="#8ccaf2"/>
<path d="M381 512.5 C382 507.7 385.8 502.9 387.8 504.82 C388.8 507.7 384 512.5 381 512.5 Z" fill="#8ad4f6" stroke="#2a98e8" stroke-width="1.0"/>
<path d="M386.3 508.18 C387.8 503.86 396.9 502.9 398.9 505.3 C400.4 507.22 399.9 511.06 395.9 510.58 C390.8 511.06 386.8 512.5 386.3 508.18 Z" fill="#2a92e8" stroke="#1a84dc" stroke-width="1.0"/>
<ellipse cx="394.35" cy="507.51" rx="3.39" ry="1.34" fill="#4aa8ee"/>
</g>
<line x1="378.7" y1="464.6" x2="428.1" y2="464.6" stroke="#3a3a3a" stroke-width="1"/>
<line x1="427.5" y1="464.2" x2="427.5" y2="513.2" stroke="#5a5a5a" stroke-width="1.15"/>
<line x1="379.4" y1="464.2" x2="379.4" y2="513.8" stroke="#151515" stroke-width="1.45"/>
<line x1="378.7" y1="513.1" x2="428.1" y2="513.1" stroke="#1a1a1a" stroke-width="1.35"/>
<line x1="379.9" y1="507" x2="380.9" y2="507" stroke="#333" stroke-width="0.6"/>
<line x1="379.9" y1="500.8" x2="380.9" y2="500.8" stroke="#333" stroke-width="0.6"/>
<line x1="379.9" y1="494.6" x2="380.9" y2="494.6" stroke="#333" stroke-width="0.6"/>
<line x1="379.9" y1="488.4" x2="380.9" y2="488.4" stroke="#333" stroke-width="0.6"/>
<line x1="379.9" y1="482.2" x2="380.9" y2="482.2" stroke="#333" stroke-width="0.6"/>
<line x1="379.9" y1="476" x2="380.9" y2="476" stroke="#333" stroke-width="0.6"/>
<line x1="379.9" y1="469.8" x2="380.9" y2="469.8" stroke="#333" stroke-width="0.6"/>
<clipPath id="c27"><rect x="435.3" y="465" width="46.9" height="47.6"/></clipPath>
<g clip-path="url(#c27)">
<rect x="446.72" y="488.52" width="0.8" height="0.8" fill="#b8ddf6"/>
<rect x="443.99" y="503.29" width="0.8" height="0.8" fill="#b8ddf6"/>
<rect x="444.33" y="484.89" width="0.8" height="0.8" fill="#3090dd"/>
<rect x="443.91" y="482.78" width="0.8" height="0.8" fill="#3090dd"/>
<rect x="447.77" y="487.76" width="0.8" height="0.8" fill="#8ccaf2"/>
<rect x="446.5" y="495.6" width="0.8" height="0.8" fill="#3090dd"/>
<rect x="447.28" y="489.69" width="0.8" height="0.8" fill="#b8ddf6"/>
<rect x="442.87" y="480.93" width="0.8" height="0.8" fill="#3090dd"/>
<rect x="444.33" y="490.87" width="0.8" height="0.8" fill="#b8ddf6"/>
<rect x="446.49" y="500.14" width="0.8" height="0.8" fill="#5aaee8"/>
<rect x="443.4" y="496.4" width="0.8" height="0.8" fill="#b8ddf6"/>
<rect x="448.31" y="485.95" width="0.8" height="0.8" fill="#8ccaf2"/>
<rect x="447.49" y="492.98" width="0.8" height="0.8" fill="#5aaee8"/>
<rect x="445.58" y="501.7" width="0.8" height="0.8" fill="#8ccaf2"/>
<rect x="443.85" y="481.11" width="0.8" height="0.8" fill="#8ccaf2"/>
<rect x="445.54" y="501.71" width="0.8" height="0.8" fill="#3090dd"/>
<rect x="443.19" y="480.3" width="0.8" height="0.8" fill="#3090dd"/>
<rect x="444.93" y="497.13" width="0.8" height="0.8" fill="#b8ddf6"/>
<rect x="443.88" y="497.22" width="0.8" height="0.8" fill="#8ccaf2"/>
<rect x="445.93" y="501.34" width="0.8" height="0.8" fill="#3090dd"/>
<rect x="446.16" y="497.75" width="0.8" height="0.8" fill="#8ccaf2"/>
<rect x="445.18" y="490.26" width="0.8" height="0.8" fill="#b8ddf6"/>
<rect x="444.34" y="492.34" width="0.8" height="0.8" fill="#8ccaf2"/>
<rect x="444.61" y="494.66" width="0.8" height="0.8" fill="#8ccaf2"/>
<rect x="446.34" y="482.85" width="0.8" height="0.8" fill="#5aaee8"/>
<rect x="448.15" y="494.31" width="0.8" height="0.8" fill="#8ccaf2"/>
<rect x="442.82" y="503.42" width="0.8" height="0.8" fill="#5aaee8"/>
<rect x="444.59" y="490.83" width="0.8" height="0.8" fill="#8ccaf2"/>
<rect x="442.99" y="495.66" width="0.8" height="0.8" fill="#3090dd"/>
<rect x="447.26" y="501.12" width="0.8" height="0.8" fill="#b8ddf6"/>
<rect x="447.29" y="490.65" width="0.8" height="0.8" fill="#5aaee8"/>
<rect x="445.1" y="480.48" width="0.8" height="0.8" fill="#b8ddf6"/>
<rect x="447.83" y="485.11" width="0.8" height="0.8" fill="#8ccaf2"/>
<rect x="444.89" y="480.4" width="0.8" height="0.8" fill="#5aaee8"/>
<rect x="443.18" y="503.07" width="0.8" height="0.8" fill="#5aaee8"/>
<rect x="443.63" y="494.69" width="0.8" height="0.8" fill="#3090dd"/>
<rect x="443.42" y="491.33" width="0.8" height="0.8" fill="#b8ddf6"/>
<rect x="442.98" y="493.98" width="0.8" height="0.8" fill="#b8ddf6"/>
<rect x="446.04" y="500.43" width="0.8" height="0.8" fill="#3090dd"/>
<rect x="447.67" y="489.35" width="0.8" height="0.8" fill="#5aaee8"/>
<rect x="447.15" y="497.81" width="0.8" height="0.8" fill="#8ccaf2"/>
<rect x="448.25" y="502.22" width="0.8" height="0.8" fill="#8ccaf2"/>
<rect x="444.28" y="498.13" width="0.8" height="0.8" fill="#8ccaf2"/>
<rect x="443.56" y="496.19" width="0.8" height="0.8" fill="#8ccaf2"/>
<rect x="445.07" y="500.64" width="0.8" height="0.8" fill="#8ccaf2"/>
<rect x="443.93" y="495.14" width="0.8" height="0.8" fill="#8ccaf2"/>
<rect x="446.31" y="493.22" width="0.8" height="0.8" fill="#3090dd"/>
<rect x="446.44" y="500.26" width="0.8" height="0.8" fill="#5aaee8"/>
<rect x="443.37" y="491.24" width="0.8" height="0.8" fill="#3090dd"/>
<rect x="445.01" y="490.29" width="0.8" height="0.8" fill="#5aaee8"/>
<rect x="445.17" y="500.91" width="0.8" height="0.8" fill="#8ccaf2"/>
<rect x="444.92" y="493.22" width="0.8" height="0.8" fill="#b8ddf6"/>
<rect x="448.3" y="481.26" width="0.8" height="0.8" fill="#3090dd"/>
<rect x="444.85" y="499.77" width="0.8" height="0.8" fill="#8ccaf2"/>
<rect x="446.32" y="487.66" width="0.8" height="0.8" fill="#8ccaf2"/>
<rect x="447.02" y="490.36" width="0.8" height="0.8" fill="#8ccaf2"/>
<rect x="447.83" y="480.76" width="0.8" height="0.8" fill="#8ccaf2"/>
<rect x="445.51" y="489.66" width="0.8" height="0.8" fill="#5aaee8"/>
<rect x="444.66" y="491.88" width="0.8" height="0.8" fill="#3090dd"/>
<rect x="448.45" y="488.51" width="0.8" height="0.8" fill="#3090dd"/>
<rect x="448.17" y="481.96" width="0.9" height="0.9" fill="#7cc0f0"/>
<rect x="444.58" y="497.45" width="0.9" height="0.9" fill="#7cc0f0"/>
<rect x="447.38" y="478.81" width="0.9" height="0.9" fill="#1a80d8"/>
<rect x="448.16" y="477.84" width="0.9" height="0.9" fill="#1a80d8"/>
<rect x="441.27" y="501.89" width="0.9" height="0.9" fill="#4aa4e8"/>
<rect x="445.15" y="487.68" width="0.9" height="0.9" fill="#7cc0f0"/>
<rect x="442.78" y="492.6" width="0.9" height="0.9" fill="#1a80d8"/>
<rect x="439.68" y="506.32" width="0.9" height="0.9" fill="#7cc0f0"/>
<rect x="442.93" y="491.12" width="0.9" height="0.9" fill="#1a80d8"/>
<rect x="447.03" y="483.38" width="0.9" height="0.9" fill="#2894e4"/>
<rect x="439.74" y="506.27" width="0.9" height="0.9" fill="#7cc0f0"/>
<rect x="448.52" y="477.33" width="0.9" height="0.9" fill="#4aa4e8"/>
<rect x="441.88" y="499.99" width="0.9" height="0.9" fill="#2894e4"/>
<rect x="445.25" y="484.26" width="0.9" height="0.9" fill="#2894e4"/>
<rect x="439.42" y="507.33" width="0.9" height="0.9" fill="#4aa4e8"/>
<rect x="447.51" y="486.36" width="0.9" height="0.9" fill="#1a80d8"/>
<rect x="439.61" y="506.29" width="0.9" height="0.9" fill="#2894e4"/>
<rect x="448.13" y="482.41" width="0.9" height="0.9" fill="#4aa4e8"/>
<rect x="442.63" y="492.43" width="0.9" height="0.9" fill="#2894e4"/>
<rect x="444.96" y="491.12" width="0.9" height="0.9" fill="#4aa4e8"/>
<rect x="441.76" y="499.73" width="0.9" height="0.9" fill="#1a80d8"/>
<rect x="440.62" y="503.66" width="0.9" height="0.9" fill="#4aa4e8"/>
<rect x="445.65" y="492.66" width="0.9" height="0.9" fill="#4aa4e8"/>
<rect x="447.99" y="486.03" width="0.9" height="0.9" fill="#2894e4"/>
<rect x="443.77" y="492.47" width="0.9" height="0.9" fill="#4aa4e8"/>
<rect x="446.37" y="484.76" width="0.9" height="0.9" fill="#1a80d8"/>
<rect x="443.49" y="489.29" width="0.9" height="0.9" fill="#7cc0f0"/>
<rect x="446.4" y="491.07" width="0.9" height="0.9" fill="#2894e4"/>
<rect x="444.01" y="494.52" width="0.9" height="0.9" fill="#7cc0f0"/>
<rect x="447.79" y="477.63" width="0.9" height="0.9" fill="#7cc0f0"/>
<rect x="442.31" y="494.35" width="0.9" height="0.9" fill="#1a80d8"/>
<rect x="447.19" y="479.64" width="0.9" height="0.9" fill="#7cc0f0"/>
<rect x="445.4" y="483.49" width="0.9" height="0.9" fill="#4aa4e8"/>
<rect x="443.53" y="492.52" width="0.9" height="0.9" fill="#7cc0f0"/>
<rect x="441.87" y="497.93" width="0.9" height="0.9" fill="#2894e4"/>
<rect x="447.7" y="479.81" width="0.9" height="0.9" fill="#2894e4"/>
<rect x="446.57" y="492.41" width="0.9" height="0.9" fill="#2894e4"/>
<rect x="448.52" y="478.07" width="0.9" height="0.9" fill="#2894e4"/>
<rect x="444.75" y="487.61" width="0.9" height="0.9" fill="#7cc0f0"/>
<rect x="448.13" y="479.44" width="0.9" height="0.9" fill="#2894e4"/>
<rect x="441.97" y="498.81" width="0.9" height="0.9" fill="#2894e4"/>
<rect x="448.47" y="481.15" width="0.9" height="0.9" fill="#7cc0f0"/>
<rect x="444.5" y="490.99" width="0.9" height="0.9" fill="#4aa4e8"/>
<rect x="443.66" y="490.44" width="0.9" height="0.9" fill="#2894e4"/>
<rect x="447.04" y="485.06" width="0.9" height="0.9" fill="#7cc0f0"/>
<rect x="439.1" y="510.22" width="0.9" height="0.9" fill="#1a80d8"/>
<rect x="445.8" y="483.56" width="0.9" height="0.9" fill="#7cc0f0"/>
<rect x="446.21" y="481.13" width="0.9" height="0.9" fill="#2894e4"/>
<rect x="442.91" y="492.19" width="0.9" height="0.9" fill="#1a80d8"/>
<rect x="442.33" y="505.51" width="0.9" height="0.9" fill="#7cc0f0"/>
<rect x="440.23" y="503.02" width="0.9" height="0.9" fill="#7cc0f0"/>
<rect x="450" y="479" width="0.9" height="0.9" fill="#1a80d8"/>
<rect x="440.24" y="507.5" width="0.9" height="0.9" fill="#7cc0f0"/>
<rect x="445.15" y="485.31" width="0.9" height="0.9" fill="#4aa4e8"/>
<rect x="441.12" y="501.45" width="0.9" height="0.9" fill="#7cc0f0"/>
<rect x="440.98" y="508.9" width="0.9" height="0.9" fill="#7cc0f0"/>
<rect x="445.37" y="494.16" width="0.9" height="0.9" fill="#2894e4"/>
<rect x="446.27" y="499.1" width="0.9" height="0.9" fill="#1a80d8"/>
<rect x="447.36" y="486.07" width="0.9" height="0.9" fill="#4aa4e8"/>
<rect x="444.08" y="493.59" width="0.9" height="0.9" fill="#7cc0f0"/>
<rect x="447.14" y="479.16" width="0.9" height="0.9" fill="#4aa4e8"/>
<rect x="440.22" y="508.08" width="0.9" height="0.9" fill="#7cc0f0"/>
<rect x="445.85" y="487.89" width="0.9" height="0.9" fill="#2894e4"/>
<rect x="446.75" y="481.3" width="0.9" height="0.9" fill="#2894e4"/>
<rect x="444.65" y="490.48" width="0.9" height="0.9" fill="#2894e4"/>
<rect x="447.25" y="492.66" width="0.9" height="0.9" fill="#4aa4e8"/>
<rect x="440.56" y="503.42" width="0.9" height="0.9" fill="#7cc0f0"/>
<rect x="447.09" y="486.67" width="0.9" height="0.9" fill="#7cc0f0"/>
<rect x="442.74" y="494.74" width="0.9" height="0.9" fill="#2894e4"/>
<rect x="445.19" y="493.66" width="0.9" height="0.9" fill="#1a80d8"/>
<rect x="446.45" y="493.11" width="0.9" height="0.9" fill="#1a80d8"/>
<rect x="443.81" y="489.06" width="0.9" height="0.9" fill="#7cc0f0"/>
<rect x="443.86" y="491.12" width="0.9" height="0.9" fill="#4aa4e8"/>
<rect x="446.57" y="490.12" width="0.9" height="0.9" fill="#4aa4e8"/>
<rect x="447.62" y="488.98" width="0.9" height="0.9" fill="#1a80d8"/>
<rect x="447.21" y="481.38" width="0.9" height="0.9" fill="#2894e4"/>
<rect x="446.37" y="481.3" width="0.9" height="0.9" fill="#1a80d8"/>
<rect x="440.43" y="508.21" width="0.9" height="0.9" fill="#7cc0f0"/>
<rect x="440.21" y="508.8" width="0.9" height="0.9" fill="#7cc0f0"/>
<rect x="447.77" y="483.32" width="0.9" height="0.9" fill="#2894e4"/>
<polygon points="438.8,511.4 439.17,508.29 439.62,505.23 440.13,502.21 440.72,499.24 441.37,496.32 442.1,493.45 442.89,490.62 443.75,487.84 444.68,485.11 445.69,482.43 446.76,479.79 447.9,477.2 448.4,477.2 447.48,479.79 446.73,482.43 446.1,485.11 445.58,487.84 445.17,490.62 444.85,493.45 444.63,496.32 444.5,499.24 444.46,502.21 444.51,505.23 444.64,508.29 444.86,511.4" fill="#2894e4" opacity="0.8"/>
<path d="M439.3 511.6 C440.3 504 443.8 503 446.8 504 C452 502.5 455 503 455 506 C455 509.9 450 510.4 447.8 510.4 C443.8 510.9 441.8 511.9 439.3 511.6 Z" fill="#86c8f2" stroke="#1a80d8" stroke-width="1.1"/>
<ellipse cx="448.3" cy="506" rx="3.6" ry="1.3" fill="#2a92e8"/>
<path d="M438 512 L442.3 507.4" stroke="#8fd0f6" stroke-width="1"/>
</g>
<line x1="433.8" y1="464.6" x2="483.2" y2="464.6" stroke="#3a3a3a" stroke-width="1"/>
<line x1="482.6" y1="464.2" x2="482.6" y2="513.2" stroke="#5a5a5a" stroke-width="1.15"/>
<line x1="434.5" y1="464.2" x2="434.5" y2="513.8" stroke="#151515" stroke-width="1.45"/>
<line x1="433.8" y1="513.1" x2="483.2" y2="513.1" stroke="#1a1a1a" stroke-width="1.35"/>
<line x1="435" y1="507" x2="436" y2="507" stroke="#333" stroke-width="0.6"/>
<line x1="435" y1="500.8" x2="436" y2="500.8" stroke="#333" stroke-width="0.6"/>
<line x1="435" y1="494.6" x2="436" y2="494.6" stroke="#333" stroke-width="0.6"/>
<line x1="435" y1="488.4" x2="436" y2="488.4" stroke="#333" stroke-width="0.6"/>
<line x1="435" y1="482.2" x2="436" y2="482.2" stroke="#333" stroke-width="0.6"/>
<line x1="435" y1="476" x2="436" y2="476" stroke="#333" stroke-width="0.6"/>
<line x1="435" y1="469.8" x2="436" y2="469.8" stroke="#333" stroke-width="0.6"/>
<line x1="12.8" y1="438.5" x2="12.8" y2="487.5" stroke="#111" stroke-width="1.1"/>
<path d="M12.8 435.5L14.8 440.5L10.8 440.5Z" fill="#111"/>
<text x="0" y="0" font-size="8.6" text-anchor="middle" font-weight="bold" fill="#000" transform="translate(15.8 502) rotate(-90)">IFN-γ</text>
<text x="24" y="522.5" font-size="8.4" text-anchor="start" font-weight="bold" fill="#000" >CD8</text>
<line x1="43.2" y1="521.2" x2="91.7" y2="521.2" stroke="#111" stroke-width="1.1"/>
<path d="M94.7 521.2L89.7 519.2L89.7 523.2Z" fill="#111"/>
<line x1="255.1" y1="440.1" x2="255.1" y2="484.4" stroke="#111" stroke-width="1.1"/>
<path d="M255.1 437.1L257.1 442.1L253.1 442.1Z" fill="#111"/>
<text x="0" y="0" font-size="8.6" text-anchor="middle" font-weight="bold" fill="#000" transform="translate(258.2 501) rotate(-90)">TNF-α</text>
<text x="265.2" y="522.5" font-size="8.4" text-anchor="start" font-weight="bold" fill="#000" >CD8</text>
<line x1="284.6" y1="521.2" x2="332.8" y2="521.2" stroke="#111" stroke-width="1.1"/>
<path d="M335.8 521.2L330.8 519.2L330.8 523.2Z" fill="#111"/>
</g></svg></div></body></html>
